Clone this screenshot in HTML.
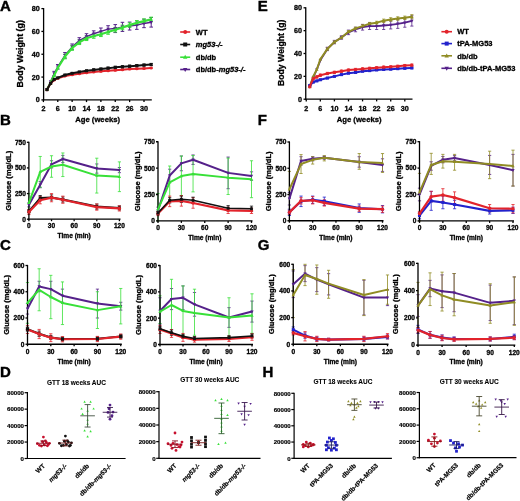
<!DOCTYPE html>
<html><head><meta charset="utf-8"><style>
html,body{margin:0;padding:0;background:#fff;}
svg{display:block;will-change:transform;}
text{font-family:"Liberation Sans", sans-serif;fill:#000;stroke:#000;stroke-width:0.3px;} text.ns{stroke-width:0.08px;} text.lt{stroke-width:0.4px;} text.ms{stroke-width:0.18px;}
</style></head><body>
<svg width="520" height="501" viewBox="0 0 520 501">
<rect width="520" height="501" fill="#fff"/>
<line x1="54.18" y1="71.37" x2="54.18" y2="75.93" stroke="#55218a" stroke-width="1.0"/>
<line x1="52.38" y1="71.37" x2="55.98" y2="71.37" stroke="#55218a" stroke-width="1.0"/>
<line x1="52.38" y1="75.93" x2="55.98" y2="75.93" stroke="#55218a" stroke-width="1.0"/>
<line x1="57.77" y1="64.52" x2="57.77" y2="69.09" stroke="#55218a" stroke-width="1.0"/>
<line x1="55.97" y1="64.52" x2="59.57" y2="64.52" stroke="#55218a" stroke-width="1.0"/>
<line x1="55.97" y1="69.09" x2="59.57" y2="69.09" stroke="#55218a" stroke-width="1.0"/>
<line x1="64.96" y1="52.54" x2="64.96" y2="58.24" stroke="#55218a" stroke-width="1.0"/>
<line x1="63.16" y1="52.54" x2="66.76" y2="52.54" stroke="#55218a" stroke-width="1.0"/>
<line x1="63.16" y1="58.24" x2="66.76" y2="58.24" stroke="#55218a" stroke-width="1.0"/>
<line x1="72.14" y1="43.98" x2="72.14" y2="49.68" stroke="#55218a" stroke-width="1.0"/>
<line x1="70.34" y1="43.98" x2="73.94" y2="43.98" stroke="#55218a" stroke-width="1.0"/>
<line x1="70.34" y1="49.68" x2="73.94" y2="49.68" stroke="#55218a" stroke-width="1.0"/>
<line x1="79.33" y1="37.70" x2="79.33" y2="43.41" stroke="#55218a" stroke-width="1.0"/>
<line x1="77.53" y1="37.70" x2="81.13" y2="37.70" stroke="#55218a" stroke-width="1.0"/>
<line x1="77.53" y1="43.41" x2="81.13" y2="43.41" stroke="#55218a" stroke-width="1.0"/>
<line x1="86.51" y1="33.71" x2="86.51" y2="39.41" stroke="#55218a" stroke-width="1.0"/>
<line x1="84.71" y1="33.71" x2="88.31" y2="33.71" stroke="#55218a" stroke-width="1.0"/>
<line x1="84.71" y1="39.41" x2="88.31" y2="39.41" stroke="#55218a" stroke-width="1.0"/>
<line x1="93.70" y1="30.85" x2="93.70" y2="36.56" stroke="#55218a" stroke-width="1.0"/>
<line x1="91.90" y1="30.85" x2="95.50" y2="30.85" stroke="#55218a" stroke-width="1.0"/>
<line x1="91.90" y1="36.56" x2="95.50" y2="36.56" stroke="#55218a" stroke-width="1.0"/>
<line x1="100.89" y1="28.00" x2="100.89" y2="34.85" stroke="#55218a" stroke-width="1.0"/>
<line x1="99.09" y1="28.00" x2="102.69" y2="28.00" stroke="#55218a" stroke-width="1.0"/>
<line x1="99.09" y1="34.85" x2="102.69" y2="34.85" stroke="#55218a" stroke-width="1.0"/>
<line x1="108.07" y1="25.72" x2="108.07" y2="32.57" stroke="#55218a" stroke-width="1.0"/>
<line x1="106.27" y1="25.72" x2="109.87" y2="25.72" stroke="#55218a" stroke-width="1.0"/>
<line x1="106.27" y1="32.57" x2="109.87" y2="32.57" stroke="#55218a" stroke-width="1.0"/>
<line x1="115.26" y1="24.58" x2="115.26" y2="32.57" stroke="#55218a" stroke-width="1.0"/>
<line x1="113.46" y1="24.58" x2="117.06" y2="24.58" stroke="#55218a" stroke-width="1.0"/>
<line x1="113.46" y1="32.57" x2="117.06" y2="32.57" stroke="#55218a" stroke-width="1.0"/>
<line x1="122.44" y1="22.30" x2="122.44" y2="31.42" stroke="#55218a" stroke-width="1.0"/>
<line x1="120.64" y1="22.30" x2="124.24" y2="22.30" stroke="#55218a" stroke-width="1.0"/>
<line x1="120.64" y1="31.42" x2="124.24" y2="31.42" stroke="#55218a" stroke-width="1.0"/>
<line x1="129.63" y1="22.07" x2="129.63" y2="30.06" stroke="#55218a" stroke-width="1.0"/>
<line x1="127.83" y1="22.07" x2="131.43" y2="22.07" stroke="#55218a" stroke-width="1.0"/>
<line x1="127.83" y1="30.06" x2="131.43" y2="30.06" stroke="#55218a" stroke-width="1.0"/>
<line x1="136.81" y1="20.93" x2="136.81" y2="29.37" stroke="#55218a" stroke-width="1.0"/>
<line x1="135.01" y1="20.93" x2="138.61" y2="20.93" stroke="#55218a" stroke-width="1.0"/>
<line x1="135.01" y1="29.37" x2="138.61" y2="29.37" stroke="#55218a" stroke-width="1.0"/>
<line x1="144.00" y1="19.21" x2="144.00" y2="27.66" stroke="#55218a" stroke-width="1.0"/>
<line x1="142.20" y1="19.21" x2="145.80" y2="19.21" stroke="#55218a" stroke-width="1.0"/>
<line x1="142.20" y1="27.66" x2="145.80" y2="27.66" stroke="#55218a" stroke-width="1.0"/>
<line x1="151.19" y1="17.50" x2="151.19" y2="27.09" stroke="#55218a" stroke-width="1.0"/>
<line x1="149.39" y1="17.50" x2="152.99" y2="17.50" stroke="#55218a" stroke-width="1.0"/>
<line x1="149.39" y1="27.09" x2="152.99" y2="27.09" stroke="#55218a" stroke-width="1.0"/>
<line x1="64.96" y1="54.25" x2="64.96" y2="58.82" stroke="#38e038" stroke-width="1.0"/>
<line x1="63.16" y1="54.25" x2="66.76" y2="54.25" stroke="#38e038" stroke-width="1.0"/>
<line x1="63.16" y1="58.82" x2="66.76" y2="58.82" stroke="#38e038" stroke-width="1.0"/>
<line x1="72.14" y1="45.69" x2="72.14" y2="50.26" stroke="#38e038" stroke-width="1.0"/>
<line x1="70.34" y1="45.69" x2="73.94" y2="45.69" stroke="#38e038" stroke-width="1.0"/>
<line x1="70.34" y1="50.26" x2="73.94" y2="50.26" stroke="#38e038" stroke-width="1.0"/>
<line x1="79.33" y1="39.98" x2="79.33" y2="44.55" stroke="#38e038" stroke-width="1.0"/>
<line x1="77.53" y1="39.98" x2="81.13" y2="39.98" stroke="#38e038" stroke-width="1.0"/>
<line x1="77.53" y1="44.55" x2="81.13" y2="44.55" stroke="#38e038" stroke-width="1.0"/>
<line x1="86.51" y1="35.99" x2="86.51" y2="40.55" stroke="#38e038" stroke-width="1.0"/>
<line x1="84.71" y1="35.99" x2="88.31" y2="35.99" stroke="#38e038" stroke-width="1.0"/>
<line x1="84.71" y1="40.55" x2="88.31" y2="40.55" stroke="#38e038" stroke-width="1.0"/>
<line x1="93.70" y1="33.71" x2="93.70" y2="38.27" stroke="#38e038" stroke-width="1.0"/>
<line x1="91.90" y1="33.71" x2="95.50" y2="33.71" stroke="#38e038" stroke-width="1.0"/>
<line x1="91.90" y1="38.27" x2="95.50" y2="38.27" stroke="#38e038" stroke-width="1.0"/>
<line x1="100.89" y1="32.00" x2="100.89" y2="36.56" stroke="#38e038" stroke-width="1.0"/>
<line x1="99.09" y1="32.00" x2="102.69" y2="32.00" stroke="#38e038" stroke-width="1.0"/>
<line x1="99.09" y1="36.56" x2="102.69" y2="36.56" stroke="#38e038" stroke-width="1.0"/>
<line x1="108.07" y1="29.71" x2="108.07" y2="34.28" stroke="#38e038" stroke-width="1.0"/>
<line x1="106.27" y1="29.71" x2="109.87" y2="29.71" stroke="#38e038" stroke-width="1.0"/>
<line x1="106.27" y1="34.28" x2="109.87" y2="34.28" stroke="#38e038" stroke-width="1.0"/>
<line x1="115.26" y1="27.43" x2="115.26" y2="32.00" stroke="#38e038" stroke-width="1.0"/>
<line x1="113.46" y1="27.43" x2="117.06" y2="27.43" stroke="#38e038" stroke-width="1.0"/>
<line x1="113.46" y1="32.00" x2="117.06" y2="32.00" stroke="#38e038" stroke-width="1.0"/>
<line x1="122.44" y1="25.15" x2="122.44" y2="29.71" stroke="#38e038" stroke-width="1.0"/>
<line x1="120.64" y1="25.15" x2="124.24" y2="25.15" stroke="#38e038" stroke-width="1.0"/>
<line x1="120.64" y1="29.71" x2="124.24" y2="29.71" stroke="#38e038" stroke-width="1.0"/>
<line x1="129.63" y1="22.87" x2="129.63" y2="27.43" stroke="#38e038" stroke-width="1.0"/>
<line x1="127.83" y1="22.87" x2="131.43" y2="22.87" stroke="#38e038" stroke-width="1.0"/>
<line x1="127.83" y1="27.43" x2="131.43" y2="27.43" stroke="#38e038" stroke-width="1.0"/>
<line x1="136.81" y1="20.58" x2="136.81" y2="25.15" stroke="#38e038" stroke-width="1.0"/>
<line x1="135.01" y1="20.58" x2="138.61" y2="20.58" stroke="#38e038" stroke-width="1.0"/>
<line x1="135.01" y1="25.15" x2="138.61" y2="25.15" stroke="#38e038" stroke-width="1.0"/>
<line x1="144.00" y1="18.87" x2="144.00" y2="23.44" stroke="#38e038" stroke-width="1.0"/>
<line x1="142.20" y1="18.87" x2="145.80" y2="18.87" stroke="#38e038" stroke-width="1.0"/>
<line x1="142.20" y1="23.44" x2="145.80" y2="23.44" stroke="#38e038" stroke-width="1.0"/>
<line x1="151.19" y1="17.16" x2="151.19" y2="21.72" stroke="#38e038" stroke-width="1.0"/>
<line x1="149.39" y1="17.16" x2="152.99" y2="17.16" stroke="#38e038" stroke-width="1.0"/>
<line x1="149.39" y1="21.72" x2="152.99" y2="21.72" stroke="#38e038" stroke-width="1.0"/>
<line x1="46.99" y1="89.06" x2="46.99" y2="90.20" stroke="#e2232b" stroke-width="0.8"/>
<line x1="45.39" y1="89.06" x2="48.59" y2="89.06" stroke="#e2232b" stroke-width="0.8"/>
<line x1="45.39" y1="90.20" x2="48.59" y2="90.20" stroke="#e2232b" stroke-width="0.8"/>
<line x1="50.59" y1="82.78" x2="50.59" y2="83.92" stroke="#e2232b" stroke-width="0.8"/>
<line x1="48.99" y1="82.78" x2="52.19" y2="82.78" stroke="#e2232b" stroke-width="0.8"/>
<line x1="48.99" y1="83.92" x2="52.19" y2="83.92" stroke="#e2232b" stroke-width="0.8"/>
<line x1="54.18" y1="79.36" x2="54.18" y2="80.50" stroke="#e2232b" stroke-width="0.8"/>
<line x1="52.58" y1="79.36" x2="55.78" y2="79.36" stroke="#e2232b" stroke-width="0.8"/>
<line x1="52.58" y1="80.50" x2="55.78" y2="80.50" stroke="#e2232b" stroke-width="0.8"/>
<line x1="57.77" y1="77.65" x2="57.77" y2="78.79" stroke="#e2232b" stroke-width="0.8"/>
<line x1="56.17" y1="77.65" x2="59.37" y2="77.65" stroke="#e2232b" stroke-width="0.8"/>
<line x1="56.17" y1="78.79" x2="59.37" y2="78.79" stroke="#e2232b" stroke-width="0.8"/>
<line x1="64.96" y1="75.36" x2="64.96" y2="76.50" stroke="#e2232b" stroke-width="0.8"/>
<line x1="63.36" y1="75.36" x2="66.56" y2="75.36" stroke="#e2232b" stroke-width="0.8"/>
<line x1="63.36" y1="76.50" x2="66.56" y2="76.50" stroke="#e2232b" stroke-width="0.8"/>
<line x1="72.14" y1="74.22" x2="72.14" y2="75.36" stroke="#e2232b" stroke-width="0.8"/>
<line x1="70.54" y1="74.22" x2="73.74" y2="74.22" stroke="#e2232b" stroke-width="0.8"/>
<line x1="70.54" y1="75.36" x2="73.74" y2="75.36" stroke="#e2232b" stroke-width="0.8"/>
<line x1="79.33" y1="73.08" x2="79.33" y2="74.22" stroke="#e2232b" stroke-width="0.8"/>
<line x1="77.73" y1="73.08" x2="80.93" y2="73.08" stroke="#e2232b" stroke-width="0.8"/>
<line x1="77.73" y1="74.22" x2="80.93" y2="74.22" stroke="#e2232b" stroke-width="0.8"/>
<line x1="86.51" y1="72.17" x2="86.51" y2="73.31" stroke="#e2232b" stroke-width="0.8"/>
<line x1="84.91" y1="72.17" x2="88.11" y2="72.17" stroke="#e2232b" stroke-width="0.8"/>
<line x1="84.91" y1="73.31" x2="88.11" y2="73.31" stroke="#e2232b" stroke-width="0.8"/>
<line x1="93.70" y1="71.37" x2="93.70" y2="72.51" stroke="#e2232b" stroke-width="0.8"/>
<line x1="92.10" y1="71.37" x2="95.30" y2="71.37" stroke="#e2232b" stroke-width="0.8"/>
<line x1="92.10" y1="72.51" x2="95.30" y2="72.51" stroke="#e2232b" stroke-width="0.8"/>
<line x1="100.89" y1="70.80" x2="100.89" y2="71.94" stroke="#e2232b" stroke-width="0.8"/>
<line x1="99.29" y1="70.80" x2="102.49" y2="70.80" stroke="#e2232b" stroke-width="0.8"/>
<line x1="99.29" y1="71.94" x2="102.49" y2="71.94" stroke="#e2232b" stroke-width="0.8"/>
<line x1="108.07" y1="70.23" x2="108.07" y2="71.37" stroke="#e2232b" stroke-width="0.8"/>
<line x1="106.47" y1="70.23" x2="109.67" y2="70.23" stroke="#e2232b" stroke-width="0.8"/>
<line x1="106.47" y1="71.37" x2="109.67" y2="71.37" stroke="#e2232b" stroke-width="0.8"/>
<line x1="115.26" y1="69.66" x2="115.26" y2="70.80" stroke="#e2232b" stroke-width="0.8"/>
<line x1="113.66" y1="69.66" x2="116.86" y2="69.66" stroke="#e2232b" stroke-width="0.8"/>
<line x1="113.66" y1="70.80" x2="116.86" y2="70.80" stroke="#e2232b" stroke-width="0.8"/>
<line x1="122.44" y1="69.09" x2="122.44" y2="70.23" stroke="#e2232b" stroke-width="0.8"/>
<line x1="120.84" y1="69.09" x2="124.04" y2="69.09" stroke="#e2232b" stroke-width="0.8"/>
<line x1="120.84" y1="70.23" x2="124.04" y2="70.23" stroke="#e2232b" stroke-width="0.8"/>
<line x1="129.63" y1="68.52" x2="129.63" y2="69.66" stroke="#e2232b" stroke-width="0.8"/>
<line x1="128.03" y1="68.52" x2="131.23" y2="68.52" stroke="#e2232b" stroke-width="0.8"/>
<line x1="128.03" y1="69.66" x2="131.23" y2="69.66" stroke="#e2232b" stroke-width="0.8"/>
<line x1="136.81" y1="68.17" x2="136.81" y2="69.31" stroke="#e2232b" stroke-width="0.8"/>
<line x1="135.21" y1="68.17" x2="138.41" y2="68.17" stroke="#e2232b" stroke-width="0.8"/>
<line x1="135.21" y1="69.31" x2="138.41" y2="69.31" stroke="#e2232b" stroke-width="0.8"/>
<line x1="144.00" y1="67.83" x2="144.00" y2="68.97" stroke="#e2232b" stroke-width="0.8"/>
<line x1="142.40" y1="67.83" x2="145.60" y2="67.83" stroke="#e2232b" stroke-width="0.8"/>
<line x1="142.40" y1="68.97" x2="145.60" y2="68.97" stroke="#e2232b" stroke-width="0.8"/>
<line x1="151.19" y1="67.37" x2="151.19" y2="68.52" stroke="#e2232b" stroke-width="0.8"/>
<line x1="149.59" y1="67.37" x2="152.79" y2="67.37" stroke="#e2232b" stroke-width="0.8"/>
<line x1="149.59" y1="68.52" x2="152.79" y2="68.52" stroke="#e2232b" stroke-width="0.8"/>
<line x1="46.99" y1="88.94" x2="46.99" y2="90.31" stroke="#111111" stroke-width="0.8"/>
<line x1="45.39" y1="88.94" x2="48.59" y2="88.94" stroke="#111111" stroke-width="0.8"/>
<line x1="45.39" y1="90.31" x2="48.59" y2="90.31" stroke="#111111" stroke-width="0.8"/>
<line x1="50.59" y1="82.67" x2="50.59" y2="84.04" stroke="#111111" stroke-width="0.8"/>
<line x1="48.99" y1="82.67" x2="52.19" y2="82.67" stroke="#111111" stroke-width="0.8"/>
<line x1="48.99" y1="84.04" x2="52.19" y2="84.04" stroke="#111111" stroke-width="0.8"/>
<line x1="54.18" y1="78.67" x2="54.18" y2="80.04" stroke="#111111" stroke-width="0.8"/>
<line x1="52.58" y1="78.67" x2="55.78" y2="78.67" stroke="#111111" stroke-width="0.8"/>
<line x1="52.58" y1="80.04" x2="55.78" y2="80.04" stroke="#111111" stroke-width="0.8"/>
<line x1="57.77" y1="77.19" x2="57.77" y2="78.56" stroke="#111111" stroke-width="0.8"/>
<line x1="56.17" y1="77.19" x2="59.37" y2="77.19" stroke="#111111" stroke-width="0.8"/>
<line x1="56.17" y1="78.56" x2="59.37" y2="78.56" stroke="#111111" stroke-width="0.8"/>
<line x1="64.96" y1="74.34" x2="64.96" y2="75.71" stroke="#111111" stroke-width="0.8"/>
<line x1="63.36" y1="74.34" x2="66.56" y2="74.34" stroke="#111111" stroke-width="0.8"/>
<line x1="63.36" y1="75.71" x2="66.56" y2="75.71" stroke="#111111" stroke-width="0.8"/>
<line x1="72.14" y1="72.62" x2="72.14" y2="73.99" stroke="#111111" stroke-width="0.8"/>
<line x1="70.54" y1="72.62" x2="73.74" y2="72.62" stroke="#111111" stroke-width="0.8"/>
<line x1="70.54" y1="73.99" x2="73.74" y2="73.99" stroke="#111111" stroke-width="0.8"/>
<line x1="79.33" y1="71.25" x2="79.33" y2="72.62" stroke="#111111" stroke-width="0.8"/>
<line x1="77.73" y1="71.25" x2="80.93" y2="71.25" stroke="#111111" stroke-width="0.8"/>
<line x1="77.73" y1="72.62" x2="80.93" y2="72.62" stroke="#111111" stroke-width="0.8"/>
<line x1="86.51" y1="70.11" x2="86.51" y2="71.48" stroke="#111111" stroke-width="0.8"/>
<line x1="84.91" y1="70.11" x2="88.11" y2="70.11" stroke="#111111" stroke-width="0.8"/>
<line x1="84.91" y1="71.48" x2="88.11" y2="71.48" stroke="#111111" stroke-width="0.8"/>
<line x1="93.70" y1="68.74" x2="93.70" y2="71.03" stroke="#111111" stroke-width="0.8"/>
<line x1="92.10" y1="68.74" x2="95.30" y2="68.74" stroke="#111111" stroke-width="0.8"/>
<line x1="92.10" y1="71.03" x2="95.30" y2="71.03" stroke="#111111" stroke-width="0.8"/>
<line x1="100.89" y1="67.94" x2="100.89" y2="70.23" stroke="#111111" stroke-width="0.8"/>
<line x1="99.29" y1="67.94" x2="102.49" y2="67.94" stroke="#111111" stroke-width="0.8"/>
<line x1="99.29" y1="70.23" x2="102.49" y2="70.23" stroke="#111111" stroke-width="0.8"/>
<line x1="108.07" y1="67.03" x2="108.07" y2="69.31" stroke="#111111" stroke-width="0.8"/>
<line x1="106.47" y1="67.03" x2="109.67" y2="67.03" stroke="#111111" stroke-width="0.8"/>
<line x1="106.47" y1="69.31" x2="109.67" y2="69.31" stroke="#111111" stroke-width="0.8"/>
<line x1="115.26" y1="66.23" x2="115.26" y2="68.52" stroke="#111111" stroke-width="0.8"/>
<line x1="113.66" y1="66.23" x2="116.86" y2="66.23" stroke="#111111" stroke-width="0.8"/>
<line x1="113.66" y1="68.52" x2="116.86" y2="68.52" stroke="#111111" stroke-width="0.8"/>
<line x1="122.44" y1="65.66" x2="122.44" y2="67.94" stroke="#111111" stroke-width="0.8"/>
<line x1="120.84" y1="65.66" x2="124.04" y2="65.66" stroke="#111111" stroke-width="0.8"/>
<line x1="120.84" y1="67.94" x2="124.04" y2="67.94" stroke="#111111" stroke-width="0.8"/>
<line x1="129.63" y1="65.09" x2="129.63" y2="67.37" stroke="#111111" stroke-width="0.8"/>
<line x1="128.03" y1="65.09" x2="131.23" y2="65.09" stroke="#111111" stroke-width="0.8"/>
<line x1="128.03" y1="67.37" x2="131.23" y2="67.37" stroke="#111111" stroke-width="0.8"/>
<line x1="136.81" y1="64.52" x2="136.81" y2="66.80" stroke="#111111" stroke-width="0.8"/>
<line x1="135.21" y1="64.52" x2="138.41" y2="64.52" stroke="#111111" stroke-width="0.8"/>
<line x1="135.21" y1="66.80" x2="138.41" y2="66.80" stroke="#111111" stroke-width="0.8"/>
<line x1="144.00" y1="63.95" x2="144.00" y2="66.23" stroke="#111111" stroke-width="0.8"/>
<line x1="142.40" y1="63.95" x2="145.60" y2="63.95" stroke="#111111" stroke-width="0.8"/>
<line x1="142.40" y1="66.23" x2="145.60" y2="66.23" stroke="#111111" stroke-width="0.8"/>
<line x1="151.19" y1="63.38" x2="151.19" y2="65.66" stroke="#111111" stroke-width="0.8"/>
<line x1="149.59" y1="63.38" x2="152.79" y2="63.38" stroke="#111111" stroke-width="0.8"/>
<line x1="149.59" y1="65.66" x2="152.79" y2="65.66" stroke="#111111" stroke-width="0.8"/>
<line x1="28.90" y1="202.79" x2="28.90" y2="206.90" stroke="#55218a" stroke-width="0.8"/>
<line x1="27.30" y1="202.79" x2="30.50" y2="202.79" stroke="#55218a" stroke-width="0.8"/>
<line x1="27.30" y1="206.90" x2="30.50" y2="206.90" stroke="#55218a" stroke-width="0.8"/>
<line x1="40.21" y1="181.57" x2="40.21" y2="187.72" stroke="#55218a" stroke-width="0.8"/>
<line x1="38.61" y1="181.57" x2="41.81" y2="181.57" stroke="#55218a" stroke-width="0.8"/>
<line x1="38.61" y1="187.72" x2="41.81" y2="187.72" stroke="#55218a" stroke-width="0.8"/>
<line x1="51.52" y1="160.76" x2="51.52" y2="167.93" stroke="#55218a" stroke-width="0.8"/>
<line x1="49.92" y1="160.76" x2="53.12" y2="160.76" stroke="#55218a" stroke-width="0.8"/>
<line x1="49.92" y1="167.93" x2="53.12" y2="167.93" stroke="#55218a" stroke-width="0.8"/>
<line x1="62.84" y1="155.42" x2="62.84" y2="162.60" stroke="#55218a" stroke-width="0.8"/>
<line x1="61.24" y1="155.42" x2="64.44" y2="155.42" stroke="#55218a" stroke-width="0.8"/>
<line x1="61.24" y1="162.60" x2="64.44" y2="162.60" stroke="#55218a" stroke-width="0.8"/>
<line x1="96.78" y1="163.93" x2="96.78" y2="173.16" stroke="#55218a" stroke-width="0.8"/>
<line x1="95.18" y1="163.93" x2="98.38" y2="163.93" stroke="#55218a" stroke-width="0.8"/>
<line x1="95.18" y1="173.16" x2="98.38" y2="173.16" stroke="#55218a" stroke-width="0.8"/>
<line x1="119.40" y1="167.52" x2="119.40" y2="172.65" stroke="#55218a" stroke-width="0.8"/>
<line x1="117.80" y1="167.52" x2="121.00" y2="167.52" stroke="#55218a" stroke-width="0.8"/>
<line x1="117.80" y1="172.65" x2="121.00" y2="172.65" stroke="#55218a" stroke-width="0.8"/>
<line x1="28.90" y1="193.57" x2="28.90" y2="212.02" stroke="#38e038" stroke-width="0.8"/>
<line x1="27.30" y1="193.57" x2="30.50" y2="193.57" stroke="#38e038" stroke-width="0.8"/>
<line x1="27.30" y1="212.02" x2="30.50" y2="212.02" stroke="#38e038" stroke-width="0.8"/>
<line x1="40.21" y1="156.45" x2="40.21" y2="187.21" stroke="#38e038" stroke-width="0.8"/>
<line x1="38.61" y1="156.45" x2="41.81" y2="156.45" stroke="#38e038" stroke-width="0.8"/>
<line x1="38.61" y1="187.21" x2="41.81" y2="187.21" stroke="#38e038" stroke-width="0.8"/>
<line x1="51.52" y1="155.73" x2="51.52" y2="177.26" stroke="#38e038" stroke-width="0.8"/>
<line x1="49.92" y1="155.73" x2="53.12" y2="155.73" stroke="#38e038" stroke-width="0.8"/>
<line x1="49.92" y1="177.26" x2="53.12" y2="177.26" stroke="#38e038" stroke-width="0.8"/>
<line x1="62.84" y1="152.96" x2="62.84" y2="176.55" stroke="#38e038" stroke-width="0.8"/>
<line x1="61.24" y1="152.96" x2="64.44" y2="152.96" stroke="#38e038" stroke-width="0.8"/>
<line x1="61.24" y1="176.55" x2="64.44" y2="176.55" stroke="#38e038" stroke-width="0.8"/>
<line x1="96.78" y1="158.19" x2="96.78" y2="193.05" stroke="#38e038" stroke-width="0.8"/>
<line x1="95.18" y1="158.19" x2="98.38" y2="158.19" stroke="#38e038" stroke-width="0.8"/>
<line x1="95.18" y1="193.05" x2="98.38" y2="193.05" stroke="#38e038" stroke-width="0.8"/>
<line x1="119.40" y1="161.88" x2="119.40" y2="191.62" stroke="#38e038" stroke-width="0.8"/>
<line x1="117.80" y1="161.88" x2="121.00" y2="161.88" stroke="#38e038" stroke-width="0.8"/>
<line x1="117.80" y1="191.62" x2="121.00" y2="191.62" stroke="#38e038" stroke-width="0.8"/>
<line x1="28.90" y1="209.77" x2="28.90" y2="212.84" stroke="#111111" stroke-width="0.8"/>
<line x1="27.30" y1="209.77" x2="30.50" y2="209.77" stroke="#111111" stroke-width="0.8"/>
<line x1="27.30" y1="212.84" x2="30.50" y2="212.84" stroke="#111111" stroke-width="0.8"/>
<line x1="40.21" y1="195.51" x2="40.21" y2="200.64" stroke="#111111" stroke-width="0.8"/>
<line x1="38.61" y1="195.51" x2="41.81" y2="195.51" stroke="#111111" stroke-width="0.8"/>
<line x1="38.61" y1="200.64" x2="41.81" y2="200.64" stroke="#111111" stroke-width="0.8"/>
<line x1="51.52" y1="194.90" x2="51.52" y2="200.03" stroke="#111111" stroke-width="0.8"/>
<line x1="49.92" y1="194.90" x2="53.12" y2="194.90" stroke="#111111" stroke-width="0.8"/>
<line x1="49.92" y1="200.03" x2="53.12" y2="200.03" stroke="#111111" stroke-width="0.8"/>
<line x1="62.84" y1="196.95" x2="62.84" y2="202.08" stroke="#111111" stroke-width="0.8"/>
<line x1="61.24" y1="196.95" x2="64.44" y2="196.95" stroke="#111111" stroke-width="0.8"/>
<line x1="61.24" y1="202.08" x2="64.44" y2="202.08" stroke="#111111" stroke-width="0.8"/>
<line x1="96.78" y1="204.03" x2="96.78" y2="209.15" stroke="#111111" stroke-width="0.8"/>
<line x1="95.18" y1="204.03" x2="98.38" y2="204.03" stroke="#111111" stroke-width="0.8"/>
<line x1="95.18" y1="209.15" x2="98.38" y2="209.15" stroke="#111111" stroke-width="0.8"/>
<line x1="119.40" y1="205.87" x2="119.40" y2="209.97" stroke="#111111" stroke-width="0.8"/>
<line x1="117.80" y1="205.87" x2="121.00" y2="205.87" stroke="#111111" stroke-width="0.8"/>
<line x1="117.80" y1="209.97" x2="121.00" y2="209.97" stroke="#111111" stroke-width="0.8"/>
<line x1="28.90" y1="209.46" x2="28.90" y2="214.59" stroke="#e2232b" stroke-width="0.8"/>
<line x1="27.30" y1="209.46" x2="30.50" y2="209.46" stroke="#e2232b" stroke-width="0.8"/>
<line x1="27.30" y1="214.59" x2="30.50" y2="214.59" stroke="#e2232b" stroke-width="0.8"/>
<line x1="40.21" y1="196.64" x2="40.21" y2="203.82" stroke="#e2232b" stroke-width="0.8"/>
<line x1="38.61" y1="196.64" x2="41.81" y2="196.64" stroke="#e2232b" stroke-width="0.8"/>
<line x1="38.61" y1="203.82" x2="41.81" y2="203.82" stroke="#e2232b" stroke-width="0.8"/>
<line x1="51.52" y1="193.57" x2="51.52" y2="201.77" stroke="#e2232b" stroke-width="0.8"/>
<line x1="49.92" y1="193.57" x2="53.12" y2="193.57" stroke="#e2232b" stroke-width="0.8"/>
<line x1="49.92" y1="201.77" x2="53.12" y2="201.77" stroke="#e2232b" stroke-width="0.8"/>
<line x1="62.84" y1="196.13" x2="62.84" y2="203.31" stroke="#e2232b" stroke-width="0.8"/>
<line x1="61.24" y1="196.13" x2="64.44" y2="196.13" stroke="#e2232b" stroke-width="0.8"/>
<line x1="61.24" y1="203.31" x2="64.44" y2="203.31" stroke="#e2232b" stroke-width="0.8"/>
<line x1="96.78" y1="204.03" x2="96.78" y2="210.18" stroke="#e2232b" stroke-width="0.8"/>
<line x1="95.18" y1="204.03" x2="98.38" y2="204.03" stroke="#e2232b" stroke-width="0.8"/>
<line x1="95.18" y1="210.18" x2="98.38" y2="210.18" stroke="#e2232b" stroke-width="0.8"/>
<line x1="119.40" y1="205.87" x2="119.40" y2="211.00" stroke="#e2232b" stroke-width="0.8"/>
<line x1="117.80" y1="205.87" x2="121.00" y2="205.87" stroke="#e2232b" stroke-width="0.8"/>
<line x1="117.80" y1="211.00" x2="121.00" y2="211.00" stroke="#e2232b" stroke-width="0.8"/>
<line x1="158.00" y1="207.18" x2="158.00" y2="213.51" stroke="#55218a" stroke-width="0.8"/>
<line x1="156.40" y1="207.18" x2="159.60" y2="207.18" stroke="#55218a" stroke-width="0.8"/>
<line x1="156.40" y1="213.51" x2="159.60" y2="213.51" stroke="#55218a" stroke-width="0.8"/>
<line x1="169.69" y1="169.19" x2="169.69" y2="181.85" stroke="#55218a" stroke-width="0.8"/>
<line x1="168.09" y1="169.19" x2="171.29" y2="169.19" stroke="#55218a" stroke-width="0.8"/>
<line x1="168.09" y1="181.85" x2="171.29" y2="181.85" stroke="#55218a" stroke-width="0.8"/>
<line x1="181.38" y1="156.00" x2="181.38" y2="170.77" stroke="#55218a" stroke-width="0.8"/>
<line x1="179.78" y1="156.00" x2="182.97" y2="156.00" stroke="#55218a" stroke-width="0.8"/>
<line x1="179.78" y1="170.77" x2="182.97" y2="170.77" stroke="#55218a" stroke-width="0.8"/>
<line x1="193.06" y1="154.94" x2="193.06" y2="164.44" stroke="#55218a" stroke-width="0.8"/>
<line x1="191.46" y1="154.94" x2="194.66" y2="154.94" stroke="#55218a" stroke-width="0.8"/>
<line x1="191.46" y1="164.44" x2="194.66" y2="164.44" stroke="#55218a" stroke-width="0.8"/>
<line x1="228.12" y1="157.05" x2="228.12" y2="188.71" stroke="#55218a" stroke-width="0.8"/>
<line x1="226.53" y1="157.05" x2="229.72" y2="157.05" stroke="#55218a" stroke-width="0.8"/>
<line x1="226.53" y1="188.71" x2="229.72" y2="188.71" stroke="#55218a" stroke-width="0.8"/>
<line x1="251.50" y1="171.83" x2="251.50" y2="180.27" stroke="#55218a" stroke-width="0.8"/>
<line x1="249.90" y1="171.83" x2="253.10" y2="171.83" stroke="#55218a" stroke-width="0.8"/>
<line x1="249.90" y1="180.27" x2="253.10" y2="180.27" stroke="#55218a" stroke-width="0.8"/>
<line x1="158.00" y1="193.46" x2="158.00" y2="220.90" stroke="#38e038" stroke-width="0.8"/>
<line x1="156.40" y1="193.46" x2="159.60" y2="193.46" stroke="#38e038" stroke-width="0.8"/>
<line x1="156.40" y1="220.90" x2="159.60" y2="220.90" stroke="#38e038" stroke-width="0.8"/>
<line x1="169.69" y1="166.02" x2="169.69" y2="199.79" stroke="#38e038" stroke-width="0.8"/>
<line x1="168.09" y1="166.02" x2="171.29" y2="166.02" stroke="#38e038" stroke-width="0.8"/>
<line x1="168.09" y1="199.79" x2="171.29" y2="199.79" stroke="#38e038" stroke-width="0.8"/>
<line x1="181.38" y1="156.00" x2="181.38" y2="195.57" stroke="#38e038" stroke-width="0.8"/>
<line x1="179.78" y1="156.00" x2="182.97" y2="156.00" stroke="#38e038" stroke-width="0.8"/>
<line x1="179.78" y1="195.57" x2="182.97" y2="195.57" stroke="#38e038" stroke-width="0.8"/>
<line x1="193.06" y1="155.47" x2="193.06" y2="191.88" stroke="#38e038" stroke-width="0.8"/>
<line x1="191.46" y1="155.47" x2="194.66" y2="155.47" stroke="#38e038" stroke-width="0.8"/>
<line x1="191.46" y1="191.88" x2="194.66" y2="191.88" stroke="#38e038" stroke-width="0.8"/>
<line x1="228.12" y1="158.11" x2="228.12" y2="194.52" stroke="#38e038" stroke-width="0.8"/>
<line x1="226.53" y1="158.11" x2="229.72" y2="158.11" stroke="#38e038" stroke-width="0.8"/>
<line x1="226.53" y1="194.52" x2="229.72" y2="194.52" stroke="#38e038" stroke-width="0.8"/>
<line x1="251.50" y1="160.75" x2="251.50" y2="197.68" stroke="#38e038" stroke-width="0.8"/>
<line x1="249.90" y1="160.75" x2="253.10" y2="160.75" stroke="#38e038" stroke-width="0.8"/>
<line x1="249.90" y1="197.68" x2="253.10" y2="197.68" stroke="#38e038" stroke-width="0.8"/>
<line x1="158.00" y1="211.40" x2="158.00" y2="215.62" stroke="#e2232b" stroke-width="0.8"/>
<line x1="156.40" y1="211.40" x2="159.60" y2="211.40" stroke="#e2232b" stroke-width="0.8"/>
<line x1="156.40" y1="215.62" x2="159.60" y2="215.62" stroke="#e2232b" stroke-width="0.8"/>
<line x1="169.69" y1="196.10" x2="169.69" y2="206.65" stroke="#e2232b" stroke-width="0.8"/>
<line x1="168.09" y1="196.10" x2="171.29" y2="196.10" stroke="#e2232b" stroke-width="0.8"/>
<line x1="168.09" y1="206.65" x2="171.29" y2="206.65" stroke="#e2232b" stroke-width="0.8"/>
<line x1="181.38" y1="195.57" x2="181.38" y2="206.13" stroke="#e2232b" stroke-width="0.8"/>
<line x1="179.78" y1="195.57" x2="182.97" y2="195.57" stroke="#e2232b" stroke-width="0.8"/>
<line x1="179.78" y1="206.13" x2="182.97" y2="206.13" stroke="#e2232b" stroke-width="0.8"/>
<line x1="193.06" y1="197.68" x2="193.06" y2="208.24" stroke="#e2232b" stroke-width="0.8"/>
<line x1="191.46" y1="197.68" x2="194.66" y2="197.68" stroke="#e2232b" stroke-width="0.8"/>
<line x1="191.46" y1="208.24" x2="194.66" y2="208.24" stroke="#e2232b" stroke-width="0.8"/>
<line x1="228.12" y1="207.18" x2="228.12" y2="213.51" stroke="#e2232b" stroke-width="0.8"/>
<line x1="226.53" y1="207.18" x2="229.72" y2="207.18" stroke="#e2232b" stroke-width="0.8"/>
<line x1="226.53" y1="213.51" x2="229.72" y2="213.51" stroke="#e2232b" stroke-width="0.8"/>
<line x1="251.50" y1="208.24" x2="251.50" y2="213.51" stroke="#e2232b" stroke-width="0.8"/>
<line x1="249.90" y1="208.24" x2="253.10" y2="208.24" stroke="#e2232b" stroke-width="0.8"/>
<line x1="249.90" y1="213.51" x2="253.10" y2="213.51" stroke="#e2232b" stroke-width="0.8"/>
<line x1="158.00" y1="211.40" x2="158.00" y2="214.57" stroke="#111111" stroke-width="0.8"/>
<line x1="156.40" y1="211.40" x2="159.60" y2="211.40" stroke="#111111" stroke-width="0.8"/>
<line x1="156.40" y1="214.57" x2="159.60" y2="214.57" stroke="#111111" stroke-width="0.8"/>
<line x1="169.69" y1="197.68" x2="169.69" y2="202.96" stroke="#111111" stroke-width="0.8"/>
<line x1="168.09" y1="197.68" x2="171.29" y2="197.68" stroke="#111111" stroke-width="0.8"/>
<line x1="168.09" y1="202.96" x2="171.29" y2="202.96" stroke="#111111" stroke-width="0.8"/>
<line x1="181.38" y1="196.10" x2="181.38" y2="202.43" stroke="#111111" stroke-width="0.8"/>
<line x1="179.78" y1="196.10" x2="182.97" y2="196.10" stroke="#111111" stroke-width="0.8"/>
<line x1="179.78" y1="202.43" x2="182.97" y2="202.43" stroke="#111111" stroke-width="0.8"/>
<line x1="193.06" y1="197.16" x2="193.06" y2="203.49" stroke="#111111" stroke-width="0.8"/>
<line x1="191.46" y1="197.16" x2="194.66" y2="197.16" stroke="#111111" stroke-width="0.8"/>
<line x1="191.46" y1="203.49" x2="194.66" y2="203.49" stroke="#111111" stroke-width="0.8"/>
<line x1="228.12" y1="205.60" x2="228.12" y2="210.87" stroke="#111111" stroke-width="0.8"/>
<line x1="226.53" y1="205.60" x2="229.72" y2="205.60" stroke="#111111" stroke-width="0.8"/>
<line x1="226.53" y1="210.87" x2="229.72" y2="210.87" stroke="#111111" stroke-width="0.8"/>
<line x1="251.50" y1="206.13" x2="251.50" y2="211.40" stroke="#111111" stroke-width="0.8"/>
<line x1="249.90" y1="206.13" x2="253.10" y2="206.13" stroke="#111111" stroke-width="0.8"/>
<line x1="249.90" y1="211.40" x2="253.10" y2="211.40" stroke="#111111" stroke-width="0.8"/>
<line x1="27.50" y1="303.56" x2="27.50" y2="314.06" stroke="#55218a" stroke-width="0.8"/>
<line x1="25.90" y1="303.56" x2="29.10" y2="303.56" stroke="#55218a" stroke-width="0.8"/>
<line x1="25.90" y1="314.06" x2="29.10" y2="314.06" stroke="#55218a" stroke-width="0.8"/>
<line x1="39.16" y1="281.25" x2="39.16" y2="291.75" stroke="#55218a" stroke-width="0.8"/>
<line x1="37.56" y1="281.25" x2="40.76" y2="281.25" stroke="#55218a" stroke-width="0.8"/>
<line x1="37.56" y1="291.75" x2="40.76" y2="291.75" stroke="#55218a" stroke-width="0.8"/>
<line x1="50.81" y1="281.25" x2="50.81" y2="297.00" stroke="#55218a" stroke-width="0.8"/>
<line x1="49.21" y1="281.25" x2="52.41" y2="281.25" stroke="#55218a" stroke-width="0.8"/>
<line x1="49.21" y1="297.00" x2="52.41" y2="297.00" stroke="#55218a" stroke-width="0.8"/>
<line x1="62.47" y1="289.12" x2="62.47" y2="302.25" stroke="#55218a" stroke-width="0.8"/>
<line x1="60.87" y1="289.12" x2="64.07" y2="289.12" stroke="#55218a" stroke-width="0.8"/>
<line x1="60.87" y1="302.25" x2="64.07" y2="302.25" stroke="#55218a" stroke-width="0.8"/>
<line x1="97.44" y1="289.12" x2="97.44" y2="318.00" stroke="#55218a" stroke-width="0.8"/>
<line x1="95.84" y1="289.12" x2="99.04" y2="289.12" stroke="#55218a" stroke-width="0.8"/>
<line x1="95.84" y1="318.00" x2="99.04" y2="318.00" stroke="#55218a" stroke-width="0.8"/>
<line x1="120.75" y1="302.25" x2="120.75" y2="310.12" stroke="#55218a" stroke-width="0.8"/>
<line x1="119.15" y1="302.25" x2="122.35" y2="302.25" stroke="#55218a" stroke-width="0.8"/>
<line x1="119.15" y1="310.12" x2="122.35" y2="310.12" stroke="#55218a" stroke-width="0.8"/>
<line x1="27.50" y1="282.56" x2="27.50" y2="323.25" stroke="#38e038" stroke-width="0.8"/>
<line x1="25.90" y1="282.56" x2="29.10" y2="282.56" stroke="#38e038" stroke-width="0.8"/>
<line x1="25.90" y1="323.25" x2="29.10" y2="323.25" stroke="#38e038" stroke-width="0.8"/>
<line x1="39.16" y1="268.78" x2="39.16" y2="310.78" stroke="#38e038" stroke-width="0.8"/>
<line x1="37.56" y1="268.78" x2="40.76" y2="268.78" stroke="#38e038" stroke-width="0.8"/>
<line x1="37.56" y1="310.78" x2="40.76" y2="310.78" stroke="#38e038" stroke-width="0.8"/>
<line x1="50.81" y1="275.34" x2="50.81" y2="318.66" stroke="#38e038" stroke-width="0.8"/>
<line x1="49.21" y1="275.34" x2="52.41" y2="275.34" stroke="#38e038" stroke-width="0.8"/>
<line x1="49.21" y1="318.66" x2="52.41" y2="318.66" stroke="#38e038" stroke-width="0.8"/>
<line x1="62.47" y1="281.91" x2="62.47" y2="324.56" stroke="#38e038" stroke-width="0.8"/>
<line x1="60.87" y1="281.91" x2="64.07" y2="281.91" stroke="#38e038" stroke-width="0.8"/>
<line x1="60.87" y1="324.56" x2="64.07" y2="324.56" stroke="#38e038" stroke-width="0.8"/>
<line x1="97.44" y1="291.75" x2="97.44" y2="328.50" stroke="#38e038" stroke-width="0.8"/>
<line x1="95.84" y1="291.75" x2="99.04" y2="291.75" stroke="#38e038" stroke-width="0.8"/>
<line x1="95.84" y1="328.50" x2="99.04" y2="328.50" stroke="#38e038" stroke-width="0.8"/>
<line x1="120.75" y1="288.47" x2="120.75" y2="323.91" stroke="#38e038" stroke-width="0.8"/>
<line x1="119.15" y1="288.47" x2="122.35" y2="288.47" stroke="#38e038" stroke-width="0.8"/>
<line x1="119.15" y1="323.91" x2="122.35" y2="323.91" stroke="#38e038" stroke-width="0.8"/>
<line x1="27.50" y1="327.19" x2="27.50" y2="331.12" stroke="#111111" stroke-width="0.8"/>
<line x1="25.90" y1="327.19" x2="29.10" y2="327.19" stroke="#111111" stroke-width="0.8"/>
<line x1="25.90" y1="331.12" x2="29.10" y2="331.12" stroke="#111111" stroke-width="0.8"/>
<line x1="39.16" y1="331.12" x2="39.16" y2="336.38" stroke="#111111" stroke-width="0.8"/>
<line x1="37.56" y1="331.12" x2="40.76" y2="331.12" stroke="#111111" stroke-width="0.8"/>
<line x1="37.56" y1="336.38" x2="40.76" y2="336.38" stroke="#111111" stroke-width="0.8"/>
<line x1="50.81" y1="335.46" x2="50.81" y2="339.39" stroke="#111111" stroke-width="0.8"/>
<line x1="49.21" y1="335.46" x2="52.41" y2="335.46" stroke="#111111" stroke-width="0.8"/>
<line x1="49.21" y1="339.39" x2="52.41" y2="339.39" stroke="#111111" stroke-width="0.8"/>
<line x1="62.47" y1="337.03" x2="62.47" y2="340.97" stroke="#111111" stroke-width="0.8"/>
<line x1="60.87" y1="337.03" x2="64.07" y2="337.03" stroke="#111111" stroke-width="0.8"/>
<line x1="60.87" y1="340.97" x2="64.07" y2="340.97" stroke="#111111" stroke-width="0.8"/>
<line x1="97.44" y1="336.77" x2="97.44" y2="340.71" stroke="#111111" stroke-width="0.8"/>
<line x1="95.84" y1="336.77" x2="99.04" y2="336.77" stroke="#111111" stroke-width="0.8"/>
<line x1="95.84" y1="340.71" x2="99.04" y2="340.71" stroke="#111111" stroke-width="0.8"/>
<line x1="120.75" y1="334.41" x2="120.75" y2="338.34" stroke="#111111" stroke-width="0.8"/>
<line x1="119.15" y1="334.41" x2="122.35" y2="334.41" stroke="#111111" stroke-width="0.8"/>
<line x1="119.15" y1="338.34" x2="122.35" y2="338.34" stroke="#111111" stroke-width="0.8"/>
<line x1="27.50" y1="325.61" x2="27.50" y2="333.49" stroke="#e2232b" stroke-width="0.8"/>
<line x1="25.90" y1="325.61" x2="29.10" y2="325.61" stroke="#e2232b" stroke-width="0.8"/>
<line x1="25.90" y1="333.49" x2="29.10" y2="333.49" stroke="#e2232b" stroke-width="0.8"/>
<line x1="39.16" y1="329.42" x2="39.16" y2="338.61" stroke="#e2232b" stroke-width="0.8"/>
<line x1="37.56" y1="329.42" x2="40.76" y2="329.42" stroke="#e2232b" stroke-width="0.8"/>
<line x1="37.56" y1="338.61" x2="40.76" y2="338.61" stroke="#e2232b" stroke-width="0.8"/>
<line x1="50.81" y1="333.75" x2="50.81" y2="341.62" stroke="#e2232b" stroke-width="0.8"/>
<line x1="49.21" y1="333.75" x2="52.41" y2="333.75" stroke="#e2232b" stroke-width="0.8"/>
<line x1="49.21" y1="341.62" x2="52.41" y2="341.62" stroke="#e2232b" stroke-width="0.8"/>
<line x1="62.47" y1="336.64" x2="62.47" y2="341.89" stroke="#e2232b" stroke-width="0.8"/>
<line x1="60.87" y1="336.64" x2="64.07" y2="336.64" stroke="#e2232b" stroke-width="0.8"/>
<line x1="60.87" y1="341.89" x2="64.07" y2="341.89" stroke="#e2232b" stroke-width="0.8"/>
<line x1="97.44" y1="336.38" x2="97.44" y2="341.62" stroke="#e2232b" stroke-width="0.8"/>
<line x1="95.84" y1="336.38" x2="99.04" y2="336.38" stroke="#e2232b" stroke-width="0.8"/>
<line x1="95.84" y1="341.62" x2="99.04" y2="341.62" stroke="#e2232b" stroke-width="0.8"/>
<line x1="120.75" y1="334.01" x2="120.75" y2="339.26" stroke="#e2232b" stroke-width="0.8"/>
<line x1="119.15" y1="334.01" x2="122.35" y2="334.01" stroke="#e2232b" stroke-width="0.8"/>
<line x1="119.15" y1="339.26" x2="122.35" y2="339.26" stroke="#e2232b" stroke-width="0.8"/>
<line x1="160.00" y1="297.76" x2="160.00" y2="324.09" stroke="#55218a" stroke-width="0.8"/>
<line x1="158.40" y1="297.76" x2="161.60" y2="297.76" stroke="#55218a" stroke-width="0.8"/>
<line x1="158.40" y1="324.09" x2="161.60" y2="324.09" stroke="#55218a" stroke-width="0.8"/>
<line x1="171.50" y1="288.54" x2="171.50" y2="309.61" stroke="#55218a" stroke-width="0.8"/>
<line x1="169.90" y1="288.54" x2="173.10" y2="288.54" stroke="#55218a" stroke-width="0.8"/>
<line x1="169.90" y1="309.61" x2="173.10" y2="309.61" stroke="#55218a" stroke-width="0.8"/>
<line x1="183.00" y1="285.91" x2="183.00" y2="309.61" stroke="#55218a" stroke-width="0.8"/>
<line x1="181.40" y1="285.91" x2="184.60" y2="285.91" stroke="#55218a" stroke-width="0.8"/>
<line x1="181.40" y1="309.61" x2="184.60" y2="309.61" stroke="#55218a" stroke-width="0.8"/>
<line x1="194.50" y1="292.49" x2="194.50" y2="316.19" stroke="#55218a" stroke-width="0.8"/>
<line x1="192.90" y1="292.49" x2="196.10" y2="292.49" stroke="#55218a" stroke-width="0.8"/>
<line x1="192.90" y1="316.19" x2="196.10" y2="316.19" stroke="#55218a" stroke-width="0.8"/>
<line x1="229.00" y1="307.63" x2="229.00" y2="327.38" stroke="#55218a" stroke-width="0.8"/>
<line x1="227.40" y1="307.63" x2="230.60" y2="307.63" stroke="#55218a" stroke-width="0.8"/>
<line x1="227.40" y1="327.38" x2="230.60" y2="327.38" stroke="#55218a" stroke-width="0.8"/>
<line x1="252.00" y1="301.05" x2="252.00" y2="322.12" stroke="#55218a" stroke-width="0.8"/>
<line x1="250.40" y1="301.05" x2="253.60" y2="301.05" stroke="#55218a" stroke-width="0.8"/>
<line x1="250.40" y1="322.12" x2="253.60" y2="322.12" stroke="#55218a" stroke-width="0.8"/>
<line x1="160.00" y1="295.78" x2="160.00" y2="323.43" stroke="#38e038" stroke-width="0.8"/>
<line x1="158.40" y1="295.78" x2="161.60" y2="295.78" stroke="#38e038" stroke-width="0.8"/>
<line x1="158.40" y1="323.43" x2="161.60" y2="323.43" stroke="#38e038" stroke-width="0.8"/>
<line x1="171.50" y1="279.32" x2="171.50" y2="332.65" stroke="#38e038" stroke-width="0.8"/>
<line x1="169.90" y1="279.32" x2="173.10" y2="279.32" stroke="#38e038" stroke-width="0.8"/>
<line x1="169.90" y1="332.65" x2="173.10" y2="332.65" stroke="#38e038" stroke-width="0.8"/>
<line x1="183.00" y1="285.91" x2="183.00" y2="335.28" stroke="#38e038" stroke-width="0.8"/>
<line x1="181.40" y1="285.91" x2="184.60" y2="285.91" stroke="#38e038" stroke-width="0.8"/>
<line x1="181.40" y1="335.28" x2="184.60" y2="335.28" stroke="#38e038" stroke-width="0.8"/>
<line x1="194.50" y1="289.20" x2="194.50" y2="335.28" stroke="#38e038" stroke-width="0.8"/>
<line x1="192.90" y1="289.20" x2="196.10" y2="289.20" stroke="#38e038" stroke-width="0.8"/>
<line x1="192.90" y1="335.28" x2="196.10" y2="335.28" stroke="#38e038" stroke-width="0.8"/>
<line x1="229.00" y1="297.76" x2="229.00" y2="336.60" stroke="#38e038" stroke-width="0.8"/>
<line x1="227.40" y1="297.76" x2="230.60" y2="297.76" stroke="#38e038" stroke-width="0.8"/>
<line x1="227.40" y1="336.60" x2="230.60" y2="336.60" stroke="#38e038" stroke-width="0.8"/>
<line x1="252.00" y1="293.81" x2="252.00" y2="333.31" stroke="#38e038" stroke-width="0.8"/>
<line x1="250.40" y1="293.81" x2="253.60" y2="293.81" stroke="#38e038" stroke-width="0.8"/>
<line x1="250.40" y1="333.31" x2="253.60" y2="333.31" stroke="#38e038" stroke-width="0.8"/>
<line x1="160.00" y1="325.54" x2="160.00" y2="333.44" stroke="#e2232b" stroke-width="0.8"/>
<line x1="158.40" y1="325.54" x2="161.60" y2="325.54" stroke="#e2232b" stroke-width="0.8"/>
<line x1="158.40" y1="333.44" x2="161.60" y2="333.44" stroke="#e2232b" stroke-width="0.8"/>
<line x1="171.50" y1="329.49" x2="171.50" y2="337.39" stroke="#e2232b" stroke-width="0.8"/>
<line x1="169.90" y1="329.49" x2="173.10" y2="329.49" stroke="#e2232b" stroke-width="0.8"/>
<line x1="169.90" y1="337.39" x2="173.10" y2="337.39" stroke="#e2232b" stroke-width="0.8"/>
<line x1="183.00" y1="333.44" x2="183.00" y2="341.34" stroke="#e2232b" stroke-width="0.8"/>
<line x1="181.40" y1="333.44" x2="184.60" y2="333.44" stroke="#e2232b" stroke-width="0.8"/>
<line x1="181.40" y1="341.34" x2="184.60" y2="341.34" stroke="#e2232b" stroke-width="0.8"/>
<line x1="194.50" y1="336.86" x2="194.50" y2="342.13" stroke="#e2232b" stroke-width="0.8"/>
<line x1="192.90" y1="336.86" x2="196.10" y2="336.86" stroke="#e2232b" stroke-width="0.8"/>
<line x1="192.90" y1="342.13" x2="196.10" y2="342.13" stroke="#e2232b" stroke-width="0.8"/>
<line x1="229.00" y1="336.20" x2="229.00" y2="341.47" stroke="#e2232b" stroke-width="0.8"/>
<line x1="227.40" y1="336.20" x2="230.60" y2="336.20" stroke="#e2232b" stroke-width="0.8"/>
<line x1="227.40" y1="341.47" x2="230.60" y2="341.47" stroke="#e2232b" stroke-width="0.8"/>
<line x1="252.00" y1="333.70" x2="252.00" y2="340.29" stroke="#e2232b" stroke-width="0.8"/>
<line x1="250.40" y1="333.70" x2="253.60" y2="333.70" stroke="#e2232b" stroke-width="0.8"/>
<line x1="250.40" y1="340.29" x2="253.60" y2="340.29" stroke="#e2232b" stroke-width="0.8"/>
<line x1="160.00" y1="326.73" x2="160.00" y2="330.68" stroke="#111111" stroke-width="0.8"/>
<line x1="158.40" y1="326.73" x2="161.60" y2="326.73" stroke="#111111" stroke-width="0.8"/>
<line x1="158.40" y1="330.68" x2="161.60" y2="330.68" stroke="#111111" stroke-width="0.8"/>
<line x1="171.50" y1="330.02" x2="171.50" y2="335.28" stroke="#111111" stroke-width="0.8"/>
<line x1="169.90" y1="330.02" x2="173.10" y2="330.02" stroke="#111111" stroke-width="0.8"/>
<line x1="169.90" y1="335.28" x2="173.10" y2="335.28" stroke="#111111" stroke-width="0.8"/>
<line x1="183.00" y1="334.36" x2="183.00" y2="338.31" stroke="#111111" stroke-width="0.8"/>
<line x1="181.40" y1="334.36" x2="184.60" y2="334.36" stroke="#111111" stroke-width="0.8"/>
<line x1="181.40" y1="338.31" x2="184.60" y2="338.31" stroke="#111111" stroke-width="0.8"/>
<line x1="194.50" y1="336.60" x2="194.50" y2="340.55" stroke="#111111" stroke-width="0.8"/>
<line x1="192.90" y1="336.60" x2="196.10" y2="336.60" stroke="#111111" stroke-width="0.8"/>
<line x1="192.90" y1="340.55" x2="196.10" y2="340.55" stroke="#111111" stroke-width="0.8"/>
<line x1="229.00" y1="335.68" x2="229.00" y2="339.63" stroke="#111111" stroke-width="0.8"/>
<line x1="227.40" y1="335.68" x2="230.60" y2="335.68" stroke="#111111" stroke-width="0.8"/>
<line x1="227.40" y1="339.63" x2="230.60" y2="339.63" stroke="#111111" stroke-width="0.8"/>
<line x1="252.00" y1="333.97" x2="252.00" y2="337.92" stroke="#111111" stroke-width="0.8"/>
<line x1="250.40" y1="333.97" x2="253.60" y2="333.97" stroke="#111111" stroke-width="0.8"/>
<line x1="250.40" y1="337.92" x2="253.60" y2="337.92" stroke="#111111" stroke-width="0.8"/>
<line x1="327.37" y1="47.22" x2="327.37" y2="50.64" stroke="#55218a" stroke-width="0.8"/>
<line x1="325.77" y1="47.22" x2="328.97" y2="47.22" stroke="#55218a" stroke-width="0.8"/>
<line x1="325.77" y1="50.64" x2="328.97" y2="50.64" stroke="#55218a" stroke-width="0.8"/>
<line x1="334.41" y1="40.36" x2="334.41" y2="43.79" stroke="#55218a" stroke-width="0.8"/>
<line x1="332.81" y1="40.36" x2="336.01" y2="40.36" stroke="#55218a" stroke-width="0.8"/>
<line x1="332.81" y1="43.79" x2="336.01" y2="43.79" stroke="#55218a" stroke-width="0.8"/>
<line x1="341.45" y1="35.79" x2="341.45" y2="39.22" stroke="#55218a" stroke-width="0.8"/>
<line x1="339.85" y1="35.79" x2="343.05" y2="35.79" stroke="#55218a" stroke-width="0.8"/>
<line x1="339.85" y1="39.22" x2="343.05" y2="39.22" stroke="#55218a" stroke-width="0.8"/>
<line x1="348.49" y1="30.08" x2="348.49" y2="34.65" stroke="#55218a" stroke-width="0.8"/>
<line x1="346.89" y1="30.08" x2="350.09" y2="30.08" stroke="#55218a" stroke-width="0.8"/>
<line x1="346.89" y1="34.65" x2="350.09" y2="34.65" stroke="#55218a" stroke-width="0.8"/>
<line x1="355.52" y1="27.22" x2="355.52" y2="31.79" stroke="#55218a" stroke-width="0.8"/>
<line x1="353.92" y1="27.22" x2="357.12" y2="27.22" stroke="#55218a" stroke-width="0.8"/>
<line x1="353.92" y1="31.79" x2="357.12" y2="31.79" stroke="#55218a" stroke-width="0.8"/>
<line x1="362.56" y1="24.37" x2="362.56" y2="30.08" stroke="#55218a" stroke-width="0.8"/>
<line x1="360.96" y1="24.37" x2="364.16" y2="24.37" stroke="#55218a" stroke-width="0.8"/>
<line x1="360.96" y1="30.08" x2="364.16" y2="30.08" stroke="#55218a" stroke-width="0.8"/>
<line x1="369.60" y1="22.65" x2="369.60" y2="29.51" stroke="#55218a" stroke-width="0.8"/>
<line x1="368.00" y1="22.65" x2="371.20" y2="22.65" stroke="#55218a" stroke-width="0.8"/>
<line x1="368.00" y1="29.51" x2="371.20" y2="29.51" stroke="#55218a" stroke-width="0.8"/>
<line x1="376.64" y1="22.65" x2="376.64" y2="29.51" stroke="#55218a" stroke-width="0.8"/>
<line x1="375.04" y1="22.65" x2="378.24" y2="22.65" stroke="#55218a" stroke-width="0.8"/>
<line x1="375.04" y1="29.51" x2="378.24" y2="29.51" stroke="#55218a" stroke-width="0.8"/>
<line x1="383.68" y1="21.51" x2="383.68" y2="29.51" stroke="#55218a" stroke-width="0.8"/>
<line x1="382.08" y1="21.51" x2="385.28" y2="21.51" stroke="#55218a" stroke-width="0.8"/>
<line x1="382.08" y1="29.51" x2="385.28" y2="29.51" stroke="#55218a" stroke-width="0.8"/>
<line x1="390.72" y1="20.94" x2="390.72" y2="28.94" stroke="#55218a" stroke-width="0.8"/>
<line x1="389.12" y1="20.94" x2="392.32" y2="20.94" stroke="#55218a" stroke-width="0.8"/>
<line x1="389.12" y1="28.94" x2="392.32" y2="28.94" stroke="#55218a" stroke-width="0.8"/>
<line x1="397.76" y1="19.23" x2="397.76" y2="28.36" stroke="#55218a" stroke-width="0.8"/>
<line x1="396.16" y1="19.23" x2="399.36" y2="19.23" stroke="#55218a" stroke-width="0.8"/>
<line x1="396.16" y1="28.36" x2="399.36" y2="28.36" stroke="#55218a" stroke-width="0.8"/>
<line x1="404.80" y1="18.08" x2="404.80" y2="27.22" stroke="#55218a" stroke-width="0.8"/>
<line x1="403.20" y1="18.08" x2="406.40" y2="18.08" stroke="#55218a" stroke-width="0.8"/>
<line x1="403.20" y1="27.22" x2="406.40" y2="27.22" stroke="#55218a" stroke-width="0.8"/>
<line x1="411.84" y1="15.80" x2="411.84" y2="26.08" stroke="#55218a" stroke-width="0.8"/>
<line x1="410.24" y1="15.80" x2="413.44" y2="15.80" stroke="#55218a" stroke-width="0.8"/>
<line x1="410.24" y1="26.08" x2="413.44" y2="26.08" stroke="#55218a" stroke-width="0.8"/>
<line x1="327.37" y1="47.79" x2="327.37" y2="50.07" stroke="#908c24" stroke-width="0.8"/>
<line x1="325.77" y1="47.79" x2="328.97" y2="47.79" stroke="#908c24" stroke-width="0.8"/>
<line x1="325.77" y1="50.07" x2="328.97" y2="50.07" stroke="#908c24" stroke-width="0.8"/>
<line x1="334.41" y1="40.93" x2="334.41" y2="43.22" stroke="#908c24" stroke-width="0.8"/>
<line x1="332.81" y1="40.93" x2="336.01" y2="40.93" stroke="#908c24" stroke-width="0.8"/>
<line x1="332.81" y1="43.22" x2="336.01" y2="43.22" stroke="#908c24" stroke-width="0.8"/>
<line x1="341.45" y1="36.36" x2="341.45" y2="38.65" stroke="#908c24" stroke-width="0.8"/>
<line x1="339.85" y1="36.36" x2="343.05" y2="36.36" stroke="#908c24" stroke-width="0.8"/>
<line x1="339.85" y1="38.65" x2="343.05" y2="38.65" stroke="#908c24" stroke-width="0.8"/>
<line x1="348.49" y1="30.65" x2="348.49" y2="32.93" stroke="#908c24" stroke-width="0.8"/>
<line x1="346.89" y1="30.65" x2="350.09" y2="30.65" stroke="#908c24" stroke-width="0.8"/>
<line x1="346.89" y1="32.93" x2="350.09" y2="32.93" stroke="#908c24" stroke-width="0.8"/>
<line x1="355.52" y1="27.22" x2="355.52" y2="29.51" stroke="#908c24" stroke-width="0.8"/>
<line x1="353.92" y1="27.22" x2="357.12" y2="27.22" stroke="#908c24" stroke-width="0.8"/>
<line x1="353.92" y1="29.51" x2="357.12" y2="29.51" stroke="#908c24" stroke-width="0.8"/>
<line x1="362.56" y1="24.71" x2="362.56" y2="27.45" stroke="#908c24" stroke-width="0.8"/>
<line x1="360.96" y1="24.71" x2="364.16" y2="24.71" stroke="#908c24" stroke-width="0.8"/>
<line x1="360.96" y1="27.45" x2="364.16" y2="27.45" stroke="#908c24" stroke-width="0.8"/>
<line x1="369.60" y1="22.42" x2="369.60" y2="25.17" stroke="#908c24" stroke-width="0.8"/>
<line x1="368.00" y1="22.42" x2="371.20" y2="22.42" stroke="#908c24" stroke-width="0.8"/>
<line x1="368.00" y1="25.17" x2="371.20" y2="25.17" stroke="#908c24" stroke-width="0.8"/>
<line x1="376.64" y1="21.28" x2="376.64" y2="24.02" stroke="#908c24" stroke-width="0.8"/>
<line x1="375.04" y1="21.28" x2="378.24" y2="21.28" stroke="#908c24" stroke-width="0.8"/>
<line x1="375.04" y1="24.02" x2="378.24" y2="24.02" stroke="#908c24" stroke-width="0.8"/>
<line x1="383.68" y1="19.11" x2="383.68" y2="22.54" stroke="#908c24" stroke-width="0.8"/>
<line x1="382.08" y1="19.11" x2="385.28" y2="19.11" stroke="#908c24" stroke-width="0.8"/>
<line x1="382.08" y1="22.54" x2="385.28" y2="22.54" stroke="#908c24" stroke-width="0.8"/>
<line x1="390.72" y1="17.74" x2="390.72" y2="21.17" stroke="#908c24" stroke-width="0.8"/>
<line x1="389.12" y1="17.74" x2="392.32" y2="17.74" stroke="#908c24" stroke-width="0.8"/>
<line x1="389.12" y1="21.17" x2="392.32" y2="21.17" stroke="#908c24" stroke-width="0.8"/>
<line x1="397.76" y1="16.83" x2="397.76" y2="20.25" stroke="#908c24" stroke-width="0.8"/>
<line x1="396.16" y1="16.83" x2="399.36" y2="16.83" stroke="#908c24" stroke-width="0.8"/>
<line x1="396.16" y1="20.25" x2="399.36" y2="20.25" stroke="#908c24" stroke-width="0.8"/>
<line x1="404.80" y1="16.14" x2="404.80" y2="19.57" stroke="#908c24" stroke-width="0.8"/>
<line x1="403.20" y1="16.14" x2="406.40" y2="16.14" stroke="#908c24" stroke-width="0.8"/>
<line x1="403.20" y1="19.57" x2="406.40" y2="19.57" stroke="#908c24" stroke-width="0.8"/>
<line x1="411.84" y1="14.66" x2="411.84" y2="18.77" stroke="#908c24" stroke-width="0.8"/>
<line x1="410.24" y1="14.66" x2="413.44" y2="14.66" stroke="#908c24" stroke-width="0.8"/>
<line x1="410.24" y1="18.77" x2="413.44" y2="18.77" stroke="#908c24" stroke-width="0.8"/>
<line x1="309.77" y1="84.80" x2="309.77" y2="86.18" stroke="#2222cc" stroke-width="0.8"/>
<line x1="308.17" y1="84.80" x2="311.37" y2="84.80" stroke="#2222cc" stroke-width="0.8"/>
<line x1="308.17" y1="86.18" x2="311.37" y2="86.18" stroke="#2222cc" stroke-width="0.8"/>
<line x1="313.29" y1="81.38" x2="313.29" y2="82.75" stroke="#2222cc" stroke-width="0.8"/>
<line x1="311.69" y1="81.38" x2="314.89" y2="81.38" stroke="#2222cc" stroke-width="0.8"/>
<line x1="311.69" y1="82.75" x2="314.89" y2="82.75" stroke="#2222cc" stroke-width="0.8"/>
<line x1="316.81" y1="80.23" x2="316.81" y2="81.61" stroke="#2222cc" stroke-width="0.8"/>
<line x1="315.21" y1="80.23" x2="318.41" y2="80.23" stroke="#2222cc" stroke-width="0.8"/>
<line x1="315.21" y1="81.61" x2="318.41" y2="81.61" stroke="#2222cc" stroke-width="0.8"/>
<line x1="320.33" y1="79.09" x2="320.33" y2="80.46" stroke="#2222cc" stroke-width="0.8"/>
<line x1="318.73" y1="79.09" x2="321.93" y2="79.09" stroke="#2222cc" stroke-width="0.8"/>
<line x1="318.73" y1="80.46" x2="321.93" y2="80.46" stroke="#2222cc" stroke-width="0.8"/>
<line x1="327.37" y1="77.38" x2="327.37" y2="78.75" stroke="#2222cc" stroke-width="0.8"/>
<line x1="325.77" y1="77.38" x2="328.97" y2="77.38" stroke="#2222cc" stroke-width="0.8"/>
<line x1="325.77" y1="78.75" x2="328.97" y2="78.75" stroke="#2222cc" stroke-width="0.8"/>
<line x1="334.41" y1="75.66" x2="334.41" y2="77.04" stroke="#2222cc" stroke-width="0.8"/>
<line x1="332.81" y1="75.66" x2="336.01" y2="75.66" stroke="#2222cc" stroke-width="0.8"/>
<line x1="332.81" y1="77.04" x2="336.01" y2="77.04" stroke="#2222cc" stroke-width="0.8"/>
<line x1="341.45" y1="73.95" x2="341.45" y2="75.32" stroke="#2222cc" stroke-width="0.8"/>
<line x1="339.85" y1="73.95" x2="343.05" y2="73.95" stroke="#2222cc" stroke-width="0.8"/>
<line x1="339.85" y1="75.32" x2="343.05" y2="75.32" stroke="#2222cc" stroke-width="0.8"/>
<line x1="348.49" y1="72.47" x2="348.49" y2="73.84" stroke="#2222cc" stroke-width="0.8"/>
<line x1="346.89" y1="72.47" x2="350.09" y2="72.47" stroke="#2222cc" stroke-width="0.8"/>
<line x1="346.89" y1="73.84" x2="350.09" y2="73.84" stroke="#2222cc" stroke-width="0.8"/>
<line x1="355.52" y1="71.78" x2="355.52" y2="73.15" stroke="#2222cc" stroke-width="0.8"/>
<line x1="353.92" y1="71.78" x2="357.12" y2="71.78" stroke="#2222cc" stroke-width="0.8"/>
<line x1="353.92" y1="73.15" x2="357.12" y2="73.15" stroke="#2222cc" stroke-width="0.8"/>
<line x1="362.56" y1="70.52" x2="362.56" y2="71.89" stroke="#2222cc" stroke-width="0.8"/>
<line x1="360.96" y1="70.52" x2="364.16" y2="70.52" stroke="#2222cc" stroke-width="0.8"/>
<line x1="360.96" y1="71.89" x2="364.16" y2="71.89" stroke="#2222cc" stroke-width="0.8"/>
<line x1="369.60" y1="69.95" x2="369.60" y2="71.32" stroke="#2222cc" stroke-width="0.8"/>
<line x1="368.00" y1="69.95" x2="371.20" y2="69.95" stroke="#2222cc" stroke-width="0.8"/>
<line x1="368.00" y1="71.32" x2="371.20" y2="71.32" stroke="#2222cc" stroke-width="0.8"/>
<line x1="376.64" y1="69.27" x2="376.64" y2="70.64" stroke="#2222cc" stroke-width="0.8"/>
<line x1="375.04" y1="69.27" x2="378.24" y2="69.27" stroke="#2222cc" stroke-width="0.8"/>
<line x1="375.04" y1="70.64" x2="378.24" y2="70.64" stroke="#2222cc" stroke-width="0.8"/>
<line x1="383.68" y1="68.81" x2="383.68" y2="70.18" stroke="#2222cc" stroke-width="0.8"/>
<line x1="382.08" y1="68.81" x2="385.28" y2="68.81" stroke="#2222cc" stroke-width="0.8"/>
<line x1="382.08" y1="70.18" x2="385.28" y2="70.18" stroke="#2222cc" stroke-width="0.8"/>
<line x1="390.72" y1="68.47" x2="390.72" y2="69.84" stroke="#2222cc" stroke-width="0.8"/>
<line x1="389.12" y1="68.47" x2="392.32" y2="68.47" stroke="#2222cc" stroke-width="0.8"/>
<line x1="389.12" y1="69.84" x2="392.32" y2="69.84" stroke="#2222cc" stroke-width="0.8"/>
<line x1="397.76" y1="68.01" x2="397.76" y2="69.38" stroke="#2222cc" stroke-width="0.8"/>
<line x1="396.16" y1="68.01" x2="399.36" y2="68.01" stroke="#2222cc" stroke-width="0.8"/>
<line x1="396.16" y1="69.38" x2="399.36" y2="69.38" stroke="#2222cc" stroke-width="0.8"/>
<line x1="404.80" y1="67.67" x2="404.80" y2="69.04" stroke="#2222cc" stroke-width="0.8"/>
<line x1="403.20" y1="67.67" x2="406.40" y2="67.67" stroke="#2222cc" stroke-width="0.8"/>
<line x1="403.20" y1="69.04" x2="406.40" y2="69.04" stroke="#2222cc" stroke-width="0.8"/>
<line x1="411.84" y1="67.32" x2="411.84" y2="68.70" stroke="#2222cc" stroke-width="0.8"/>
<line x1="410.24" y1="67.32" x2="413.44" y2="67.32" stroke="#2222cc" stroke-width="0.8"/>
<line x1="410.24" y1="68.70" x2="413.44" y2="68.70" stroke="#2222cc" stroke-width="0.8"/>
<line x1="309.77" y1="85.49" x2="309.77" y2="87.78" stroke="#e2232b" stroke-width="0.8"/>
<line x1="308.17" y1="85.49" x2="311.37" y2="85.49" stroke="#e2232b" stroke-width="0.8"/>
<line x1="308.17" y1="87.78" x2="311.37" y2="87.78" stroke="#e2232b" stroke-width="0.8"/>
<line x1="313.29" y1="77.49" x2="313.29" y2="79.78" stroke="#e2232b" stroke-width="0.8"/>
<line x1="311.69" y1="77.49" x2="314.89" y2="77.49" stroke="#e2232b" stroke-width="0.8"/>
<line x1="311.69" y1="79.78" x2="314.89" y2="79.78" stroke="#e2232b" stroke-width="0.8"/>
<line x1="316.81" y1="75.78" x2="316.81" y2="78.06" stroke="#e2232b" stroke-width="0.8"/>
<line x1="315.21" y1="75.78" x2="318.41" y2="75.78" stroke="#e2232b" stroke-width="0.8"/>
<line x1="315.21" y1="78.06" x2="318.41" y2="78.06" stroke="#e2232b" stroke-width="0.8"/>
<line x1="320.33" y1="74.06" x2="320.33" y2="76.35" stroke="#e2232b" stroke-width="0.8"/>
<line x1="318.73" y1="74.06" x2="321.93" y2="74.06" stroke="#e2232b" stroke-width="0.8"/>
<line x1="318.73" y1="76.35" x2="321.93" y2="76.35" stroke="#e2232b" stroke-width="0.8"/>
<line x1="327.37" y1="72.35" x2="327.37" y2="74.64" stroke="#e2232b" stroke-width="0.8"/>
<line x1="325.77" y1="72.35" x2="328.97" y2="72.35" stroke="#e2232b" stroke-width="0.8"/>
<line x1="325.77" y1="74.64" x2="328.97" y2="74.64" stroke="#e2232b" stroke-width="0.8"/>
<line x1="334.41" y1="71.21" x2="334.41" y2="73.49" stroke="#e2232b" stroke-width="0.8"/>
<line x1="332.81" y1="71.21" x2="336.01" y2="71.21" stroke="#e2232b" stroke-width="0.8"/>
<line x1="332.81" y1="73.49" x2="336.01" y2="73.49" stroke="#e2232b" stroke-width="0.8"/>
<line x1="341.45" y1="70.07" x2="341.45" y2="72.35" stroke="#e2232b" stroke-width="0.8"/>
<line x1="339.85" y1="70.07" x2="343.05" y2="70.07" stroke="#e2232b" stroke-width="0.8"/>
<line x1="339.85" y1="72.35" x2="343.05" y2="72.35" stroke="#e2232b" stroke-width="0.8"/>
<line x1="348.49" y1="68.92" x2="348.49" y2="71.21" stroke="#e2232b" stroke-width="0.8"/>
<line x1="346.89" y1="68.92" x2="350.09" y2="68.92" stroke="#e2232b" stroke-width="0.8"/>
<line x1="346.89" y1="71.21" x2="350.09" y2="71.21" stroke="#e2232b" stroke-width="0.8"/>
<line x1="355.52" y1="68.35" x2="355.52" y2="70.64" stroke="#e2232b" stroke-width="0.8"/>
<line x1="353.92" y1="68.35" x2="357.12" y2="68.35" stroke="#e2232b" stroke-width="0.8"/>
<line x1="353.92" y1="70.64" x2="357.12" y2="70.64" stroke="#e2232b" stroke-width="0.8"/>
<line x1="362.56" y1="67.78" x2="362.56" y2="70.07" stroke="#e2232b" stroke-width="0.8"/>
<line x1="360.96" y1="67.78" x2="364.16" y2="67.78" stroke="#e2232b" stroke-width="0.8"/>
<line x1="360.96" y1="70.07" x2="364.16" y2="70.07" stroke="#e2232b" stroke-width="0.8"/>
<line x1="369.60" y1="67.21" x2="369.60" y2="69.50" stroke="#e2232b" stroke-width="0.8"/>
<line x1="368.00" y1="67.21" x2="371.20" y2="67.21" stroke="#e2232b" stroke-width="0.8"/>
<line x1="368.00" y1="69.50" x2="371.20" y2="69.50" stroke="#e2232b" stroke-width="0.8"/>
<line x1="376.64" y1="66.64" x2="376.64" y2="68.92" stroke="#e2232b" stroke-width="0.8"/>
<line x1="375.04" y1="66.64" x2="378.24" y2="66.64" stroke="#e2232b" stroke-width="0.8"/>
<line x1="375.04" y1="68.92" x2="378.24" y2="68.92" stroke="#e2232b" stroke-width="0.8"/>
<line x1="383.68" y1="66.07" x2="383.68" y2="68.35" stroke="#e2232b" stroke-width="0.8"/>
<line x1="382.08" y1="66.07" x2="385.28" y2="66.07" stroke="#e2232b" stroke-width="0.8"/>
<line x1="382.08" y1="68.35" x2="385.28" y2="68.35" stroke="#e2232b" stroke-width="0.8"/>
<line x1="390.72" y1="65.72" x2="390.72" y2="68.01" stroke="#e2232b" stroke-width="0.8"/>
<line x1="389.12" y1="65.72" x2="392.32" y2="65.72" stroke="#e2232b" stroke-width="0.8"/>
<line x1="389.12" y1="68.01" x2="392.32" y2="68.01" stroke="#e2232b" stroke-width="0.8"/>
<line x1="397.76" y1="65.15" x2="397.76" y2="67.44" stroke="#e2232b" stroke-width="0.8"/>
<line x1="396.16" y1="65.15" x2="399.36" y2="65.15" stroke="#e2232b" stroke-width="0.8"/>
<line x1="396.16" y1="67.44" x2="399.36" y2="67.44" stroke="#e2232b" stroke-width="0.8"/>
<line x1="404.80" y1="64.47" x2="404.80" y2="66.75" stroke="#e2232b" stroke-width="0.8"/>
<line x1="403.20" y1="64.47" x2="406.40" y2="64.47" stroke="#e2232b" stroke-width="0.8"/>
<line x1="403.20" y1="66.75" x2="406.40" y2="66.75" stroke="#e2232b" stroke-width="0.8"/>
<line x1="411.84" y1="64.01" x2="411.84" y2="66.30" stroke="#e2232b" stroke-width="0.8"/>
<line x1="410.24" y1="64.01" x2="413.44" y2="64.01" stroke="#e2232b" stroke-width="0.8"/>
<line x1="410.24" y1="66.30" x2="413.44" y2="66.30" stroke="#e2232b" stroke-width="0.8"/>
<line x1="289.40" y1="192.40" x2="289.40" y2="205.00" stroke="#55218a" stroke-width="0.8"/>
<line x1="287.80" y1="192.40" x2="291.00" y2="192.40" stroke="#55218a" stroke-width="0.8"/>
<line x1="287.80" y1="205.00" x2="291.00" y2="205.00" stroke="#55218a" stroke-width="0.8"/>
<line x1="301.04" y1="156.70" x2="301.04" y2="165.10" stroke="#55218a" stroke-width="0.8"/>
<line x1="299.44" y1="156.70" x2="302.64" y2="156.70" stroke="#55218a" stroke-width="0.8"/>
<line x1="299.44" y1="165.10" x2="302.64" y2="165.10" stroke="#55218a" stroke-width="0.8"/>
<line x1="312.67" y1="156.70" x2="312.67" y2="160.90" stroke="#55218a" stroke-width="0.8"/>
<line x1="311.07" y1="156.70" x2="314.27" y2="156.70" stroke="#55218a" stroke-width="0.8"/>
<line x1="311.07" y1="160.90" x2="314.27" y2="160.90" stroke="#55218a" stroke-width="0.8"/>
<line x1="324.31" y1="156.18" x2="324.31" y2="159.32" stroke="#55218a" stroke-width="0.8"/>
<line x1="322.71" y1="156.18" x2="325.91" y2="156.18" stroke="#55218a" stroke-width="0.8"/>
<line x1="322.71" y1="159.32" x2="325.91" y2="159.32" stroke="#55218a" stroke-width="0.8"/>
<line x1="359.23" y1="156.70" x2="359.23" y2="167.20" stroke="#55218a" stroke-width="0.8"/>
<line x1="357.62" y1="156.70" x2="360.83" y2="156.70" stroke="#55218a" stroke-width="0.8"/>
<line x1="357.62" y1="167.20" x2="360.83" y2="167.20" stroke="#55218a" stroke-width="0.8"/>
<line x1="382.50" y1="158.80" x2="382.50" y2="171.40" stroke="#55218a" stroke-width="0.8"/>
<line x1="380.90" y1="158.80" x2="384.10" y2="158.80" stroke="#55218a" stroke-width="0.8"/>
<line x1="380.90" y1="171.40" x2="384.10" y2="171.40" stroke="#55218a" stroke-width="0.8"/>
<line x1="289.40" y1="171.40" x2="289.40" y2="220.75" stroke="#908c24" stroke-width="0.8"/>
<line x1="287.80" y1="171.40" x2="291.00" y2="171.40" stroke="#908c24" stroke-width="0.8"/>
<line x1="287.80" y1="220.75" x2="291.00" y2="220.75" stroke="#908c24" stroke-width="0.8"/>
<line x1="301.04" y1="154.60" x2="301.04" y2="173.50" stroke="#908c24" stroke-width="0.8"/>
<line x1="299.44" y1="154.60" x2="302.64" y2="154.60" stroke="#908c24" stroke-width="0.8"/>
<line x1="299.44" y1="173.50" x2="302.64" y2="173.50" stroke="#908c24" stroke-width="0.8"/>
<line x1="312.67" y1="156.70" x2="312.67" y2="164.05" stroke="#908c24" stroke-width="0.8"/>
<line x1="311.07" y1="156.70" x2="314.27" y2="156.70" stroke="#908c24" stroke-width="0.8"/>
<line x1="311.07" y1="164.05" x2="314.27" y2="164.05" stroke="#908c24" stroke-width="0.8"/>
<line x1="324.31" y1="155.65" x2="324.31" y2="160.90" stroke="#908c24" stroke-width="0.8"/>
<line x1="322.71" y1="155.65" x2="325.91" y2="155.65" stroke="#908c24" stroke-width="0.8"/>
<line x1="322.71" y1="160.90" x2="325.91" y2="160.90" stroke="#908c24" stroke-width="0.8"/>
<line x1="359.23" y1="153.55" x2="359.23" y2="169.30" stroke="#908c24" stroke-width="0.8"/>
<line x1="357.62" y1="153.55" x2="360.83" y2="153.55" stroke="#908c24" stroke-width="0.8"/>
<line x1="357.62" y1="169.30" x2="360.83" y2="169.30" stroke="#908c24" stroke-width="0.8"/>
<line x1="382.50" y1="153.55" x2="382.50" y2="172.45" stroke="#908c24" stroke-width="0.8"/>
<line x1="380.90" y1="153.55" x2="384.10" y2="153.55" stroke="#908c24" stroke-width="0.8"/>
<line x1="380.90" y1="172.45" x2="384.10" y2="172.45" stroke="#908c24" stroke-width="0.8"/>
<line x1="289.40" y1="209.20" x2="289.40" y2="215.50" stroke="#2222cc" stroke-width="0.8"/>
<line x1="287.80" y1="209.20" x2="291.00" y2="209.20" stroke="#2222cc" stroke-width="0.8"/>
<line x1="287.80" y1="215.50" x2="291.00" y2="215.50" stroke="#2222cc" stroke-width="0.8"/>
<line x1="301.04" y1="196.07" x2="301.04" y2="206.57" stroke="#2222cc" stroke-width="0.8"/>
<line x1="299.44" y1="196.07" x2="302.64" y2="196.07" stroke="#2222cc" stroke-width="0.8"/>
<line x1="299.44" y1="206.57" x2="302.64" y2="206.57" stroke="#2222cc" stroke-width="0.8"/>
<line x1="312.67" y1="196.07" x2="312.67" y2="203.43" stroke="#2222cc" stroke-width="0.8"/>
<line x1="311.07" y1="196.07" x2="314.27" y2="196.07" stroke="#2222cc" stroke-width="0.8"/>
<line x1="311.07" y1="203.43" x2="314.27" y2="203.43" stroke="#2222cc" stroke-width="0.8"/>
<line x1="324.31" y1="197.12" x2="324.31" y2="205.53" stroke="#2222cc" stroke-width="0.8"/>
<line x1="322.71" y1="197.12" x2="325.91" y2="197.12" stroke="#2222cc" stroke-width="0.8"/>
<line x1="322.71" y1="205.53" x2="325.91" y2="205.53" stroke="#2222cc" stroke-width="0.8"/>
<line x1="359.23" y1="203.95" x2="359.23" y2="212.35" stroke="#2222cc" stroke-width="0.8"/>
<line x1="357.62" y1="203.95" x2="360.83" y2="203.95" stroke="#2222cc" stroke-width="0.8"/>
<line x1="357.62" y1="212.35" x2="360.83" y2="212.35" stroke="#2222cc" stroke-width="0.8"/>
<line x1="382.50" y1="205.53" x2="382.50" y2="212.88" stroke="#2222cc" stroke-width="0.8"/>
<line x1="380.90" y1="205.53" x2="384.10" y2="205.53" stroke="#2222cc" stroke-width="0.8"/>
<line x1="380.90" y1="212.88" x2="384.10" y2="212.88" stroke="#2222cc" stroke-width="0.8"/>
<line x1="289.40" y1="210.25" x2="289.40" y2="214.45" stroke="#e2232b" stroke-width="0.8"/>
<line x1="287.80" y1="210.25" x2="291.00" y2="210.25" stroke="#e2232b" stroke-width="0.8"/>
<line x1="287.80" y1="214.45" x2="291.00" y2="214.45" stroke="#e2232b" stroke-width="0.8"/>
<line x1="301.04" y1="197.65" x2="301.04" y2="203.95" stroke="#e2232b" stroke-width="0.8"/>
<line x1="299.44" y1="197.65" x2="302.64" y2="197.65" stroke="#e2232b" stroke-width="0.8"/>
<line x1="299.44" y1="203.95" x2="302.64" y2="203.95" stroke="#e2232b" stroke-width="0.8"/>
<line x1="312.67" y1="196.60" x2="312.67" y2="203.95" stroke="#e2232b" stroke-width="0.8"/>
<line x1="311.07" y1="196.60" x2="314.27" y2="196.60" stroke="#e2232b" stroke-width="0.8"/>
<line x1="311.07" y1="203.95" x2="314.27" y2="203.95" stroke="#e2232b" stroke-width="0.8"/>
<line x1="324.31" y1="199.75" x2="324.31" y2="206.05" stroke="#e2232b" stroke-width="0.8"/>
<line x1="322.71" y1="199.75" x2="325.91" y2="199.75" stroke="#e2232b" stroke-width="0.8"/>
<line x1="322.71" y1="206.05" x2="325.91" y2="206.05" stroke="#e2232b" stroke-width="0.8"/>
<line x1="359.23" y1="206.05" x2="359.23" y2="211.30" stroke="#e2232b" stroke-width="0.8"/>
<line x1="357.62" y1="206.05" x2="360.83" y2="206.05" stroke="#e2232b" stroke-width="0.8"/>
<line x1="357.62" y1="211.30" x2="360.83" y2="211.30" stroke="#e2232b" stroke-width="0.8"/>
<line x1="382.50" y1="206.05" x2="382.50" y2="212.35" stroke="#e2232b" stroke-width="0.8"/>
<line x1="380.90" y1="206.05" x2="384.10" y2="206.05" stroke="#e2232b" stroke-width="0.8"/>
<line x1="380.90" y1="212.35" x2="384.10" y2="212.35" stroke="#e2232b" stroke-width="0.8"/>
<line x1="419.50" y1="188.16" x2="419.50" y2="200.84" stroke="#55218a" stroke-width="0.8"/>
<line x1="417.90" y1="188.16" x2="421.10" y2="188.16" stroke="#55218a" stroke-width="0.8"/>
<line x1="417.90" y1="200.84" x2="421.10" y2="200.84" stroke="#55218a" stroke-width="0.8"/>
<line x1="431.19" y1="161.76" x2="431.19" y2="170.21" stroke="#55218a" stroke-width="0.8"/>
<line x1="429.59" y1="161.76" x2="432.79" y2="161.76" stroke="#55218a" stroke-width="0.8"/>
<line x1="429.59" y1="170.21" x2="432.79" y2="170.21" stroke="#55218a" stroke-width="0.8"/>
<line x1="442.88" y1="156.48" x2="442.88" y2="162.82" stroke="#55218a" stroke-width="0.8"/>
<line x1="441.27" y1="156.48" x2="444.48" y2="156.48" stroke="#55218a" stroke-width="0.8"/>
<line x1="441.27" y1="162.82" x2="444.48" y2="162.82" stroke="#55218a" stroke-width="0.8"/>
<line x1="454.56" y1="155.43" x2="454.56" y2="160.71" stroke="#55218a" stroke-width="0.8"/>
<line x1="452.96" y1="155.43" x2="456.16" y2="155.43" stroke="#55218a" stroke-width="0.8"/>
<line x1="452.96" y1="160.71" x2="456.16" y2="160.71" stroke="#55218a" stroke-width="0.8"/>
<line x1="489.62" y1="155.43" x2="489.62" y2="174.44" stroke="#55218a" stroke-width="0.8"/>
<line x1="488.02" y1="155.43" x2="491.23" y2="155.43" stroke="#55218a" stroke-width="0.8"/>
<line x1="488.02" y1="174.44" x2="491.23" y2="174.44" stroke="#55218a" stroke-width="0.8"/>
<line x1="513.00" y1="154.37" x2="513.00" y2="186.05" stroke="#55218a" stroke-width="0.8"/>
<line x1="511.40" y1="154.37" x2="514.60" y2="154.37" stroke="#55218a" stroke-width="0.8"/>
<line x1="511.40" y1="186.05" x2="514.60" y2="186.05" stroke="#55218a" stroke-width="0.8"/>
<line x1="419.50" y1="173.38" x2="419.50" y2="220.90" stroke="#908c24" stroke-width="0.8"/>
<line x1="417.90" y1="173.38" x2="421.10" y2="173.38" stroke="#908c24" stroke-width="0.8"/>
<line x1="417.90" y1="220.90" x2="421.10" y2="220.90" stroke="#908c24" stroke-width="0.8"/>
<line x1="431.19" y1="153.32" x2="431.19" y2="174.44" stroke="#908c24" stroke-width="0.8"/>
<line x1="429.59" y1="153.32" x2="432.79" y2="153.32" stroke="#908c24" stroke-width="0.8"/>
<line x1="429.59" y1="174.44" x2="432.79" y2="174.44" stroke="#908c24" stroke-width="0.8"/>
<line x1="442.88" y1="154.37" x2="442.88" y2="168.10" stroke="#908c24" stroke-width="0.8"/>
<line x1="441.27" y1="154.37" x2="444.48" y2="154.37" stroke="#908c24" stroke-width="0.8"/>
<line x1="441.27" y1="168.10" x2="444.48" y2="168.10" stroke="#908c24" stroke-width="0.8"/>
<line x1="454.56" y1="154.37" x2="454.56" y2="170.21" stroke="#908c24" stroke-width="0.8"/>
<line x1="452.96" y1="154.37" x2="456.16" y2="154.37" stroke="#908c24" stroke-width="0.8"/>
<line x1="452.96" y1="170.21" x2="456.16" y2="170.21" stroke="#908c24" stroke-width="0.8"/>
<line x1="489.62" y1="151.20" x2="489.62" y2="178.66" stroke="#908c24" stroke-width="0.8"/>
<line x1="488.02" y1="151.20" x2="491.23" y2="151.20" stroke="#908c24" stroke-width="0.8"/>
<line x1="488.02" y1="178.66" x2="491.23" y2="178.66" stroke="#908c24" stroke-width="0.8"/>
<line x1="513.00" y1="150.15" x2="513.00" y2="186.05" stroke="#908c24" stroke-width="0.8"/>
<line x1="511.40" y1="150.15" x2="514.60" y2="150.15" stroke="#908c24" stroke-width="0.8"/>
<line x1="511.40" y1="186.05" x2="514.60" y2="186.05" stroke="#908c24" stroke-width="0.8"/>
<line x1="419.50" y1="212.45" x2="419.50" y2="218.79" stroke="#2222cc" stroke-width="0.8"/>
<line x1="417.90" y1="212.45" x2="421.10" y2="212.45" stroke="#2222cc" stroke-width="0.8"/>
<line x1="417.90" y1="218.79" x2="421.10" y2="218.79" stroke="#2222cc" stroke-width="0.8"/>
<line x1="431.19" y1="191.33" x2="431.19" y2="210.34" stroke="#2222cc" stroke-width="0.8"/>
<line x1="429.59" y1="191.33" x2="432.79" y2="191.33" stroke="#2222cc" stroke-width="0.8"/>
<line x1="429.59" y1="210.34" x2="432.79" y2="210.34" stroke="#2222cc" stroke-width="0.8"/>
<line x1="442.88" y1="196.08" x2="442.88" y2="208.76" stroke="#2222cc" stroke-width="0.8"/>
<line x1="441.27" y1="196.08" x2="444.48" y2="196.08" stroke="#2222cc" stroke-width="0.8"/>
<line x1="441.27" y1="208.76" x2="444.48" y2="208.76" stroke="#2222cc" stroke-width="0.8"/>
<line x1="454.56" y1="200.31" x2="454.56" y2="208.76" stroke="#2222cc" stroke-width="0.8"/>
<line x1="452.96" y1="200.31" x2="456.16" y2="200.31" stroke="#2222cc" stroke-width="0.8"/>
<line x1="452.96" y1="208.76" x2="456.16" y2="208.76" stroke="#2222cc" stroke-width="0.8"/>
<line x1="489.62" y1="207.70" x2="489.62" y2="214.04" stroke="#2222cc" stroke-width="0.8"/>
<line x1="488.02" y1="207.70" x2="491.23" y2="207.70" stroke="#2222cc" stroke-width="0.8"/>
<line x1="488.02" y1="214.04" x2="491.23" y2="214.04" stroke="#2222cc" stroke-width="0.8"/>
<line x1="513.00" y1="207.17" x2="513.00" y2="213.51" stroke="#2222cc" stroke-width="0.8"/>
<line x1="511.40" y1="207.17" x2="514.60" y2="207.17" stroke="#2222cc" stroke-width="0.8"/>
<line x1="511.40" y1="213.51" x2="514.60" y2="213.51" stroke="#2222cc" stroke-width="0.8"/>
<line x1="419.50" y1="211.40" x2="419.50" y2="215.62" stroke="#e2232b" stroke-width="0.8"/>
<line x1="417.90" y1="211.40" x2="421.10" y2="211.40" stroke="#e2232b" stroke-width="0.8"/>
<line x1="417.90" y1="215.62" x2="421.10" y2="215.62" stroke="#e2232b" stroke-width="0.8"/>
<line x1="431.19" y1="191.33" x2="431.19" y2="201.89" stroke="#e2232b" stroke-width="0.8"/>
<line x1="429.59" y1="191.33" x2="432.79" y2="191.33" stroke="#e2232b" stroke-width="0.8"/>
<line x1="429.59" y1="201.89" x2="432.79" y2="201.89" stroke="#e2232b" stroke-width="0.8"/>
<line x1="442.88" y1="188.69" x2="442.88" y2="201.36" stroke="#e2232b" stroke-width="0.8"/>
<line x1="441.27" y1="188.69" x2="444.48" y2="188.69" stroke="#e2232b" stroke-width="0.8"/>
<line x1="441.27" y1="201.36" x2="444.48" y2="201.36" stroke="#e2232b" stroke-width="0.8"/>
<line x1="454.56" y1="191.86" x2="454.56" y2="203.48" stroke="#e2232b" stroke-width="0.8"/>
<line x1="452.96" y1="191.86" x2="456.16" y2="191.86" stroke="#e2232b" stroke-width="0.8"/>
<line x1="452.96" y1="203.48" x2="456.16" y2="203.48" stroke="#e2232b" stroke-width="0.8"/>
<line x1="489.62" y1="204.53" x2="489.62" y2="211.92" stroke="#e2232b" stroke-width="0.8"/>
<line x1="488.02" y1="204.53" x2="491.23" y2="204.53" stroke="#e2232b" stroke-width="0.8"/>
<line x1="488.02" y1="211.92" x2="491.23" y2="211.92" stroke="#e2232b" stroke-width="0.8"/>
<line x1="513.00" y1="204.53" x2="513.00" y2="212.98" stroke="#e2232b" stroke-width="0.8"/>
<line x1="511.40" y1="204.53" x2="514.60" y2="204.53" stroke="#e2232b" stroke-width="0.8"/>
<line x1="511.40" y1="212.98" x2="514.60" y2="212.98" stroke="#e2232b" stroke-width="0.8"/>
<line x1="293.25" y1="270.96" x2="293.25" y2="297.61" stroke="#55218a" stroke-width="0.8"/>
<line x1="291.65" y1="270.96" x2="294.85" y2="270.96" stroke="#55218a" stroke-width="0.8"/>
<line x1="291.65" y1="297.61" x2="294.85" y2="297.61" stroke="#55218a" stroke-width="0.8"/>
<line x1="305.03" y1="265.63" x2="305.03" y2="281.62" stroke="#55218a" stroke-width="0.8"/>
<line x1="303.43" y1="265.63" x2="306.63" y2="265.63" stroke="#55218a" stroke-width="0.8"/>
<line x1="303.43" y1="281.62" x2="306.63" y2="281.62" stroke="#55218a" stroke-width="0.8"/>
<line x1="316.81" y1="267.63" x2="316.81" y2="291.62" stroke="#55218a" stroke-width="0.8"/>
<line x1="315.21" y1="267.63" x2="318.41" y2="267.63" stroke="#55218a" stroke-width="0.8"/>
<line x1="315.21" y1="291.62" x2="318.41" y2="291.62" stroke="#55218a" stroke-width="0.8"/>
<line x1="328.59" y1="273.63" x2="328.59" y2="294.95" stroke="#55218a" stroke-width="0.8"/>
<line x1="326.99" y1="273.63" x2="330.19" y2="273.63" stroke="#55218a" stroke-width="0.8"/>
<line x1="326.99" y1="294.95" x2="330.19" y2="294.95" stroke="#55218a" stroke-width="0.8"/>
<line x1="363.94" y1="280.29" x2="363.94" y2="314.94" stroke="#55218a" stroke-width="0.8"/>
<line x1="362.34" y1="280.29" x2="365.54" y2="280.29" stroke="#55218a" stroke-width="0.8"/>
<line x1="362.34" y1="314.94" x2="365.54" y2="314.94" stroke="#55218a" stroke-width="0.8"/>
<line x1="387.50" y1="289.62" x2="387.50" y2="305.61" stroke="#55218a" stroke-width="0.8"/>
<line x1="385.90" y1="289.62" x2="389.10" y2="289.62" stroke="#55218a" stroke-width="0.8"/>
<line x1="385.90" y1="305.61" x2="389.10" y2="305.61" stroke="#55218a" stroke-width="0.8"/>
<line x1="293.25" y1="269.63" x2="293.25" y2="317.60" stroke="#908c24" stroke-width="0.8"/>
<line x1="291.65" y1="269.63" x2="294.85" y2="269.63" stroke="#908c24" stroke-width="0.8"/>
<line x1="291.65" y1="317.60" x2="294.85" y2="317.60" stroke="#908c24" stroke-width="0.8"/>
<line x1="305.03" y1="264.30" x2="305.03" y2="285.62" stroke="#908c24" stroke-width="0.8"/>
<line x1="303.43" y1="264.30" x2="306.63" y2="264.30" stroke="#908c24" stroke-width="0.8"/>
<line x1="303.43" y1="285.62" x2="306.63" y2="285.62" stroke="#908c24" stroke-width="0.8"/>
<line x1="316.81" y1="264.97" x2="316.81" y2="294.28" stroke="#908c24" stroke-width="0.8"/>
<line x1="315.21" y1="264.97" x2="318.41" y2="264.97" stroke="#908c24" stroke-width="0.8"/>
<line x1="315.21" y1="294.28" x2="318.41" y2="294.28" stroke="#908c24" stroke-width="0.8"/>
<line x1="328.59" y1="270.30" x2="328.59" y2="298.28" stroke="#908c24" stroke-width="0.8"/>
<line x1="326.99" y1="270.30" x2="330.19" y2="270.30" stroke="#908c24" stroke-width="0.8"/>
<line x1="326.99" y1="298.28" x2="330.19" y2="298.28" stroke="#908c24" stroke-width="0.8"/>
<line x1="363.94" y1="279.62" x2="363.94" y2="315.60" stroke="#908c24" stroke-width="0.8"/>
<line x1="362.34" y1="279.62" x2="365.54" y2="279.62" stroke="#908c24" stroke-width="0.8"/>
<line x1="362.34" y1="315.60" x2="365.54" y2="315.60" stroke="#908c24" stroke-width="0.8"/>
<line x1="387.50" y1="274.96" x2="387.50" y2="304.27" stroke="#908c24" stroke-width="0.8"/>
<line x1="385.90" y1="274.96" x2="389.10" y2="274.96" stroke="#908c24" stroke-width="0.8"/>
<line x1="385.90" y1="304.27" x2="389.10" y2="304.27" stroke="#908c24" stroke-width="0.8"/>
<line x1="293.25" y1="326.93" x2="293.25" y2="332.26" stroke="#2222cc" stroke-width="0.8"/>
<line x1="291.65" y1="326.93" x2="294.85" y2="326.93" stroke="#2222cc" stroke-width="0.8"/>
<line x1="291.65" y1="332.26" x2="294.85" y2="332.26" stroke="#2222cc" stroke-width="0.8"/>
<line x1="305.03" y1="332.92" x2="305.03" y2="338.25" stroke="#2222cc" stroke-width="0.8"/>
<line x1="303.43" y1="332.92" x2="306.63" y2="332.92" stroke="#2222cc" stroke-width="0.8"/>
<line x1="303.43" y1="338.25" x2="306.63" y2="338.25" stroke="#2222cc" stroke-width="0.8"/>
<line x1="316.81" y1="336.92" x2="316.81" y2="340.92" stroke="#2222cc" stroke-width="0.8"/>
<line x1="315.21" y1="336.92" x2="318.41" y2="336.92" stroke="#2222cc" stroke-width="0.8"/>
<line x1="315.21" y1="340.92" x2="318.41" y2="340.92" stroke="#2222cc" stroke-width="0.8"/>
<line x1="328.59" y1="338.25" x2="328.59" y2="340.92" stroke="#2222cc" stroke-width="0.8"/>
<line x1="326.99" y1="338.25" x2="330.19" y2="338.25" stroke="#2222cc" stroke-width="0.8"/>
<line x1="326.99" y1="340.92" x2="330.19" y2="340.92" stroke="#2222cc" stroke-width="0.8"/>
<line x1="363.94" y1="336.92" x2="363.94" y2="340.92" stroke="#2222cc" stroke-width="0.8"/>
<line x1="362.34" y1="336.92" x2="365.54" y2="336.92" stroke="#2222cc" stroke-width="0.8"/>
<line x1="362.34" y1="340.92" x2="365.54" y2="340.92" stroke="#2222cc" stroke-width="0.8"/>
<line x1="387.50" y1="334.92" x2="387.50" y2="338.92" stroke="#2222cc" stroke-width="0.8"/>
<line x1="385.90" y1="334.92" x2="389.10" y2="334.92" stroke="#2222cc" stroke-width="0.8"/>
<line x1="385.90" y1="338.92" x2="389.10" y2="338.92" stroke="#2222cc" stroke-width="0.8"/>
<line x1="293.25" y1="330.93" x2="293.25" y2="334.92" stroke="#e2232b" stroke-width="0.8"/>
<line x1="291.65" y1="330.93" x2="294.85" y2="330.93" stroke="#e2232b" stroke-width="0.8"/>
<line x1="291.65" y1="334.92" x2="294.85" y2="334.92" stroke="#e2232b" stroke-width="0.8"/>
<line x1="305.03" y1="331.59" x2="305.03" y2="340.92" stroke="#e2232b" stroke-width="0.8"/>
<line x1="303.43" y1="331.59" x2="306.63" y2="331.59" stroke="#e2232b" stroke-width="0.8"/>
<line x1="303.43" y1="340.92" x2="306.63" y2="340.92" stroke="#e2232b" stroke-width="0.8"/>
<line x1="316.81" y1="336.25" x2="316.81" y2="341.58" stroke="#e2232b" stroke-width="0.8"/>
<line x1="315.21" y1="336.25" x2="318.41" y2="336.25" stroke="#e2232b" stroke-width="0.8"/>
<line x1="315.21" y1="341.58" x2="318.41" y2="341.58" stroke="#e2232b" stroke-width="0.8"/>
<line x1="328.59" y1="338.25" x2="328.59" y2="340.92" stroke="#e2232b" stroke-width="0.8"/>
<line x1="326.99" y1="338.25" x2="330.19" y2="338.25" stroke="#e2232b" stroke-width="0.8"/>
<line x1="326.99" y1="340.92" x2="330.19" y2="340.92" stroke="#e2232b" stroke-width="0.8"/>
<line x1="363.94" y1="336.25" x2="363.94" y2="341.58" stroke="#e2232b" stroke-width="0.8"/>
<line x1="362.34" y1="336.25" x2="365.54" y2="336.25" stroke="#e2232b" stroke-width="0.8"/>
<line x1="362.34" y1="341.58" x2="365.54" y2="341.58" stroke="#e2232b" stroke-width="0.8"/>
<line x1="387.50" y1="333.59" x2="387.50" y2="338.92" stroke="#e2232b" stroke-width="0.8"/>
<line x1="385.90" y1="333.59" x2="389.10" y2="333.59" stroke="#e2232b" stroke-width="0.8"/>
<line x1="385.90" y1="338.92" x2="389.10" y2="338.92" stroke="#e2232b" stroke-width="0.8"/>
<line x1="418.00" y1="294.66" x2="418.00" y2="316.47" stroke="#55218a" stroke-width="0.8"/>
<line x1="416.40" y1="294.66" x2="419.60" y2="294.66" stroke="#55218a" stroke-width="0.8"/>
<line x1="416.40" y1="316.47" x2="419.60" y2="316.47" stroke="#55218a" stroke-width="0.8"/>
<line x1="430.04" y1="280.34" x2="430.04" y2="296.70" stroke="#55218a" stroke-width="0.8"/>
<line x1="428.44" y1="280.34" x2="431.64" y2="280.34" stroke="#55218a" stroke-width="0.8"/>
<line x1="428.44" y1="296.70" x2="431.64" y2="296.70" stroke="#55218a" stroke-width="0.8"/>
<line x1="442.07" y1="274.89" x2="442.07" y2="307.61" stroke="#55218a" stroke-width="0.8"/>
<line x1="440.47" y1="274.89" x2="443.68" y2="274.89" stroke="#55218a" stroke-width="0.8"/>
<line x1="440.47" y1="307.61" x2="443.68" y2="307.61" stroke="#55218a" stroke-width="0.8"/>
<line x1="454.11" y1="273.52" x2="454.11" y2="311.70" stroke="#55218a" stroke-width="0.8"/>
<line x1="452.51" y1="273.52" x2="455.71" y2="273.52" stroke="#55218a" stroke-width="0.8"/>
<line x1="452.51" y1="311.70" x2="455.71" y2="311.70" stroke="#55218a" stroke-width="0.8"/>
<line x1="490.22" y1="285.11" x2="490.22" y2="320.56" stroke="#55218a" stroke-width="0.8"/>
<line x1="488.62" y1="285.11" x2="491.82" y2="285.11" stroke="#55218a" stroke-width="0.8"/>
<line x1="488.62" y1="320.56" x2="491.82" y2="320.56" stroke="#55218a" stroke-width="0.8"/>
<line x1="514.30" y1="276.93" x2="514.30" y2="324.65" stroke="#55218a" stroke-width="0.8"/>
<line x1="512.70" y1="276.93" x2="515.90" y2="276.93" stroke="#55218a" stroke-width="0.8"/>
<line x1="512.70" y1="324.65" x2="515.90" y2="324.65" stroke="#55218a" stroke-width="0.8"/>
<line x1="418.00" y1="282.39" x2="418.00" y2="327.38" stroke="#908c24" stroke-width="0.8"/>
<line x1="416.40" y1="282.39" x2="419.60" y2="282.39" stroke="#908c24" stroke-width="0.8"/>
<line x1="416.40" y1="327.38" x2="419.60" y2="327.38" stroke="#908c24" stroke-width="0.8"/>
<line x1="430.04" y1="272.84" x2="430.04" y2="305.56" stroke="#908c24" stroke-width="0.8"/>
<line x1="428.44" y1="272.84" x2="431.64" y2="272.84" stroke="#908c24" stroke-width="0.8"/>
<line x1="428.44" y1="305.56" x2="431.64" y2="305.56" stroke="#908c24" stroke-width="0.8"/>
<line x1="442.07" y1="272.16" x2="442.07" y2="311.02" stroke="#908c24" stroke-width="0.8"/>
<line x1="440.47" y1="272.16" x2="443.68" y2="272.16" stroke="#908c24" stroke-width="0.8"/>
<line x1="440.47" y1="311.02" x2="443.68" y2="311.02" stroke="#908c24" stroke-width="0.8"/>
<line x1="454.11" y1="273.52" x2="454.11" y2="315.79" stroke="#908c24" stroke-width="0.8"/>
<line x1="452.51" y1="273.52" x2="455.71" y2="273.52" stroke="#908c24" stroke-width="0.8"/>
<line x1="452.51" y1="315.79" x2="455.71" y2="315.79" stroke="#908c24" stroke-width="0.8"/>
<line x1="490.22" y1="283.75" x2="490.22" y2="323.29" stroke="#908c24" stroke-width="0.8"/>
<line x1="488.62" y1="283.75" x2="491.82" y2="283.75" stroke="#908c24" stroke-width="0.8"/>
<line x1="488.62" y1="323.29" x2="491.82" y2="323.29" stroke="#908c24" stroke-width="0.8"/>
<line x1="514.30" y1="276.93" x2="514.30" y2="325.33" stroke="#908c24" stroke-width="0.8"/>
<line x1="512.70" y1="276.93" x2="515.90" y2="276.93" stroke="#908c24" stroke-width="0.8"/>
<line x1="512.70" y1="325.33" x2="515.90" y2="325.33" stroke="#908c24" stroke-width="0.8"/>
<line x1="418.00" y1="325.33" x2="418.00" y2="333.51" stroke="#2222cc" stroke-width="0.8"/>
<line x1="416.40" y1="325.33" x2="419.60" y2="325.33" stroke="#2222cc" stroke-width="0.8"/>
<line x1="416.40" y1="333.51" x2="419.60" y2="333.51" stroke="#2222cc" stroke-width="0.8"/>
<line x1="430.04" y1="331.47" x2="430.04" y2="338.28" stroke="#2222cc" stroke-width="0.8"/>
<line x1="428.44" y1="331.47" x2="431.64" y2="331.47" stroke="#2222cc" stroke-width="0.8"/>
<line x1="428.44" y1="338.28" x2="431.64" y2="338.28" stroke="#2222cc" stroke-width="0.8"/>
<line x1="442.07" y1="334.88" x2="442.07" y2="340.33" stroke="#2222cc" stroke-width="0.8"/>
<line x1="440.47" y1="334.88" x2="443.68" y2="334.88" stroke="#2222cc" stroke-width="0.8"/>
<line x1="440.47" y1="340.33" x2="443.68" y2="340.33" stroke="#2222cc" stroke-width="0.8"/>
<line x1="454.11" y1="336.92" x2="454.11" y2="341.01" stroke="#2222cc" stroke-width="0.8"/>
<line x1="452.51" y1="336.92" x2="455.71" y2="336.92" stroke="#2222cc" stroke-width="0.8"/>
<line x1="452.51" y1="341.01" x2="455.71" y2="341.01" stroke="#2222cc" stroke-width="0.8"/>
<line x1="490.22" y1="336.92" x2="490.22" y2="341.01" stroke="#2222cc" stroke-width="0.8"/>
<line x1="488.62" y1="336.92" x2="491.82" y2="336.92" stroke="#2222cc" stroke-width="0.8"/>
<line x1="488.62" y1="341.01" x2="491.82" y2="341.01" stroke="#2222cc" stroke-width="0.8"/>
<line x1="514.30" y1="334.19" x2="514.30" y2="339.65" stroke="#2222cc" stroke-width="0.8"/>
<line x1="512.70" y1="334.19" x2="515.90" y2="334.19" stroke="#2222cc" stroke-width="0.8"/>
<line x1="512.70" y1="339.65" x2="515.90" y2="339.65" stroke="#2222cc" stroke-width="0.8"/>
<line x1="418.00" y1="327.38" x2="418.00" y2="332.83" stroke="#e2232b" stroke-width="0.8"/>
<line x1="416.40" y1="327.38" x2="419.60" y2="327.38" stroke="#e2232b" stroke-width="0.8"/>
<line x1="416.40" y1="332.83" x2="419.60" y2="332.83" stroke="#e2232b" stroke-width="0.8"/>
<line x1="430.04" y1="331.47" x2="430.04" y2="338.28" stroke="#e2232b" stroke-width="0.8"/>
<line x1="428.44" y1="331.47" x2="431.64" y2="331.47" stroke="#e2232b" stroke-width="0.8"/>
<line x1="428.44" y1="338.28" x2="431.64" y2="338.28" stroke="#e2232b" stroke-width="0.8"/>
<line x1="442.07" y1="335.28" x2="442.07" y2="340.74" stroke="#e2232b" stroke-width="0.8"/>
<line x1="440.47" y1="335.28" x2="443.68" y2="335.28" stroke="#e2232b" stroke-width="0.8"/>
<line x1="440.47" y1="340.74" x2="443.68" y2="340.74" stroke="#e2232b" stroke-width="0.8"/>
<line x1="454.11" y1="337.33" x2="454.11" y2="341.42" stroke="#e2232b" stroke-width="0.8"/>
<line x1="452.51" y1="337.33" x2="455.71" y2="337.33" stroke="#e2232b" stroke-width="0.8"/>
<line x1="452.51" y1="341.42" x2="455.71" y2="341.42" stroke="#e2232b" stroke-width="0.8"/>
<line x1="490.22" y1="336.92" x2="490.22" y2="341.01" stroke="#e2232b" stroke-width="0.8"/>
<line x1="488.62" y1="336.92" x2="491.82" y2="336.92" stroke="#e2232b" stroke-width="0.8"/>
<line x1="488.62" y1="341.01" x2="491.82" y2="341.01" stroke="#e2232b" stroke-width="0.8"/>
<line x1="514.30" y1="335.56" x2="514.30" y2="339.65" stroke="#e2232b" stroke-width="0.8"/>
<line x1="512.70" y1="335.56" x2="515.90" y2="335.56" stroke="#e2232b" stroke-width="0.8"/>
<line x1="512.70" y1="339.65" x2="515.90" y2="339.65" stroke="#e2232b" stroke-width="0.8"/>
<line x1="43.60" y1="8.00" x2="43.60" y2="100.50" stroke="#000" stroke-width="1.3"/>
<line x1="41.40" y1="99.90" x2="43.60" y2="99.90" stroke="#000" stroke-width="1.3"/>
<line x1="41.40" y1="77.08" x2="43.60" y2="77.08" stroke="#000" stroke-width="1.3"/>
<line x1="41.40" y1="54.25" x2="43.60" y2="54.25" stroke="#000" stroke-width="1.3"/>
<line x1="41.40" y1="31.42" x2="43.60" y2="31.42" stroke="#000" stroke-width="1.3"/>
<line x1="41.40" y1="8.60" x2="43.60" y2="8.60" stroke="#000" stroke-width="1.3"/>
<line x1="43.00" y1="99.90" x2="151.80" y2="99.90" stroke="#000" stroke-width="1.3"/>
<line x1="43.40" y1="99.90" x2="43.40" y2="102.10" stroke="#000" stroke-width="1.3"/>
<line x1="57.77" y1="99.90" x2="57.77" y2="102.10" stroke="#000" stroke-width="1.3"/>
<line x1="72.14" y1="99.90" x2="72.14" y2="102.10" stroke="#000" stroke-width="1.3"/>
<line x1="86.51" y1="99.90" x2="86.51" y2="102.10" stroke="#000" stroke-width="1.3"/>
<line x1="100.89" y1="99.90" x2="100.89" y2="102.10" stroke="#000" stroke-width="1.3"/>
<line x1="115.26" y1="99.90" x2="115.26" y2="102.10" stroke="#000" stroke-width="1.3"/>
<line x1="129.63" y1="99.90" x2="129.63" y2="102.10" stroke="#000" stroke-width="1.3"/>
<line x1="144.00" y1="99.90" x2="144.00" y2="102.10" stroke="#000" stroke-width="1.3"/>
<line x1="28.90" y1="141.70" x2="28.90" y2="219.80" stroke="#000" stroke-width="1.3"/>
<line x1="26.90" y1="219.20" x2="28.90" y2="219.20" stroke="#000" stroke-width="1.3"/>
<line x1="26.90" y1="193.57" x2="28.90" y2="193.57" stroke="#000" stroke-width="1.3"/>
<line x1="26.90" y1="167.93" x2="28.90" y2="167.93" stroke="#000" stroke-width="1.3"/>
<line x1="26.90" y1="142.30" x2="28.90" y2="142.30" stroke="#000" stroke-width="1.3"/>
<line x1="28.30" y1="219.20" x2="120.50" y2="219.20" stroke="#000" stroke-width="1.3"/>
<line x1="28.90" y1="219.20" x2="28.90" y2="221.20" stroke="#000" stroke-width="1.3"/>
<line x1="51.52" y1="219.20" x2="51.52" y2="221.20" stroke="#000" stroke-width="1.3"/>
<line x1="74.15" y1="219.20" x2="74.15" y2="221.20" stroke="#000" stroke-width="1.3"/>
<line x1="96.78" y1="219.20" x2="96.78" y2="221.20" stroke="#000" stroke-width="1.3"/>
<line x1="119.40" y1="219.20" x2="119.40" y2="221.20" stroke="#000" stroke-width="1.3"/>
<line x1="158.00" y1="141.15" x2="158.00" y2="221.50" stroke="#000" stroke-width="1.3"/>
<line x1="156.00" y1="220.90" x2="158.00" y2="220.90" stroke="#000" stroke-width="1.3"/>
<line x1="156.00" y1="194.52" x2="158.00" y2="194.52" stroke="#000" stroke-width="1.3"/>
<line x1="156.00" y1="168.13" x2="158.00" y2="168.13" stroke="#000" stroke-width="1.3"/>
<line x1="156.00" y1="141.75" x2="158.00" y2="141.75" stroke="#000" stroke-width="1.3"/>
<line x1="157.40" y1="220.90" x2="252.50" y2="220.90" stroke="#000" stroke-width="1.3"/>
<line x1="158.00" y1="220.90" x2="158.00" y2="222.90" stroke="#000" stroke-width="1.3"/>
<line x1="181.38" y1="220.90" x2="181.38" y2="222.90" stroke="#000" stroke-width="1.3"/>
<line x1="204.75" y1="220.90" x2="204.75" y2="222.90" stroke="#000" stroke-width="1.3"/>
<line x1="228.12" y1="220.90" x2="228.12" y2="222.90" stroke="#000" stroke-width="1.3"/>
<line x1="251.50" y1="220.90" x2="251.50" y2="222.90" stroke="#000" stroke-width="1.3"/>
<line x1="27.50" y1="264.90" x2="27.50" y2="344.85" stroke="#000" stroke-width="1.3"/>
<line x1="25.50" y1="344.25" x2="27.50" y2="344.25" stroke="#000" stroke-width="1.3"/>
<line x1="25.50" y1="318.00" x2="27.50" y2="318.00" stroke="#000" stroke-width="1.3"/>
<line x1="25.50" y1="291.75" x2="27.50" y2="291.75" stroke="#000" stroke-width="1.3"/>
<line x1="25.50" y1="265.50" x2="27.50" y2="265.50" stroke="#000" stroke-width="1.3"/>
<line x1="26.90" y1="344.25" x2="121.80" y2="344.25" stroke="#000" stroke-width="1.3"/>
<line x1="27.50" y1="344.25" x2="27.50" y2="346.25" stroke="#000" stroke-width="1.3"/>
<line x1="50.81" y1="344.25" x2="50.81" y2="346.25" stroke="#000" stroke-width="1.3"/>
<line x1="74.12" y1="344.25" x2="74.12" y2="346.25" stroke="#000" stroke-width="1.3"/>
<line x1="97.44" y1="344.25" x2="97.44" y2="346.25" stroke="#000" stroke-width="1.3"/>
<line x1="120.75" y1="344.25" x2="120.75" y2="346.25" stroke="#000" stroke-width="1.3"/>
<line x1="160.00" y1="264.90" x2="160.00" y2="345.10" stroke="#000" stroke-width="1.3"/>
<line x1="158.00" y1="344.50" x2="160.00" y2="344.50" stroke="#000" stroke-width="1.3"/>
<line x1="158.00" y1="318.17" x2="160.00" y2="318.17" stroke="#000" stroke-width="1.3"/>
<line x1="158.00" y1="291.83" x2="160.00" y2="291.83" stroke="#000" stroke-width="1.3"/>
<line x1="158.00" y1="265.50" x2="160.00" y2="265.50" stroke="#000" stroke-width="1.3"/>
<line x1="159.40" y1="344.50" x2="253.00" y2="344.50" stroke="#000" stroke-width="1.3"/>
<line x1="160.00" y1="344.50" x2="160.00" y2="346.50" stroke="#000" stroke-width="1.3"/>
<line x1="183.00" y1="344.50" x2="183.00" y2="346.50" stroke="#000" stroke-width="1.3"/>
<line x1="206.00" y1="344.50" x2="206.00" y2="346.50" stroke="#000" stroke-width="1.3"/>
<line x1="229.00" y1="344.50" x2="229.00" y2="346.50" stroke="#000" stroke-width="1.3"/>
<line x1="252.00" y1="344.50" x2="252.00" y2="346.50" stroke="#000" stroke-width="1.3"/>
<line x1="305.75" y1="7.20" x2="305.75" y2="99.80" stroke="#000" stroke-width="1.3"/>
<line x1="303.55" y1="99.20" x2="305.75" y2="99.20" stroke="#000" stroke-width="1.3"/>
<line x1="303.55" y1="76.35" x2="305.75" y2="76.35" stroke="#000" stroke-width="1.3"/>
<line x1="303.55" y1="53.50" x2="305.75" y2="53.50" stroke="#000" stroke-width="1.3"/>
<line x1="303.55" y1="30.65" x2="305.75" y2="30.65" stroke="#000" stroke-width="1.3"/>
<line x1="303.55" y1="7.80" x2="305.75" y2="7.80" stroke="#000" stroke-width="1.3"/>
<line x1="305.15" y1="99.20" x2="412.50" y2="99.20" stroke="#000" stroke-width="1.3"/>
<line x1="306.25" y1="99.20" x2="306.25" y2="101.40" stroke="#000" stroke-width="1.3"/>
<line x1="320.33" y1="99.20" x2="320.33" y2="101.40" stroke="#000" stroke-width="1.3"/>
<line x1="334.41" y1="99.20" x2="334.41" y2="101.40" stroke="#000" stroke-width="1.3"/>
<line x1="348.49" y1="99.20" x2="348.49" y2="101.40" stroke="#000" stroke-width="1.3"/>
<line x1="362.56" y1="99.20" x2="362.56" y2="101.40" stroke="#000" stroke-width="1.3"/>
<line x1="376.64" y1="99.20" x2="376.64" y2="101.40" stroke="#000" stroke-width="1.3"/>
<line x1="390.72" y1="99.20" x2="390.72" y2="101.40" stroke="#000" stroke-width="1.3"/>
<line x1="404.80" y1="99.20" x2="404.80" y2="101.40" stroke="#000" stroke-width="1.3"/>
<line x1="289.40" y1="141.40" x2="289.40" y2="221.35" stroke="#000" stroke-width="1.3"/>
<line x1="287.40" y1="220.75" x2="289.40" y2="220.75" stroke="#000" stroke-width="1.3"/>
<line x1="287.40" y1="194.50" x2="289.40" y2="194.50" stroke="#000" stroke-width="1.3"/>
<line x1="287.40" y1="168.25" x2="289.40" y2="168.25" stroke="#000" stroke-width="1.3"/>
<line x1="287.40" y1="142.00" x2="289.40" y2="142.00" stroke="#000" stroke-width="1.3"/>
<line x1="288.80" y1="220.75" x2="383.50" y2="220.75" stroke="#000" stroke-width="1.3"/>
<line x1="289.40" y1="220.75" x2="289.40" y2="222.75" stroke="#000" stroke-width="1.3"/>
<line x1="312.67" y1="220.75" x2="312.67" y2="222.75" stroke="#000" stroke-width="1.3"/>
<line x1="335.95" y1="220.75" x2="335.95" y2="222.75" stroke="#000" stroke-width="1.3"/>
<line x1="359.23" y1="220.75" x2="359.23" y2="222.75" stroke="#000" stroke-width="1.3"/>
<line x1="382.50" y1="220.75" x2="382.50" y2="222.75" stroke="#000" stroke-width="1.3"/>
<line x1="419.50" y1="141.10" x2="419.50" y2="221.50" stroke="#000" stroke-width="1.3"/>
<line x1="417.50" y1="220.90" x2="419.50" y2="220.90" stroke="#000" stroke-width="1.3"/>
<line x1="417.50" y1="194.50" x2="419.50" y2="194.50" stroke="#000" stroke-width="1.3"/>
<line x1="417.50" y1="168.10" x2="419.50" y2="168.10" stroke="#000" stroke-width="1.3"/>
<line x1="417.50" y1="141.70" x2="419.50" y2="141.70" stroke="#000" stroke-width="1.3"/>
<line x1="418.90" y1="220.90" x2="514.00" y2="220.90" stroke="#000" stroke-width="1.3"/>
<line x1="419.50" y1="220.90" x2="419.50" y2="222.90" stroke="#000" stroke-width="1.3"/>
<line x1="442.88" y1="220.90" x2="442.88" y2="222.90" stroke="#000" stroke-width="1.3"/>
<line x1="466.25" y1="220.90" x2="466.25" y2="222.90" stroke="#000" stroke-width="1.3"/>
<line x1="489.62" y1="220.90" x2="489.62" y2="222.90" stroke="#000" stroke-width="1.3"/>
<line x1="513.00" y1="220.90" x2="513.00" y2="222.90" stroke="#000" stroke-width="1.3"/>
<line x1="293.25" y1="263.70" x2="293.25" y2="344.85" stroke="#000" stroke-width="1.3"/>
<line x1="291.25" y1="344.25" x2="293.25" y2="344.25" stroke="#000" stroke-width="1.3"/>
<line x1="291.25" y1="317.60" x2="293.25" y2="317.60" stroke="#000" stroke-width="1.3"/>
<line x1="291.25" y1="290.95" x2="293.25" y2="290.95" stroke="#000" stroke-width="1.3"/>
<line x1="291.25" y1="264.30" x2="293.25" y2="264.30" stroke="#000" stroke-width="1.3"/>
<line x1="292.65" y1="344.25" x2="388.50" y2="344.25" stroke="#000" stroke-width="1.3"/>
<line x1="293.25" y1="344.25" x2="293.25" y2="346.25" stroke="#000" stroke-width="1.3"/>
<line x1="316.81" y1="344.25" x2="316.81" y2="346.25" stroke="#000" stroke-width="1.3"/>
<line x1="340.38" y1="344.25" x2="340.38" y2="346.25" stroke="#000" stroke-width="1.3"/>
<line x1="363.94" y1="344.25" x2="363.94" y2="346.25" stroke="#000" stroke-width="1.3"/>
<line x1="387.50" y1="344.25" x2="387.50" y2="346.25" stroke="#000" stroke-width="1.3"/>
<line x1="418.00" y1="262.70" x2="418.00" y2="345.70" stroke="#000" stroke-width="1.3"/>
<line x1="416.00" y1="345.10" x2="418.00" y2="345.10" stroke="#000" stroke-width="1.3"/>
<line x1="416.00" y1="317.83" x2="418.00" y2="317.83" stroke="#000" stroke-width="1.3"/>
<line x1="416.00" y1="290.57" x2="418.00" y2="290.57" stroke="#000" stroke-width="1.3"/>
<line x1="416.00" y1="263.30" x2="418.00" y2="263.30" stroke="#000" stroke-width="1.3"/>
<line x1="417.40" y1="345.10" x2="515.30" y2="345.10" stroke="#000" stroke-width="1.3"/>
<line x1="418.00" y1="345.10" x2="418.00" y2="347.10" stroke="#000" stroke-width="1.3"/>
<line x1="442.07" y1="345.10" x2="442.07" y2="347.10" stroke="#000" stroke-width="1.3"/>
<line x1="466.15" y1="345.10" x2="466.15" y2="347.10" stroke="#000" stroke-width="1.3"/>
<line x1="490.22" y1="345.10" x2="490.22" y2="347.10" stroke="#000" stroke-width="1.3"/>
<line x1="514.30" y1="345.10" x2="514.30" y2="347.10" stroke="#000" stroke-width="1.3"/>
<polyline points="46.99,89.63 50.59,81.64 54.18,73.65 57.77,66.80 64.96,55.39 72.14,46.83 79.33,40.55 86.51,36.56 93.70,33.71 100.89,31.42 108.07,29.14 115.26,28.57 122.44,26.86 129.63,26.06 136.81,25.15 144.00,23.44 151.19,22.30" fill="none" stroke="#55218a" stroke-width="1.4" stroke-linejoin="round"/>
<polygon points="46.99,91.55 48.75,88.35 45.23,88.35" fill="#55218a"/>
<polygon points="50.59,83.56 52.35,80.36 48.83,80.36" fill="#55218a"/>
<polygon points="54.18,75.57 55.94,72.37 52.42,72.37" fill="#55218a"/>
<polygon points="57.77,68.72 59.53,65.52 56.01,65.52" fill="#55218a"/>
<polygon points="64.96,57.31 66.72,54.11 63.20,54.11" fill="#55218a"/>
<polygon points="72.14,48.75 73.90,45.55 70.38,45.55" fill="#55218a"/>
<polygon points="79.33,42.48 81.09,39.27 77.57,39.27" fill="#55218a"/>
<polygon points="86.51,38.48 88.27,35.28 84.75,35.28" fill="#55218a"/>
<polygon points="93.70,35.63 95.46,32.43 91.94,32.43" fill="#55218a"/>
<polygon points="100.89,33.34 102.65,30.14 99.13,30.14" fill="#55218a"/>
<polygon points="108.07,31.06 109.83,27.86 106.31,27.86" fill="#55218a"/>
<polygon points="115.26,30.49 117.02,27.29 113.50,27.29" fill="#55218a"/>
<polygon points="122.44,28.78 124.20,25.58 120.68,25.58" fill="#55218a"/>
<polygon points="129.63,27.98 131.39,24.78 127.87,24.78" fill="#55218a"/>
<polygon points="136.81,27.07 138.57,23.87 135.05,23.87" fill="#55218a"/>
<polygon points="144.00,25.36 145.76,22.16 142.24,22.16" fill="#55218a"/>
<polygon points="151.19,24.22 152.95,21.02 149.43,21.02" fill="#55218a"/>
<polyline points="46.99,89.63 50.59,82.78 54.18,75.36 57.77,67.94 64.96,56.53 72.14,47.97 79.33,42.27 86.51,38.27 93.70,35.99 100.89,34.28 108.07,32.00 115.26,29.71 122.44,27.43 129.63,25.15 136.81,22.87 144.00,21.15 151.19,19.44" fill="none" stroke="#38e038" stroke-width="2.2" stroke-linejoin="round"/>
<polygon points="46.99,87.59 48.86,90.99 45.12,90.99" fill="#38e038"/>
<polygon points="50.59,80.74 52.46,84.14 48.72,84.14" fill="#38e038"/>
<polygon points="54.18,73.32 56.05,76.72 52.31,76.72" fill="#38e038"/>
<polygon points="57.77,65.90 59.64,69.30 55.90,69.30" fill="#38e038"/>
<polygon points="64.96,54.49 66.83,57.89 63.09,57.89" fill="#38e038"/>
<polygon points="72.14,45.93 74.01,49.33 70.27,49.33" fill="#38e038"/>
<polygon points="79.33,40.23 81.20,43.63 77.46,43.63" fill="#38e038"/>
<polygon points="86.51,36.23 88.38,39.63 84.64,39.63" fill="#38e038"/>
<polygon points="93.70,33.95 95.57,37.35 91.83,37.35" fill="#38e038"/>
<polygon points="100.89,32.24 102.76,35.64 99.02,35.64" fill="#38e038"/>
<polygon points="108.07,29.96 109.94,33.36 106.20,33.36" fill="#38e038"/>
<polygon points="115.26,27.67 117.13,31.07 113.39,31.07" fill="#38e038"/>
<polygon points="122.44,25.39 124.31,28.79 120.57,28.79" fill="#38e038"/>
<polygon points="129.63,23.11 131.50,26.51 127.76,26.51" fill="#38e038"/>
<polygon points="136.81,20.83 138.68,24.23 134.94,24.23" fill="#38e038"/>
<polygon points="144.00,19.11 145.87,22.51 142.13,22.51" fill="#38e038"/>
<polygon points="151.19,17.40 153.06,20.80 149.32,20.80" fill="#38e038"/>
<polyline points="46.99,89.63 50.59,83.35 54.18,79.93 57.77,78.22 64.96,75.93 72.14,74.79 79.33,73.65 86.51,72.74 93.70,71.94 100.89,71.37 108.07,70.80 115.26,70.23 122.44,69.66 129.63,69.09 136.81,68.74 144.00,68.40 151.19,67.94" fill="none" stroke="#e2232b" stroke-width="2.0" stroke-linejoin="round"/>
<circle cx="46.99" cy="89.63" r="1.50" fill="#e2232b"/>
<circle cx="50.59" cy="83.35" r="1.50" fill="#e2232b"/>
<circle cx="54.18" cy="79.93" r="1.50" fill="#e2232b"/>
<circle cx="57.77" cy="78.22" r="1.50" fill="#e2232b"/>
<circle cx="64.96" cy="75.93" r="1.50" fill="#e2232b"/>
<circle cx="72.14" cy="74.79" r="1.50" fill="#e2232b"/>
<circle cx="79.33" cy="73.65" r="1.50" fill="#e2232b"/>
<circle cx="86.51" cy="72.74" r="1.50" fill="#e2232b"/>
<circle cx="93.70" cy="71.94" r="1.50" fill="#e2232b"/>
<circle cx="100.89" cy="71.37" r="1.50" fill="#e2232b"/>
<circle cx="108.07" cy="70.80" r="1.50" fill="#e2232b"/>
<circle cx="115.26" cy="70.23" r="1.50" fill="#e2232b"/>
<circle cx="122.44" cy="69.66" r="1.50" fill="#e2232b"/>
<circle cx="129.63" cy="69.09" r="1.50" fill="#e2232b"/>
<circle cx="136.81" cy="68.74" r="1.50" fill="#e2232b"/>
<circle cx="144.00" cy="68.40" r="1.50" fill="#e2232b"/>
<circle cx="151.19" cy="67.94" r="1.50" fill="#e2232b"/>
<polyline points="46.99,89.63 50.59,83.35 54.18,79.36 57.77,77.87 64.96,75.02 72.14,73.31 79.33,71.94 86.51,70.80 93.70,69.89 100.89,69.09 108.07,68.17 115.26,67.37 122.44,66.80 129.63,66.23 136.81,65.66 144.00,65.09 151.19,64.52" fill="none" stroke="#111111" stroke-width="2.0" stroke-linejoin="round"/>
<rect x="45.49" y="88.13" width="3.00" height="3.00" fill="#111111"/>
<rect x="49.09" y="81.85" width="3.00" height="3.00" fill="#111111"/>
<rect x="52.68" y="77.86" width="3.00" height="3.00" fill="#111111"/>
<rect x="56.27" y="76.37" width="3.00" height="3.00" fill="#111111"/>
<rect x="63.46" y="73.52" width="3.00" height="3.00" fill="#111111"/>
<rect x="70.64" y="71.81" width="3.00" height="3.00" fill="#111111"/>
<rect x="77.83" y="70.44" width="3.00" height="3.00" fill="#111111"/>
<rect x="85.01" y="69.30" width="3.00" height="3.00" fill="#111111"/>
<rect x="92.20" y="68.39" width="3.00" height="3.00" fill="#111111"/>
<rect x="99.39" y="67.59" width="3.00" height="3.00" fill="#111111"/>
<rect x="106.57" y="66.67" width="3.00" height="3.00" fill="#111111"/>
<rect x="113.76" y="65.87" width="3.00" height="3.00" fill="#111111"/>
<rect x="120.94" y="65.30" width="3.00" height="3.00" fill="#111111"/>
<rect x="128.13" y="64.73" width="3.00" height="3.00" fill="#111111"/>
<rect x="135.31" y="64.16" width="3.00" height="3.00" fill="#111111"/>
<rect x="142.50" y="63.59" width="3.00" height="3.00" fill="#111111"/>
<rect x="149.69" y="63.02" width="3.00" height="3.00" fill="#111111"/>
<line x1="180.20" y1="32.00" x2="190.20" y2="32.00" stroke="#e2232b" stroke-width="1.6"/>
<circle cx="185.20" cy="32.00" r="2.00" fill="#e2232b"/>
<line x1="180.20" y1="44.50" x2="190.20" y2="44.50" stroke="#111111" stroke-width="1.6"/>
<rect x="183.20" y="42.50" width="4.00" height="4.00" fill="#111111"/>
<line x1="180.20" y1="57.20" x2="190.20" y2="57.20" stroke="#38e038" stroke-width="1.6"/>
<polygon points="185.20,54.80 187.40,58.80 183.00,58.80" fill="#38e038"/>
<line x1="180.20" y1="69.50" x2="190.20" y2="69.50" stroke="#55218a" stroke-width="1.6"/>
<polygon points="185.20,71.90 187.40,67.90 183.00,67.90" fill="#55218a"/>
<polyline points="28.90,204.85 40.21,184.65 51.52,164.34 62.84,159.01 96.78,168.55 119.40,170.09" fill="none" stroke="#55218a" stroke-width="2.0" stroke-linejoin="round"/>
<polygon points="28.90,206.65 30.55,203.65 27.25,203.65" fill="#55218a"/>
<polygon points="40.21,186.45 41.86,183.45 38.56,183.45" fill="#55218a"/>
<polygon points="51.52,166.14 53.17,163.14 49.88,163.14" fill="#55218a"/>
<polygon points="62.84,160.81 64.49,157.81 61.19,157.81" fill="#55218a"/>
<polygon points="96.78,170.35 98.43,167.35 95.12,167.35" fill="#55218a"/>
<polygon points="119.40,171.89 121.05,168.89 117.75,168.89" fill="#55218a"/>
<polyline points="28.90,202.79 40.21,171.83 51.52,166.50 62.84,164.75 96.78,175.62 119.40,176.75" fill="none" stroke="#38e038" stroke-width="2.0" stroke-linejoin="round"/>
<polygon points="28.90,200.99 30.55,203.99 27.25,203.99" fill="#38e038"/>
<polygon points="40.21,170.03 41.86,173.03 38.56,173.03" fill="#38e038"/>
<polygon points="51.52,164.70 53.17,167.70 49.88,167.70" fill="#38e038"/>
<polygon points="62.84,162.95 64.49,165.95 61.19,165.95" fill="#38e038"/>
<polygon points="96.78,173.82 98.43,176.82 95.12,176.82" fill="#38e038"/>
<polygon points="119.40,174.95 121.05,177.95 117.75,177.95" fill="#38e038"/>
<polyline points="28.90,211.30 40.21,198.08 51.52,197.46 62.84,199.51 96.78,206.59 119.40,207.92" fill="none" stroke="#111111" stroke-width="2.0" stroke-linejoin="round"/>
<rect x="27.40" y="209.80" width="3.00" height="3.00" fill="#111111"/>
<rect x="38.71" y="196.58" width="3.00" height="3.00" fill="#111111"/>
<rect x="50.02" y="195.96" width="3.00" height="3.00" fill="#111111"/>
<rect x="61.34" y="198.01" width="3.00" height="3.00" fill="#111111"/>
<rect x="95.28" y="205.09" width="3.00" height="3.00" fill="#111111"/>
<rect x="117.90" y="206.42" width="3.00" height="3.00" fill="#111111"/>
<polyline points="28.90,212.02 40.21,200.23 51.52,197.67 62.84,199.72 96.78,207.10 119.40,208.43" fill="none" stroke="#e2232b" stroke-width="2.2" stroke-linejoin="round"/>
<circle cx="28.90" cy="212.02" r="1.70" fill="#e2232b"/>
<circle cx="40.21" cy="200.23" r="1.70" fill="#e2232b"/>
<circle cx="51.52" cy="197.67" r="1.70" fill="#e2232b"/>
<circle cx="62.84" cy="199.72" r="1.70" fill="#e2232b"/>
<circle cx="96.78" cy="207.10" r="1.70" fill="#e2232b"/>
<circle cx="119.40" cy="208.43" r="1.70" fill="#e2232b"/>
<polyline points="158.00,210.35 169.69,175.52 181.38,163.38 193.06,159.69 228.12,172.88 251.50,176.05" fill="none" stroke="#55218a" stroke-width="2.0" stroke-linejoin="round"/>
<polygon points="158.00,212.15 159.65,209.15 156.35,209.15" fill="#55218a"/>
<polygon points="169.69,177.32 171.34,174.32 168.04,174.32" fill="#55218a"/>
<polygon points="181.38,165.18 183.03,162.18 179.72,162.18" fill="#55218a"/>
<polygon points="193.06,161.49 194.71,158.49 191.41,158.49" fill="#55218a"/>
<polygon points="228.12,174.68 229.78,171.68 226.47,171.68" fill="#55218a"/>
<polygon points="251.50,177.85 253.15,174.85 249.85,174.85" fill="#55218a"/>
<polyline points="158.00,209.29 169.69,182.38 181.38,176.05 193.06,173.94 228.12,177.63 251.50,179.21" fill="none" stroke="#38e038" stroke-width="2.0" stroke-linejoin="round"/>
<polygon points="158.00,207.49 159.65,210.49 156.35,210.49" fill="#38e038"/>
<polygon points="169.69,180.58 171.34,183.58 168.04,183.58" fill="#38e038"/>
<polygon points="181.38,174.25 183.03,177.25 179.72,177.25" fill="#38e038"/>
<polygon points="193.06,172.14 194.71,175.14 191.41,175.14" fill="#38e038"/>
<polygon points="228.12,175.83 229.78,178.83 226.47,178.83" fill="#38e038"/>
<polygon points="251.50,177.41 253.15,180.41 249.85,180.41" fill="#38e038"/>
<polyline points="158.00,213.51 169.69,201.38 181.38,200.85 193.06,202.96 228.12,210.35 251.50,210.87" fill="none" stroke="#e2232b" stroke-width="2.2" stroke-linejoin="round"/>
<circle cx="158.00" cy="213.51" r="1.70" fill="#e2232b"/>
<circle cx="169.69" cy="201.38" r="1.70" fill="#e2232b"/>
<circle cx="181.38" cy="200.85" r="1.70" fill="#e2232b"/>
<circle cx="193.06" cy="202.96" r="1.70" fill="#e2232b"/>
<circle cx="228.12" cy="210.35" r="1.70" fill="#e2232b"/>
<circle cx="251.50" cy="210.87" r="1.70" fill="#e2232b"/>
<polyline points="158.00,212.99 169.69,200.32 181.38,199.27 193.06,200.32 228.12,208.24 251.50,208.76" fill="none" stroke="#111111" stroke-width="1.6" stroke-linejoin="round"/>
<rect x="156.60" y="211.59" width="2.80" height="2.80" fill="#111111"/>
<rect x="168.29" y="198.92" width="2.80" height="2.80" fill="#111111"/>
<rect x="179.97" y="197.87" width="2.80" height="2.80" fill="#111111"/>
<rect x="191.66" y="198.92" width="2.80" height="2.80" fill="#111111"/>
<rect x="226.72" y="206.84" width="2.80" height="2.80" fill="#111111"/>
<rect x="250.10" y="207.36" width="2.80" height="2.80" fill="#111111"/>
<polyline points="27.50,308.81 39.16,286.50 50.81,289.12 62.47,295.69 97.44,303.56 120.75,306.19" fill="none" stroke="#55218a" stroke-width="2.0" stroke-linejoin="round"/>
<polygon points="27.50,310.61 29.15,307.61 25.85,307.61" fill="#55218a"/>
<polygon points="39.16,288.30 40.81,285.30 37.51,285.30" fill="#55218a"/>
<polygon points="50.81,290.93 52.46,287.93 49.16,287.93" fill="#55218a"/>
<polygon points="62.47,297.49 64.12,294.49 60.82,294.49" fill="#55218a"/>
<polygon points="97.44,305.36 99.09,302.36 95.79,302.36" fill="#55218a"/>
<polygon points="120.75,307.99 122.40,304.99 119.10,304.99" fill="#55218a"/>
<polyline points="27.50,302.91 39.16,289.78 50.81,297.00 62.47,302.91 97.44,310.12 120.75,306.19" fill="none" stroke="#38e038" stroke-width="2.0" stroke-linejoin="round"/>
<polygon points="27.50,301.11 29.15,304.11 25.85,304.11" fill="#38e038"/>
<polygon points="39.16,287.98 40.81,290.98 37.51,290.98" fill="#38e038"/>
<polygon points="50.81,295.20 52.46,298.20 49.16,298.20" fill="#38e038"/>
<polygon points="62.47,301.11 64.12,304.11 60.82,304.11" fill="#38e038"/>
<polygon points="97.44,308.32 99.09,311.32 95.79,311.32" fill="#38e038"/>
<polygon points="120.75,304.39 122.40,307.39 119.10,307.39" fill="#38e038"/>
<polyline points="27.50,329.16 39.16,333.75 50.81,337.43 62.47,339.00 97.44,338.74 120.75,336.38" fill="none" stroke="#111111" stroke-width="2.0" stroke-linejoin="round"/>
<rect x="26.00" y="327.66" width="3.00" height="3.00" fill="#111111"/>
<rect x="37.66" y="332.25" width="3.00" height="3.00" fill="#111111"/>
<rect x="49.31" y="335.93" width="3.00" height="3.00" fill="#111111"/>
<rect x="60.97" y="337.50" width="3.00" height="3.00" fill="#111111"/>
<rect x="95.94" y="337.24" width="3.00" height="3.00" fill="#111111"/>
<rect x="119.25" y="334.88" width="3.00" height="3.00" fill="#111111"/>
<polyline points="27.50,329.55 39.16,334.01 50.81,337.69 62.47,339.26 97.44,339.00 120.75,336.64" fill="none" stroke="#e2232b" stroke-width="2.2" stroke-linejoin="round"/>
<circle cx="27.50" cy="329.55" r="1.70" fill="#e2232b"/>
<circle cx="39.16" cy="334.01" r="1.70" fill="#e2232b"/>
<circle cx="50.81" cy="337.69" r="1.70" fill="#e2232b"/>
<circle cx="62.47" cy="339.26" r="1.70" fill="#e2232b"/>
<circle cx="97.44" cy="339.00" r="1.70" fill="#e2232b"/>
<circle cx="120.75" cy="336.64" r="1.70" fill="#e2232b"/>
<rect x="25.90" y="327.56" width="3.20" height="3.20" fill="#111111"/>
<rect x="60.87" y="337.40" width="3.20" height="3.20" fill="#111111"/>
<rect x="95.84" y="337.14" width="3.20" height="3.20" fill="#111111"/>
<rect x="119.15" y="334.77" width="3.20" height="3.20" fill="#111111"/>
<polyline points="160.00,310.93 171.50,299.07 183.00,297.76 194.50,304.34 229.00,317.51 252.00,311.58" fill="none" stroke="#55218a" stroke-width="2.0" stroke-linejoin="round"/>
<polygon points="160.00,312.73 161.65,309.73 158.35,309.73" fill="#55218a"/>
<polygon points="171.50,300.88 173.15,297.88 169.85,297.88" fill="#55218a"/>
<polygon points="183.00,299.56 184.65,296.56 181.35,296.56" fill="#55218a"/>
<polygon points="194.50,306.14 196.15,303.14 192.85,303.14" fill="#55218a"/>
<polygon points="229.00,319.31 230.65,316.31 227.35,316.31" fill="#55218a"/>
<polygon points="252.00,313.38 253.65,310.38 250.35,310.38" fill="#55218a"/>
<polyline points="160.00,311.58 171.50,305.00 183.00,310.93 194.50,312.90 229.00,317.51 252.00,315.53" fill="none" stroke="#38e038" stroke-width="2.0" stroke-linejoin="round"/>
<polygon points="160.00,309.78 161.65,312.78 158.35,312.78" fill="#38e038"/>
<polygon points="171.50,303.20 173.15,306.20 169.85,306.20" fill="#38e038"/>
<polygon points="183.00,309.12 184.65,312.12 181.35,312.12" fill="#38e038"/>
<polygon points="194.50,311.10 196.15,314.10 192.85,314.10" fill="#38e038"/>
<polygon points="229.00,315.71 230.65,318.71 227.35,318.71" fill="#38e038"/>
<polygon points="252.00,313.73 253.65,316.73 250.35,316.73" fill="#38e038"/>
<polyline points="160.00,329.49 171.50,333.44 183.00,337.39 194.50,339.50 229.00,338.84 252.00,337.00" fill="none" stroke="#e2232b" stroke-width="2.4" stroke-linejoin="round"/>
<circle cx="160.00" cy="329.49" r="1.70" fill="#e2232b"/>
<circle cx="171.50" cy="333.44" r="1.70" fill="#e2232b"/>
<circle cx="183.00" cy="337.39" r="1.70" fill="#e2232b"/>
<circle cx="194.50" cy="339.50" r="1.70" fill="#e2232b"/>
<circle cx="229.00" cy="338.84" r="1.70" fill="#e2232b"/>
<circle cx="252.00" cy="337.00" r="1.70" fill="#e2232b"/>
<polyline points="160.00,328.70 171.50,332.65 183.00,336.34 194.50,338.57 229.00,337.65 252.00,335.94" fill="none" stroke="#111111" stroke-width="1.6" stroke-linejoin="round"/>
<rect x="158.60" y="327.30" width="2.80" height="2.80" fill="#111111"/>
<rect x="170.10" y="331.25" width="2.80" height="2.80" fill="#111111"/>
<rect x="181.60" y="334.94" width="2.80" height="2.80" fill="#111111"/>
<rect x="193.10" y="337.18" width="2.80" height="2.80" fill="#111111"/>
<rect x="227.60" y="336.25" width="2.80" height="2.80" fill="#111111"/>
<rect x="250.60" y="334.54" width="2.80" height="2.80" fill="#111111"/>
<line x1="27.40" y1="392.10" x2="27.40" y2="459.10" stroke="#000" stroke-width="1.2"/>
<line x1="24.60" y1="458.50" x2="27.40" y2="458.50" stroke="#000" stroke-width="1.2"/>
<line x1="24.60" y1="442.05" x2="27.40" y2="442.05" stroke="#000" stroke-width="1.2"/>
<line x1="24.60" y1="425.60" x2="27.40" y2="425.60" stroke="#000" stroke-width="1.2"/>
<line x1="24.60" y1="409.15" x2="27.40" y2="409.15" stroke="#000" stroke-width="1.2"/>
<line x1="24.60" y1="392.70" x2="27.40" y2="392.70" stroke="#000" stroke-width="1.2"/>
<line x1="26.80" y1="458.50" x2="125.60" y2="458.50" stroke="#000" stroke-width="1.2"/>
<circle cx="43.40" cy="437.03" r="1.40" fill="#c8102e"/>
<circle cx="37.40" cy="443.69" r="1.40" fill="#c8102e"/>
<circle cx="49.40" cy="443.28" r="1.40" fill="#c8102e"/>
<circle cx="39.40" cy="445.34" r="1.40" fill="#c8102e"/>
<circle cx="41.40" cy="446.00" r="1.40" fill="#c8102e"/>
<circle cx="44.40" cy="444.93" r="1.40" fill="#c8102e"/>
<circle cx="46.40" cy="442.46" r="1.40" fill="#c8102e"/>
<circle cx="48.40" cy="444.52" r="1.40" fill="#c8102e"/>
<circle cx="42.40" cy="441.64" r="1.40" fill="#c8102e"/>
<circle cx="45.40" cy="440.82" r="1.40" fill="#c8102e"/>
<circle cx="47.40" cy="445.75" r="1.40" fill="#c8102e"/>
<line x1="36.10" y1="443.28" x2="50.70" y2="443.28" stroke="#8b1020" stroke-width="0.9"/>
<line x1="43.40" y1="445.59" x2="43.40" y2="440.98" stroke="#8b1020" stroke-width="0.9"/>
<line x1="40.40" y1="445.59" x2="46.40" y2="445.59" stroke="#8b1020" stroke-width="0.9"/>
<line x1="40.40" y1="440.98" x2="46.40" y2="440.98" stroke="#8b1020" stroke-width="0.9"/>
<circle cx="65.40" cy="436.05" r="1.40" fill="#111111"/>
<circle cx="59.40" cy="443.28" r="1.40" fill="#111111"/>
<circle cx="71.40" cy="442.87" r="1.40" fill="#111111"/>
<circle cx="61.40" cy="445.75" r="1.40" fill="#111111"/>
<circle cx="63.40" cy="445.34" r="1.40" fill="#111111"/>
<circle cx="66.40" cy="444.52" r="1.40" fill="#111111"/>
<circle cx="68.40" cy="442.05" r="1.40" fill="#111111"/>
<circle cx="70.40" cy="445.34" r="1.40" fill="#111111"/>
<circle cx="64.40" cy="441.23" r="1.40" fill="#111111"/>
<circle cx="67.40" cy="440.82" r="1.40" fill="#111111"/>
<circle cx="69.40" cy="446.00" r="1.40" fill="#111111"/>
<line x1="58.10" y1="443.04" x2="72.70" y2="443.04" stroke="#6a1a1a" stroke-width="0.9"/>
<line x1="65.40" y1="445.92" x2="65.40" y2="440.16" stroke="#6a1a1a" stroke-width="0.9"/>
<line x1="62.40" y1="445.92" x2="68.40" y2="445.92" stroke="#6a1a1a" stroke-width="0.9"/>
<line x1="62.40" y1="440.16" x2="68.40" y2="440.16" stroke="#6a1a1a" stroke-width="0.9"/>
<polygon points="84.60,400.59 85.81,402.79 83.39,402.79" fill="#38e038"/>
<polygon points="90.60,400.59 91.81,402.79 89.39,402.79" fill="#38e038"/>
<polygon points="81.60,407.42 82.81,409.62 80.39,409.62" fill="#38e038"/>
<polygon points="93.60,407.42 94.81,409.62 92.39,409.62" fill="#38e038"/>
<polygon points="82.60,412.68 83.81,414.88 81.39,414.88" fill="#38e038"/>
<polygon points="87.60,409.48 88.81,411.68 86.39,411.68" fill="#38e038"/>
<polygon points="87.60,418.52 88.81,420.72 86.39,420.72" fill="#38e038"/>
<polygon points="87.60,422.63 88.81,424.83 86.39,424.83" fill="#38e038"/>
<polygon points="84.60,429.21 85.81,431.41 83.39,431.41" fill="#38e038"/>
<polygon points="90.60,430.04 91.81,432.24 89.39,432.24" fill="#38e038"/>
<polygon points="87.60,435.22 88.81,437.42 86.39,437.42" fill="#38e038"/>
<line x1="80.30" y1="415.81" x2="94.90" y2="415.81" stroke="#3f4f3f" stroke-width="0.9"/>
<line x1="87.60" y1="427.04" x2="87.60" y2="404.59" stroke="#3f4f3f" stroke-width="0.9"/>
<line x1="84.60" y1="427.04" x2="90.60" y2="427.04" stroke="#3f4f3f" stroke-width="0.9"/>
<line x1="84.60" y1="404.59" x2="90.60" y2="404.59" stroke="#3f4f3f" stroke-width="0.9"/>
<circle cx="110.00" cy="405.04" r="1.40" fill="#55218a"/>
<circle cx="109.00" cy="408.74" r="1.40" fill="#55218a"/>
<circle cx="113.00" cy="412.03" r="1.40" fill="#55218a"/>
<circle cx="108.00" cy="412.44" r="1.40" fill="#55218a"/>
<circle cx="112.00" cy="415.73" r="1.40" fill="#55218a"/>
<circle cx="110.00" cy="419.18" r="1.40" fill="#55218a"/>
<line x1="102.70" y1="412.28" x2="117.30" y2="412.28" stroke="#3a1850" stroke-width="0.9"/>
<line x1="110.00" y1="417.09" x2="110.00" y2="407.46" stroke="#3a1850" stroke-width="0.9"/>
<line x1="107.00" y1="417.09" x2="113.00" y2="417.09" stroke="#3a1850" stroke-width="0.9"/>
<line x1="107.00" y1="407.46" x2="113.00" y2="407.46" stroke="#3a1850" stroke-width="0.9"/>
<line x1="159.00" y1="391.10" x2="159.00" y2="458.90" stroke="#000" stroke-width="1.2"/>
<line x1="156.20" y1="458.30" x2="159.00" y2="458.30" stroke="#000" stroke-width="1.2"/>
<line x1="156.20" y1="441.65" x2="159.00" y2="441.65" stroke="#000" stroke-width="1.2"/>
<line x1="156.20" y1="425.00" x2="159.00" y2="425.00" stroke="#000" stroke-width="1.2"/>
<line x1="156.20" y1="408.35" x2="159.00" y2="408.35" stroke="#000" stroke-width="1.2"/>
<line x1="156.20" y1="391.70" x2="159.00" y2="391.70" stroke="#000" stroke-width="1.2"/>
<line x1="158.40" y1="458.30" x2="260.50" y2="458.30" stroke="#000" stroke-width="1.2"/>
<circle cx="175.00" cy="432.99" r="1.40" fill="#c8102e"/>
<circle cx="168.00" cy="443.73" r="1.40" fill="#c8102e"/>
<circle cx="182.00" cy="442.07" r="1.40" fill="#c8102e"/>
<circle cx="171.00" cy="445.40" r="1.40" fill="#c8102e"/>
<circle cx="179.00" cy="446.64" r="1.40" fill="#c8102e"/>
<circle cx="173.00" cy="443.31" r="1.40" fill="#c8102e"/>
<circle cx="177.00" cy="444.56" r="1.40" fill="#c8102e"/>
<circle cx="172.00" cy="448.31" r="1.40" fill="#c8102e"/>
<circle cx="176.00" cy="450.39" r="1.40" fill="#c8102e"/>
<circle cx="180.00" cy="447.06" r="1.40" fill="#c8102e"/>
<circle cx="181.00" cy="444.98" r="1.40" fill="#c8102e"/>
<line x1="167.70" y1="444.23" x2="182.30" y2="444.23" stroke="#8b1020" stroke-width="0.9"/>
<line x1="175.00" y1="447.56" x2="175.00" y2="440.90" stroke="#8b1020" stroke-width="0.9"/>
<line x1="172.00" y1="447.56" x2="178.00" y2="447.56" stroke="#8b1020" stroke-width="0.9"/>
<line x1="172.00" y1="440.90" x2="178.00" y2="440.90" stroke="#8b1020" stroke-width="0.9"/>
<rect x="190.10" y="436.09" width="2.80" height="2.80" fill="#111111"/>
<rect x="204.10" y="435.67" width="2.80" height="2.80" fill="#111111"/>
<rect x="190.10" y="439.42" width="2.80" height="2.80" fill="#111111"/>
<rect x="204.10" y="439.00" width="2.80" height="2.80" fill="#111111"/>
<rect x="190.10" y="442.75" width="2.80" height="2.80" fill="#111111"/>
<rect x="204.10" y="442.33" width="2.80" height="2.80" fill="#111111"/>
<rect x="190.10" y="445.66" width="2.80" height="2.80" fill="#111111"/>
<rect x="204.10" y="445.25" width="2.80" height="2.80" fill="#111111"/>
<rect x="197.10" y="441.08" width="2.80" height="2.80" fill="#111111"/>
<line x1="191.20" y1="442.73" x2="205.80" y2="442.73" stroke="#7a1a1a" stroke-width="0.9"/>
<line x1="198.50" y1="445.23" x2="198.50" y2="440.23" stroke="#7a1a1a" stroke-width="0.9"/>
<line x1="195.50" y1="445.23" x2="201.50" y2="445.23" stroke="#7a1a1a" stroke-width="0.9"/>
<line x1="195.50" y1="440.23" x2="201.50" y2="440.23" stroke="#7a1a1a" stroke-width="0.9"/>
<polygon points="215.50,399.12 216.71,401.32 214.29,401.32" fill="#38e038"/>
<polygon points="227.50,399.12 228.71,401.32 226.29,401.32" fill="#38e038"/>
<polygon points="221.50,397.87 222.71,400.07 220.29,400.07" fill="#38e038"/>
<polygon points="221.50,404.53 222.71,406.73 220.29,406.73" fill="#38e038"/>
<polygon points="221.50,408.69 222.71,410.89 220.29,410.89" fill="#38e038"/>
<polygon points="221.50,412.86 222.71,415.06 220.29,415.06" fill="#38e038"/>
<polygon points="221.50,417.85 222.71,420.05 220.29,420.05" fill="#38e038"/>
<polygon points="221.50,421.18 222.71,423.38 220.29,423.38" fill="#38e038"/>
<polygon points="221.50,425.35 222.71,427.55 220.29,427.55" fill="#38e038"/>
<polygon points="221.50,429.51 222.71,431.71 220.29,431.71" fill="#38e038"/>
<polygon points="218.50,442.83 219.71,445.03 217.29,445.03" fill="#38e038"/>
<polygon points="225.50,441.58 226.71,443.78 224.29,443.78" fill="#38e038"/>
<polygon points="227.50,413.69 228.71,415.89 226.29,415.89" fill="#38e038"/>
<line x1="214.20" y1="418.34" x2="228.80" y2="418.34" stroke="#2f5f2f" stroke-width="0.9"/>
<line x1="221.50" y1="433.66" x2="221.50" y2="403.02" stroke="#2f5f2f" stroke-width="0.9"/>
<line x1="218.50" y1="433.66" x2="224.50" y2="433.66" stroke="#2f5f2f" stroke-width="0.9"/>
<line x1="218.50" y1="403.02" x2="224.50" y2="403.02" stroke="#2f5f2f" stroke-width="0.9"/>
<polygon points="238.60,404.68 239.81,402.48 237.39,402.48" fill="#55218a"/>
<polygon points="250.60,405.09 251.81,402.89 249.39,402.89" fill="#55218a"/>
<polygon points="244.60,408.00 245.81,405.81 243.39,405.81" fill="#55218a"/>
<polygon points="241.60,415.50 242.81,413.30 240.39,413.30" fill="#55218a"/>
<polygon points="248.60,416.33 249.81,414.13 247.39,414.13" fill="#55218a"/>
<polygon points="244.60,426.07 245.81,423.87 243.39,423.87" fill="#55218a"/>
<line x1="237.30" y1="411.26" x2="251.90" y2="411.26" stroke="#3a1850" stroke-width="0.9"/>
<line x1="244.60" y1="420.00" x2="244.60" y2="402.52" stroke="#3a1850" stroke-width="0.9"/>
<line x1="241.60" y1="420.00" x2="247.60" y2="420.00" stroke="#3a1850" stroke-width="0.9"/>
<line x1="241.60" y1="402.52" x2="247.60" y2="402.52" stroke="#3a1850" stroke-width="0.9"/>
<polyline points="309.77,86.63 313.29,77.49 316.81,69.50 320.33,60.35 327.37,48.93 334.41,42.08 341.45,37.50 348.49,32.36 355.52,29.51 362.56,27.22 369.60,26.08 376.64,26.08 383.68,25.51 390.72,24.94 397.76,23.80 404.80,22.65 411.84,20.94" fill="none" stroke="#55218a" stroke-width="1.8" stroke-linejoin="round"/>
<polygon points="309.77,88.43 311.42,85.43 308.12,85.43" fill="#55218a"/>
<polygon points="313.29,79.29 314.94,76.29 311.64,76.29" fill="#55218a"/>
<polygon points="316.81,71.30 318.46,68.30 315.16,68.30" fill="#55218a"/>
<polygon points="320.33,62.15 321.98,59.15 318.68,59.15" fill="#55218a"/>
<polygon points="327.37,50.73 329.02,47.73 325.72,47.73" fill="#55218a"/>
<polygon points="334.41,43.88 336.06,40.88 332.76,40.88" fill="#55218a"/>
<polygon points="341.45,39.30 343.10,36.30 339.80,36.30" fill="#55218a"/>
<polygon points="348.49,34.16 350.14,31.16 346.84,31.16" fill="#55218a"/>
<polygon points="355.52,31.31 357.17,28.31 353.88,28.31" fill="#55218a"/>
<polygon points="362.56,29.02 364.21,26.02 360.91,26.02" fill="#55218a"/>
<polygon points="369.60,27.88 371.25,24.88 367.95,24.88" fill="#55218a"/>
<polygon points="376.64,27.88 378.29,24.88 374.99,24.88" fill="#55218a"/>
<polygon points="383.68,27.31 385.33,24.31 382.03,24.31" fill="#55218a"/>
<polygon points="390.72,26.74 392.37,23.74 389.07,23.74" fill="#55218a"/>
<polygon points="397.76,25.60 399.41,22.60 396.11,22.60" fill="#55218a"/>
<polygon points="404.80,24.45 406.45,21.45 403.15,21.45" fill="#55218a"/>
<polygon points="411.84,22.74 413.49,19.74 410.19,19.74" fill="#55218a"/>
<polyline points="309.77,86.63 313.29,76.35 316.81,69.50 320.33,59.21 327.37,48.93 334.41,42.08 341.45,37.50 348.49,31.79 355.52,28.36 362.56,26.08 369.60,23.80 376.64,22.65 383.68,20.82 390.72,19.45 397.76,18.54 404.80,17.85 411.84,16.71" fill="none" stroke="#908c24" stroke-width="2.0" stroke-linejoin="round"/>
<polygon points="309.77,84.71 311.53,87.91 308.01,87.91" fill="#908c24"/>
<polygon points="313.29,74.43 315.05,77.63 311.53,77.63" fill="#908c24"/>
<polygon points="316.81,67.58 318.57,70.78 315.05,70.78" fill="#908c24"/>
<polygon points="320.33,57.29 322.09,60.49 318.57,60.49" fill="#908c24"/>
<polygon points="327.37,47.01 329.13,50.21 325.61,50.21" fill="#908c24"/>
<polygon points="334.41,40.16 336.17,43.36 332.65,43.36" fill="#908c24"/>
<polygon points="341.45,35.58 343.21,38.78 339.69,38.78" fill="#908c24"/>
<polygon points="348.49,29.87 350.25,33.07 346.73,33.07" fill="#908c24"/>
<polygon points="355.52,26.44 357.28,29.64 353.76,29.64" fill="#908c24"/>
<polygon points="362.56,24.16 364.32,27.36 360.80,27.36" fill="#908c24"/>
<polygon points="369.60,21.88 371.36,25.08 367.84,25.08" fill="#908c24"/>
<polygon points="376.64,20.73 378.40,23.93 374.88,23.93" fill="#908c24"/>
<polygon points="383.68,18.90 385.44,22.10 381.92,22.10" fill="#908c24"/>
<polygon points="390.72,17.53 392.48,20.73 388.96,20.73" fill="#908c24"/>
<polygon points="397.76,16.62 399.52,19.82 396.00,19.82" fill="#908c24"/>
<polygon points="404.80,15.93 406.56,19.13 403.04,19.13" fill="#908c24"/>
<polygon points="411.84,14.79 413.60,17.99 410.08,17.99" fill="#908c24"/>
<polyline points="309.77,85.49 313.29,82.06 316.81,80.92 320.33,79.78 327.37,78.06 334.41,76.35 341.45,74.64 348.49,73.15 355.52,72.47 362.56,71.21 369.60,70.64 376.64,69.95 383.68,69.50 390.72,69.15 397.76,68.70 404.80,68.35 411.84,68.01" fill="none" stroke="#2222cc" stroke-width="2.0" stroke-linejoin="round"/>
<rect x="308.27" y="83.99" width="3.00" height="3.00" fill="#2222cc"/>
<rect x="311.79" y="80.56" width="3.00" height="3.00" fill="#2222cc"/>
<rect x="315.31" y="79.42" width="3.00" height="3.00" fill="#2222cc"/>
<rect x="318.83" y="78.28" width="3.00" height="3.00" fill="#2222cc"/>
<rect x="325.87" y="76.56" width="3.00" height="3.00" fill="#2222cc"/>
<rect x="332.91" y="74.85" width="3.00" height="3.00" fill="#2222cc"/>
<rect x="339.95" y="73.14" width="3.00" height="3.00" fill="#2222cc"/>
<rect x="346.99" y="71.65" width="3.00" height="3.00" fill="#2222cc"/>
<rect x="354.02" y="70.97" width="3.00" height="3.00" fill="#2222cc"/>
<rect x="361.06" y="69.71" width="3.00" height="3.00" fill="#2222cc"/>
<rect x="368.10" y="69.14" width="3.00" height="3.00" fill="#2222cc"/>
<rect x="375.14" y="68.45" width="3.00" height="3.00" fill="#2222cc"/>
<rect x="382.18" y="68.00" width="3.00" height="3.00" fill="#2222cc"/>
<rect x="389.22" y="67.65" width="3.00" height="3.00" fill="#2222cc"/>
<rect x="396.26" y="67.20" width="3.00" height="3.00" fill="#2222cc"/>
<rect x="403.30" y="66.85" width="3.00" height="3.00" fill="#2222cc"/>
<rect x="410.34" y="66.51" width="3.00" height="3.00" fill="#2222cc"/>
<polyline points="309.77,86.63 313.29,78.64 316.81,76.92 320.33,75.21 327.37,73.49 334.41,72.35 341.45,71.21 348.49,70.07 355.52,69.50 362.56,68.92 369.60,68.35 376.64,67.78 383.68,67.21 390.72,66.87 397.76,66.30 404.80,65.61 411.84,65.15" fill="none" stroke="#e2232b" stroke-width="2.0" stroke-linejoin="round"/>
<circle cx="309.77" cy="86.63" r="1.60" fill="#e2232b"/>
<circle cx="313.29" cy="78.64" r="1.60" fill="#e2232b"/>
<circle cx="316.81" cy="76.92" r="1.60" fill="#e2232b"/>
<circle cx="320.33" cy="75.21" r="1.60" fill="#e2232b"/>
<circle cx="327.37" cy="73.49" r="1.60" fill="#e2232b"/>
<circle cx="334.41" cy="72.35" r="1.60" fill="#e2232b"/>
<circle cx="341.45" cy="71.21" r="1.60" fill="#e2232b"/>
<circle cx="348.49" cy="70.07" r="1.60" fill="#e2232b"/>
<circle cx="355.52" cy="69.50" r="1.60" fill="#e2232b"/>
<circle cx="362.56" cy="68.92" r="1.60" fill="#e2232b"/>
<circle cx="369.60" cy="68.35" r="1.60" fill="#e2232b"/>
<circle cx="376.64" cy="67.78" r="1.60" fill="#e2232b"/>
<circle cx="383.68" cy="67.21" r="1.60" fill="#e2232b"/>
<circle cx="390.72" cy="66.87" r="1.60" fill="#e2232b"/>
<circle cx="397.76" cy="66.30" r="1.60" fill="#e2232b"/>
<circle cx="404.80" cy="65.61" r="1.60" fill="#e2232b"/>
<circle cx="411.84" cy="65.15" r="1.60" fill="#e2232b"/>
<line x1="441.40" y1="31.70" x2="452.00" y2="31.70" stroke="#e2232b" stroke-width="1.6"/>
<circle cx="446.70" cy="31.70" r="2.00" fill="#e2232b"/>
<line x1="441.40" y1="43.60" x2="452.00" y2="43.60" stroke="#2222cc" stroke-width="1.6"/>
<rect x="444.70" y="41.60" width="4.00" height="4.00" fill="#2222cc"/>
<line x1="441.40" y1="55.80" x2="452.00" y2="55.80" stroke="#908c24" stroke-width="1.6"/>
<polygon points="446.70,53.40 448.90,57.40 444.50,57.40" fill="#908c24"/>
<line x1="441.40" y1="68.30" x2="452.00" y2="68.30" stroke="#55218a" stroke-width="1.6"/>
<polygon points="446.70,70.70 448.90,66.70 444.50,66.70" fill="#55218a"/>
<polyline points="289.40,198.70 301.04,160.90 312.67,158.80 324.31,157.75 359.23,161.95 382.50,165.10" fill="none" stroke="#55218a" stroke-width="2.0" stroke-linejoin="round"/>
<polygon points="289.40,200.50 291.05,197.50 287.75,197.50" fill="#55218a"/>
<polygon points="301.04,162.70 302.69,159.70 299.39,159.70" fill="#55218a"/>
<polygon points="312.67,160.60 314.32,157.60 311.02,157.60" fill="#55218a"/>
<polygon points="324.31,159.55 325.96,156.55 322.66,156.55" fill="#55218a"/>
<polygon points="359.23,163.75 360.88,160.75 357.58,160.75" fill="#55218a"/>
<polygon points="382.50,166.90 384.15,163.90 380.85,163.90" fill="#55218a"/>
<polyline points="289.40,189.25 301.04,164.05 312.67,159.85 324.31,157.75 359.23,161.95 382.50,163.00" fill="none" stroke="#908c24" stroke-width="2.0" stroke-linejoin="round"/>
<polygon points="289.40,187.45 291.05,190.45 287.75,190.45" fill="#908c24"/>
<polygon points="301.04,162.25 302.69,165.25 299.39,165.25" fill="#908c24"/>
<polygon points="312.67,158.05 314.32,161.05 311.02,161.05" fill="#908c24"/>
<polygon points="324.31,155.95 325.96,158.95 322.66,158.95" fill="#908c24"/>
<polygon points="359.23,160.15 360.88,163.15 357.58,163.15" fill="#908c24"/>
<polygon points="382.50,161.20 384.15,164.20 380.85,164.20" fill="#908c24"/>
<polyline points="289.40,212.35 301.04,201.32 312.67,199.75 324.31,201.32 359.23,208.15 382.50,209.20" fill="none" stroke="#2222cc" stroke-width="2.1" stroke-linejoin="round"/>
<rect x="287.90" y="210.85" width="3.00" height="3.00" fill="#2222cc"/>
<rect x="299.54" y="199.82" width="3.00" height="3.00" fill="#2222cc"/>
<rect x="311.17" y="198.25" width="3.00" height="3.00" fill="#2222cc"/>
<rect x="322.81" y="199.82" width="3.00" height="3.00" fill="#2222cc"/>
<rect x="357.73" y="206.65" width="3.00" height="3.00" fill="#2222cc"/>
<rect x="381.00" y="207.70" width="3.00" height="3.00" fill="#2222cc"/>
<polyline points="289.40,212.35 301.04,200.80 312.67,200.28 324.31,202.90 359.23,208.68 382.50,209.20" fill="none" stroke="#e2232b" stroke-width="2.2" stroke-linejoin="round"/>
<circle cx="289.40" cy="212.35" r="1.70" fill="#e2232b"/>
<circle cx="301.04" cy="200.80" r="1.70" fill="#e2232b"/>
<circle cx="312.67" cy="200.28" r="1.70" fill="#e2232b"/>
<circle cx="324.31" cy="202.90" r="1.70" fill="#e2232b"/>
<circle cx="359.23" cy="208.68" r="1.70" fill="#e2232b"/>
<circle cx="382.50" cy="209.20" r="1.70" fill="#e2232b"/>
<polyline points="419.50,194.50 431.19,165.99 442.88,159.65 454.56,158.07 489.62,164.93 513.00,170.21" fill="none" stroke="#55218a" stroke-width="2.0" stroke-linejoin="round"/>
<polygon points="419.50,196.30 421.15,193.30 417.85,193.30" fill="#55218a"/>
<polygon points="431.19,167.79 432.84,164.79 429.54,164.79" fill="#55218a"/>
<polygon points="442.88,161.45 444.52,158.45 441.23,158.45" fill="#55218a"/>
<polygon points="454.56,159.87 456.21,156.87 452.91,156.87" fill="#55218a"/>
<polygon points="489.62,166.73 491.27,163.73 487.98,163.73" fill="#55218a"/>
<polygon points="513.00,172.01 514.65,169.01 511.35,169.01" fill="#55218a"/>
<polyline points="419.50,192.39 431.19,164.93 442.88,161.24 454.56,161.76 489.62,163.88 513.00,165.99" fill="none" stroke="#908c24" stroke-width="2.0" stroke-linejoin="round"/>
<polygon points="419.50,190.59 421.15,193.59 417.85,193.59" fill="#908c24"/>
<polygon points="431.19,163.13 432.84,166.13 429.54,166.13" fill="#908c24"/>
<polygon points="442.88,159.44 444.52,162.44 441.23,162.44" fill="#908c24"/>
<polygon points="454.56,159.96 456.21,162.96 452.91,162.96" fill="#908c24"/>
<polygon points="489.62,162.08 491.27,165.08 487.98,165.08" fill="#908c24"/>
<polygon points="513.00,164.19 514.65,167.19 511.35,167.19" fill="#908c24"/>
<polyline points="419.50,215.62 431.19,200.84 442.88,202.42 454.56,204.53 489.62,210.87 513.00,210.34" fill="none" stroke="#2222cc" stroke-width="2.1" stroke-linejoin="round"/>
<rect x="418.00" y="214.12" width="3.00" height="3.00" fill="#2222cc"/>
<rect x="429.69" y="199.34" width="3.00" height="3.00" fill="#2222cc"/>
<rect x="441.38" y="200.92" width="3.00" height="3.00" fill="#2222cc"/>
<rect x="453.06" y="203.03" width="3.00" height="3.00" fill="#2222cc"/>
<rect x="488.12" y="209.37" width="3.00" height="3.00" fill="#2222cc"/>
<rect x="511.50" y="208.84" width="3.00" height="3.00" fill="#2222cc"/>
<polyline points="419.50,213.51 431.19,196.61 442.88,195.03 454.56,197.67 489.62,208.23 513.00,208.76" fill="none" stroke="#e2232b" stroke-width="2.2" stroke-linejoin="round"/>
<circle cx="419.50" cy="213.51" r="1.70" fill="#e2232b"/>
<circle cx="431.19" cy="196.61" r="1.70" fill="#e2232b"/>
<circle cx="442.88" cy="195.03" r="1.70" fill="#e2232b"/>
<circle cx="454.56" cy="197.67" r="1.70" fill="#e2232b"/>
<circle cx="489.62" cy="208.23" r="1.70" fill="#e2232b"/>
<circle cx="513.00" cy="208.76" r="1.70" fill="#e2232b"/>
<polyline points="293.25,284.29 305.03,273.63 316.81,279.62 328.59,284.29 363.94,297.61 387.50,297.61" fill="none" stroke="#55218a" stroke-width="2.0" stroke-linejoin="round"/>
<polygon points="293.25,286.09 294.90,283.09 291.60,283.09" fill="#55218a"/>
<polygon points="305.03,275.43 306.68,272.43 303.38,272.43" fill="#55218a"/>
<polygon points="316.81,281.42 318.46,278.42 315.16,278.42" fill="#55218a"/>
<polygon points="328.59,286.09 330.24,283.09 326.94,283.09" fill="#55218a"/>
<polygon points="363.94,299.41 365.59,296.41 362.29,296.41" fill="#55218a"/>
<polygon points="387.50,299.41 389.15,296.41 385.85,296.41" fill="#55218a"/>
<polyline points="293.25,294.95 305.03,274.96 316.81,278.96 328.59,283.62 363.94,294.95 387.50,289.62" fill="none" stroke="#908c24" stroke-width="2.0" stroke-linejoin="round"/>
<polygon points="293.25,293.15 294.90,296.15 291.60,296.15" fill="#908c24"/>
<polygon points="305.03,273.16 306.68,276.16 303.38,276.16" fill="#908c24"/>
<polygon points="316.81,277.16 318.46,280.16 315.16,280.16" fill="#908c24"/>
<polygon points="328.59,281.82 330.24,284.82 326.94,284.82" fill="#908c24"/>
<polygon points="363.94,293.15 365.59,296.15 362.29,296.15" fill="#908c24"/>
<polygon points="387.50,287.82 389.15,290.82 385.85,290.82" fill="#908c24"/>
<polyline points="293.25,329.59 305.03,335.59 316.81,338.92 328.59,339.59 363.94,338.92 387.50,336.92" fill="none" stroke="#2222cc" stroke-width="2.1" stroke-linejoin="round"/>
<rect x="291.75" y="328.09" width="3.00" height="3.00" fill="#2222cc"/>
<rect x="303.53" y="334.09" width="3.00" height="3.00" fill="#2222cc"/>
<rect x="315.31" y="337.42" width="3.00" height="3.00" fill="#2222cc"/>
<rect x="327.09" y="338.09" width="3.00" height="3.00" fill="#2222cc"/>
<rect x="362.44" y="337.42" width="3.00" height="3.00" fill="#2222cc"/>
<rect x="386.00" y="335.42" width="3.00" height="3.00" fill="#2222cc"/>
<polyline points="293.25,332.92 305.03,336.25 316.81,338.92 328.59,339.59 363.94,338.92 387.50,336.25" fill="none" stroke="#e2232b" stroke-width="2.2" stroke-linejoin="round"/>
<circle cx="293.25" cy="332.92" r="1.70" fill="#e2232b"/>
<circle cx="305.03" cy="336.25" r="1.70" fill="#e2232b"/>
<circle cx="316.81" cy="338.92" r="1.70" fill="#e2232b"/>
<circle cx="328.59" cy="339.59" r="1.70" fill="#e2232b"/>
<circle cx="363.94" cy="338.92" r="1.70" fill="#e2232b"/>
<circle cx="387.50" cy="336.25" r="1.70" fill="#e2232b"/>
<polyline points="418.00,305.56 430.04,288.52 442.07,291.25 454.11,292.61 490.22,302.84 514.30,300.79" fill="none" stroke="#55218a" stroke-width="2.0" stroke-linejoin="round"/>
<polygon points="418.00,307.36 419.65,304.36 416.35,304.36" fill="#55218a"/>
<polygon points="430.04,290.32 431.69,287.32 428.39,287.32" fill="#55218a"/>
<polygon points="442.07,293.05 443.72,290.05 440.43,290.05" fill="#55218a"/>
<polygon points="454.11,294.41 455.76,291.41 452.46,291.41" fill="#55218a"/>
<polygon points="490.22,304.64 491.87,301.64 488.57,301.64" fill="#55218a"/>
<polygon points="514.30,302.59 515.95,299.59 512.65,299.59" fill="#55218a"/>
<polyline points="418.00,305.56 430.04,289.20 442.07,295.34 454.11,299.43 490.22,305.56 514.30,302.16" fill="none" stroke="#908c24" stroke-width="2.0" stroke-linejoin="round"/>
<polygon points="418.00,303.76 419.65,306.76 416.35,306.76" fill="#908c24"/>
<polygon points="430.04,287.40 431.69,290.40 428.39,290.40" fill="#908c24"/>
<polygon points="442.07,293.54 443.72,296.54 440.43,296.54" fill="#908c24"/>
<polygon points="454.11,297.63 455.76,300.63 452.46,300.63" fill="#908c24"/>
<polygon points="490.22,303.76 491.87,306.76 488.57,306.76" fill="#908c24"/>
<polygon points="514.30,300.36 515.95,303.36 512.65,303.36" fill="#908c24"/>
<polyline points="418.00,329.42 430.04,334.88 442.07,337.60 454.11,338.97 490.22,338.97 514.30,336.92" fill="none" stroke="#2222cc" stroke-width="2.1" stroke-linejoin="round"/>
<rect x="416.50" y="327.92" width="3.00" height="3.00" fill="#2222cc"/>
<rect x="428.54" y="333.38" width="3.00" height="3.00" fill="#2222cc"/>
<rect x="440.57" y="336.10" width="3.00" height="3.00" fill="#2222cc"/>
<rect x="452.61" y="337.47" width="3.00" height="3.00" fill="#2222cc"/>
<rect x="488.72" y="337.47" width="3.00" height="3.00" fill="#2222cc"/>
<rect x="512.80" y="335.42" width="3.00" height="3.00" fill="#2222cc"/>
<polyline points="418.00,330.10 430.04,334.88 442.07,338.01 454.11,339.37 490.22,338.97 514.30,337.60" fill="none" stroke="#e2232b" stroke-width="2.2" stroke-linejoin="round"/>
<circle cx="418.00" cy="330.10" r="1.70" fill="#e2232b"/>
<circle cx="430.04" cy="334.88" r="1.70" fill="#e2232b"/>
<circle cx="442.07" cy="338.01" r="1.70" fill="#e2232b"/>
<circle cx="454.11" cy="339.37" r="1.70" fill="#e2232b"/>
<circle cx="490.22" cy="338.97" r="1.70" fill="#e2232b"/>
<circle cx="514.30" cy="337.60" r="1.70" fill="#e2232b"/>
<line x1="294.10" y1="392.70" x2="294.10" y2="458.90" stroke="#000" stroke-width="1.2"/>
<line x1="291.30" y1="458.30" x2="294.10" y2="458.30" stroke="#000" stroke-width="1.2"/>
<line x1="291.30" y1="442.05" x2="294.10" y2="442.05" stroke="#000" stroke-width="1.2"/>
<line x1="291.30" y1="425.80" x2="294.10" y2="425.80" stroke="#000" stroke-width="1.2"/>
<line x1="291.30" y1="409.55" x2="294.10" y2="409.55" stroke="#000" stroke-width="1.2"/>
<line x1="291.30" y1="393.30" x2="294.10" y2="393.30" stroke="#000" stroke-width="1.2"/>
<line x1="293.50" y1="458.30" x2="391.90" y2="458.30" stroke="#000" stroke-width="1.2"/>
<circle cx="306.30" cy="442.05" r="1.40" fill="#c8102e"/>
<circle cx="310.30" cy="443.27" r="1.40" fill="#c8102e"/>
<circle cx="303.30" cy="444.49" r="1.40" fill="#c8102e"/>
<circle cx="313.30" cy="444.89" r="1.40" fill="#c8102e"/>
<circle cx="305.30" cy="445.71" r="1.40" fill="#c8102e"/>
<circle cx="311.30" cy="445.71" r="1.40" fill="#c8102e"/>
<circle cx="308.30" cy="446.93" r="1.40" fill="#c8102e"/>
<circle cx="303.30" cy="446.93" r="1.40" fill="#c8102e"/>
<circle cx="313.30" cy="444.49" r="1.40" fill="#c8102e"/>
<line x1="301.00" y1="444.89" x2="315.60" y2="444.89" stroke="#8b1a1a" stroke-width="0.9"/>
<line x1="308.30" y1="446.52" x2="308.30" y2="443.27" stroke="#8b1a1a" stroke-width="0.9"/>
<line x1="305.30" y1="446.52" x2="311.30" y2="446.52" stroke="#8b1a1a" stroke-width="0.9"/>
<line x1="305.30" y1="443.27" x2="311.30" y2="443.27" stroke="#8b1a1a" stroke-width="0.9"/>
<rect x="328.00" y="436.59" width="2.80" height="2.80" fill="#2222cc"/>
<rect x="332.00" y="437.40" width="2.80" height="2.80" fill="#2222cc"/>
<rect x="330.00" y="439.03" width="2.80" height="2.80" fill="#2222cc"/>
<rect x="326.00" y="440.65" width="2.80" height="2.80" fill="#2222cc"/>
<rect x="334.00" y="441.06" width="2.80" height="2.80" fill="#2222cc"/>
<rect x="325.00" y="443.90" width="2.80" height="2.80" fill="#2222cc"/>
<rect x="335.00" y="443.90" width="2.80" height="2.80" fill="#2222cc"/>
<rect x="327.00" y="446.34" width="2.80" height="2.80" fill="#2222cc"/>
<rect x="333.00" y="446.74" width="2.80" height="2.80" fill="#2222cc"/>
<rect x="325.00" y="448.37" width="2.80" height="2.80" fill="#2222cc"/>
<rect x="335.00" y="448.37" width="2.80" height="2.80" fill="#2222cc"/>
<rect x="330.00" y="448.78" width="2.80" height="2.80" fill="#2222cc"/>
<line x1="324.10" y1="445.06" x2="338.70" y2="445.06" stroke="#1a1a60" stroke-width="0.9"/>
<line x1="331.40" y1="448.31" x2="331.40" y2="441.81" stroke="#1a1a60" stroke-width="0.9"/>
<line x1="328.40" y1="448.31" x2="334.40" y2="448.31" stroke="#1a1a60" stroke-width="0.9"/>
<line x1="328.40" y1="441.81" x2="334.40" y2="441.81" stroke="#1a1a60" stroke-width="0.9"/>
<polygon points="348.40,400.11 349.61,402.31 347.19,402.31" fill="#908c24"/>
<polygon points="360.40,400.11 361.61,402.31 359.19,402.31" fill="#908c24"/>
<polygon points="351.40,401.73 352.61,403.93 350.19,403.93" fill="#908c24"/>
<polygon points="357.40,401.73 358.61,403.93 356.19,403.93" fill="#908c24"/>
<polygon points="354.40,403.36 355.61,405.56 353.19,405.56" fill="#908c24"/>
<polygon points="350.40,404.17 351.61,406.37 349.19,406.37" fill="#908c24"/>
<polygon points="358.40,404.98 359.61,407.18 357.19,407.18" fill="#908c24"/>
<polygon points="356.40,406.61 357.61,408.81 355.19,408.81" fill="#908c24"/>
<polygon points="354.40,415.54 355.61,417.74 353.19,417.74" fill="#908c24"/>
<polygon points="353.40,417.98 354.61,420.18 352.19,420.18" fill="#908c24"/>
<line x1="347.10" y1="404.68" x2="361.70" y2="404.68" stroke="#4a4830" stroke-width="0.9"/>
<line x1="354.40" y1="410.36" x2="354.40" y2="398.99" stroke="#4a4830" stroke-width="0.9"/>
<line x1="351.40" y1="410.36" x2="357.40" y2="410.36" stroke="#4a4830" stroke-width="0.9"/>
<line x1="351.40" y1="398.99" x2="357.40" y2="398.99" stroke="#4a4830" stroke-width="0.9"/>
<polygon points="370.50,403.56 371.71,401.36 369.29,401.36" fill="#55218a"/>
<polygon points="374.50,403.15 375.71,400.95 373.29,400.95" fill="#55218a"/>
<polygon points="378.50,403.15 379.71,400.95 377.29,400.95" fill="#55218a"/>
<polygon points="382.50,403.56 383.71,401.36 381.29,401.36" fill="#55218a"/>
<polygon points="375.50,409.65 376.71,407.45 374.29,407.45" fill="#55218a"/>
<polygon points="378.50,409.65 379.71,407.45 377.29,407.45" fill="#55218a"/>
<line x1="369.20" y1="405.08" x2="383.80" y2="405.08" stroke="#3a1a4a" stroke-width="0.9"/>
<line x1="376.50" y1="408.01" x2="376.50" y2="402.16" stroke="#3a1a4a" stroke-width="0.9"/>
<line x1="373.50" y1="408.01" x2="379.50" y2="408.01" stroke="#3a1a4a" stroke-width="0.9"/>
<line x1="373.50" y1="402.16" x2="379.50" y2="402.16" stroke="#3a1a4a" stroke-width="0.9"/>
<line x1="419.40" y1="391.90" x2="419.40" y2="458.30" stroke="#000" stroke-width="1.2"/>
<line x1="416.60" y1="457.70" x2="419.40" y2="457.70" stroke="#000" stroke-width="1.2"/>
<line x1="416.60" y1="441.40" x2="419.40" y2="441.40" stroke="#000" stroke-width="1.2"/>
<line x1="416.60" y1="425.10" x2="419.40" y2="425.10" stroke="#000" stroke-width="1.2"/>
<line x1="416.60" y1="408.80" x2="419.40" y2="408.80" stroke="#000" stroke-width="1.2"/>
<line x1="416.60" y1="392.50" x2="419.40" y2="392.50" stroke="#000" stroke-width="1.2"/>
<line x1="418.80" y1="457.70" x2="516.50" y2="457.70" stroke="#000" stroke-width="1.2"/>
<circle cx="434.40" cy="434.06" r="1.40" fill="#c8102e"/>
<circle cx="428.40" cy="440.18" r="1.40" fill="#c8102e"/>
<circle cx="440.40" cy="440.99" r="1.40" fill="#c8102e"/>
<circle cx="434.40" cy="446.53" r="1.40" fill="#c8102e"/>
<circle cx="431.40" cy="443.84" r="1.40" fill="#c8102e"/>
<circle cx="437.40" cy="443.03" r="1.40" fill="#c8102e"/>
<circle cx="434.40" cy="438.14" r="1.40" fill="#c8102e"/>
<line x1="427.10" y1="441.56" x2="441.70" y2="441.56" stroke="#8b1a1a" stroke-width="0.9"/>
<line x1="434.40" y1="446.21" x2="434.40" y2="436.92" stroke="#8b1a1a" stroke-width="0.9"/>
<line x1="431.40" y1="446.21" x2="437.40" y2="446.21" stroke="#8b1a1a" stroke-width="0.9"/>
<line x1="431.40" y1="436.92" x2="437.40" y2="436.92" stroke="#8b1a1a" stroke-width="0.9"/>
<rect x="449.10" y="439.19" width="2.80" height="2.80" fill="#2222cc"/>
<rect x="461.10" y="443.67" width="2.80" height="2.80" fill="#2222cc"/>
<rect x="455.10" y="449.86" width="2.80" height="2.80" fill="#2222cc"/>
<rect x="452.10" y="441.63" width="2.80" height="2.80" fill="#2222cc"/>
<rect x="458.10" y="445.71" width="2.80" height="2.80" fill="#2222cc"/>
<rect x="454.10" y="446.52" width="2.80" height="2.80" fill="#2222cc"/>
<rect x="457.10" y="442.44" width="2.80" height="2.80" fill="#2222cc"/>
<line x1="449.20" y1="444.99" x2="463.80" y2="444.99" stroke="#1a1a60" stroke-width="0.9"/>
<line x1="456.50" y1="448.37" x2="456.50" y2="441.60" stroke="#1a1a60" stroke-width="0.9"/>
<line x1="453.50" y1="448.37" x2="459.50" y2="448.37" stroke="#1a1a60" stroke-width="0.9"/>
<line x1="453.50" y1="441.60" x2="459.50" y2="441.60" stroke="#1a1a60" stroke-width="0.9"/>
<polygon points="473.20,400.96 474.41,403.16 471.99,403.16" fill="#908c24"/>
<polygon points="485.20,400.96 486.41,403.16 483.99,403.16" fill="#908c24"/>
<polygon points="476.20,402.59 477.41,404.79 474.99,404.79" fill="#908c24"/>
<polygon points="482.20,403.41 483.41,405.61 480.99,405.61" fill="#908c24"/>
<polygon points="479.20,399.33 480.41,401.53 477.99,401.53" fill="#908c24"/>
<polygon points="478.20,405.04 479.41,407.24 476.99,407.24" fill="#908c24"/>
<polygon points="481.20,406.67 482.41,408.87 479.99,408.87" fill="#908c24"/>
<polygon points="479.20,423.05 480.41,425.25 477.99,425.25" fill="#908c24"/>
<polygon points="479.20,429.89 480.41,432.09 477.99,432.09" fill="#908c24"/>
<line x1="471.90" y1="406.19" x2="486.50" y2="406.19" stroke="#4a4830" stroke-width="0.9"/>
<line x1="479.20" y1="415.85" x2="479.20" y2="396.53" stroke="#4a4830" stroke-width="0.9"/>
<line x1="476.20" y1="415.85" x2="482.20" y2="415.85" stroke="#4a4830" stroke-width="0.9"/>
<line x1="476.20" y1="396.53" x2="482.20" y2="396.53" stroke="#4a4830" stroke-width="0.9"/>
<polygon points="495.70,400.75 496.91,398.55 494.49,398.55" fill="#55218a"/>
<polygon points="500.70,401.97 501.91,399.77 499.49,399.77" fill="#55218a"/>
<polygon points="507.70,400.75 508.91,398.55 506.49,398.55" fill="#55218a"/>
<polygon points="504.70,405.23 505.91,403.03 503.49,403.03" fill="#55218a"/>
<polygon points="501.70,403.60 502.91,401.40 500.49,401.40" fill="#55218a"/>
<polygon points="496.70,418.03 497.91,415.83 495.49,415.83" fill="#55218a"/>
<polygon points="505.70,418.03 506.91,415.83 504.49,415.83" fill="#55218a"/>
<line x1="494.40" y1="407.09" x2="509.00" y2="407.09" stroke="#3a1a4a" stroke-width="0.9"/>
<line x1="501.70" y1="414.50" x2="501.70" y2="399.67" stroke="#3a1a4a" stroke-width="0.9"/>
<line x1="498.70" y1="414.50" x2="504.70" y2="414.50" stroke="#3a1a4a" stroke-width="0.9"/>
<line x1="498.70" y1="399.67" x2="504.70" y2="399.67" stroke="#3a1a4a" stroke-width="0.9"/>
<text x="39.80" y="102.49" font-size="7.2" text-anchor="end" font-weight="bold">0</text>
<text x="39.80" y="79.67" font-size="7.2" text-anchor="end" font-weight="bold">20</text>
<text x="39.80" y="56.84" font-size="7.2" text-anchor="end" font-weight="bold">40</text>
<text x="39.80" y="34.02" font-size="7.2" text-anchor="end" font-weight="bold">60</text>
<text x="39.80" y="11.19" font-size="7.2" text-anchor="end" font-weight="bold">80</text>
<text x="43.40" y="111.10" font-size="7.2" text-anchor="middle" font-weight="bold">2</text>
<text x="57.77" y="111.10" font-size="7.2" text-anchor="middle" font-weight="bold">6</text>
<text x="72.14" y="111.10" font-size="7.2" text-anchor="middle" font-weight="bold">10</text>
<text x="86.51" y="111.10" font-size="7.2" text-anchor="middle" font-weight="bold">14</text>
<text x="100.89" y="111.10" font-size="7.2" text-anchor="middle" font-weight="bold">18</text>
<text x="115.26" y="111.10" font-size="7.2" text-anchor="middle" font-weight="bold">22</text>
<text x="129.63" y="111.10" font-size="7.2" text-anchor="middle" font-weight="bold">26</text>
<text x="144.00" y="111.10" font-size="7.2" text-anchor="middle" font-weight="bold">30</text>
<text x="22.60" y="53.80" font-size="8.8" text-anchor="middle" font-weight="bold" transform="rotate(-90 22.60 53.80)">Body Weight (g)</text>
<text x="97.60" y="121.70" font-size="7.7" text-anchor="middle" font-weight="bold">Age (weeks)</text>
<text x="195.80" y="34.70" font-size="7.5" text-anchor="start" font-weight="bold">WT</text>
<text x="195.80" y="47.20" font-size="7.5" text-anchor="start" font-weight="bold"><tspan font-style="italic">mg53-/-</tspan></text>
<text x="195.80" y="59.90" font-size="7.5" text-anchor="start" font-weight="bold">db/db</text>
<text x="195.80" y="72.20" font-size="7.5" text-anchor="start" font-weight="bold">db/db-<tspan font-style="italic">mg53-/-</tspan></text>
<text x="0.00" y="10.60" font-size="15.0" text-anchor="start" font-weight="bold" class="lt">A</text>
<text x="25.90" y="221.58" font-size="6.6" text-anchor="end" font-weight="bold">0</text>
<text x="25.90" y="195.94" font-size="6.6" text-anchor="end" font-weight="bold">250</text>
<text x="25.90" y="170.31" font-size="6.6" text-anchor="end" font-weight="bold">500</text>
<text x="25.90" y="144.68" font-size="6.6" text-anchor="end" font-weight="bold">750</text>
<text x="28.90" y="228.00" font-size="6.6" text-anchor="middle" font-weight="bold">0</text>
<text x="51.52" y="228.00" font-size="6.6" text-anchor="middle" font-weight="bold">30</text>
<text x="74.15" y="228.00" font-size="6.6" text-anchor="middle" font-weight="bold">60</text>
<text x="96.78" y="228.00" font-size="6.6" text-anchor="middle" font-weight="bold">90</text>
<text x="119.40" y="228.00" font-size="6.6" text-anchor="middle" font-weight="bold">120</text>
<text x="11.20" y="180.75" font-size="7.6" text-anchor="middle" font-weight="bold" transform="rotate(-90 11.20 180.75)">Glucose (mg/dL)</text>
<text x="74.15" y="238.30" font-size="6.6" text-anchor="middle" font-weight="bold">Time (min)</text>
<text x="155.00" y="223.28" font-size="6.6" text-anchor="end" font-weight="bold">0</text>
<text x="155.00" y="196.89" font-size="6.6" text-anchor="end" font-weight="bold">250</text>
<text x="155.00" y="170.51" font-size="6.6" text-anchor="end" font-weight="bold">500</text>
<text x="155.00" y="144.13" font-size="6.6" text-anchor="end" font-weight="bold">750</text>
<text x="158.00" y="230.40" font-size="6.6" text-anchor="middle" font-weight="bold">0</text>
<text x="181.38" y="230.40" font-size="6.6" text-anchor="middle" font-weight="bold">30</text>
<text x="204.75" y="230.40" font-size="6.6" text-anchor="middle" font-weight="bold">60</text>
<text x="228.12" y="230.40" font-size="6.6" text-anchor="middle" font-weight="bold">90</text>
<text x="251.50" y="230.40" font-size="6.6" text-anchor="middle" font-weight="bold">120</text>
<text x="140.20" y="181.32" font-size="7.6" text-anchor="middle" font-weight="bold" transform="rotate(-90 140.20 181.32)">Glucose (mg/dL)</text>
<text x="204.75" y="240.00" font-size="6.6" text-anchor="middle" font-weight="bold">Time (min)</text>
<text x="24.50" y="346.63" font-size="6.6" text-anchor="end" font-weight="bold">0</text>
<text x="24.50" y="320.38" font-size="6.6" text-anchor="end" font-weight="bold">200</text>
<text x="24.50" y="294.13" font-size="6.6" text-anchor="end" font-weight="bold">400</text>
<text x="24.50" y="267.88" font-size="6.6" text-anchor="end" font-weight="bold">600</text>
<text x="27.50" y="353.75" font-size="6.6" text-anchor="middle" font-weight="bold">0</text>
<text x="50.81" y="353.75" font-size="6.6" text-anchor="middle" font-weight="bold">30</text>
<text x="74.12" y="353.75" font-size="6.6" text-anchor="middle" font-weight="bold">60</text>
<text x="97.44" y="353.75" font-size="6.6" text-anchor="middle" font-weight="bold">90</text>
<text x="120.75" y="353.75" font-size="6.6" text-anchor="middle" font-weight="bold">120</text>
<text x="8.90" y="304.88" font-size="7.6" text-anchor="middle" font-weight="bold" transform="rotate(-90 8.90 304.88)">Glucose (mg/dL)</text>
<text x="74.12" y="363.50" font-size="6.6" text-anchor="middle" font-weight="bold">Time (min)</text>
<text x="157.00" y="346.88" font-size="6.6" text-anchor="end" font-weight="bold">0</text>
<text x="157.00" y="320.54" font-size="6.6" text-anchor="end" font-weight="bold">200</text>
<text x="157.00" y="294.21" font-size="6.6" text-anchor="end" font-weight="bold">400</text>
<text x="157.00" y="267.88" font-size="6.6" text-anchor="end" font-weight="bold">600</text>
<text x="160.00" y="354.00" font-size="6.6" text-anchor="middle" font-weight="bold">0</text>
<text x="183.00" y="354.00" font-size="6.6" text-anchor="middle" font-weight="bold">30</text>
<text x="206.00" y="354.00" font-size="6.6" text-anchor="middle" font-weight="bold">60</text>
<text x="229.00" y="354.00" font-size="6.6" text-anchor="middle" font-weight="bold">90</text>
<text x="252.00" y="354.00" font-size="6.6" text-anchor="middle" font-weight="bold">120</text>
<text x="140.80" y="305.00" font-size="7.6" text-anchor="middle" font-weight="bold" transform="rotate(-90 140.80 305.00)">Glucose (mg/dL)</text>
<text x="206.00" y="363.50" font-size="6.6" text-anchor="middle" font-weight="bold">Time (min)</text>
<text x="24.00" y="460.70" font-size="6.1" text-anchor="end" font-weight="bold" class="ms">0</text>
<text x="24.00" y="444.25" font-size="6.1" text-anchor="end" font-weight="bold" class="ms">20000</text>
<text x="24.00" y="427.80" font-size="6.1" text-anchor="end" font-weight="bold" class="ms">40000</text>
<text x="24.00" y="411.35" font-size="6.1" text-anchor="end" font-weight="bold" class="ms">60000</text>
<text x="24.00" y="394.90" font-size="6.1" text-anchor="end" font-weight="bold" class="ms">80000</text>
<text x="76.40" y="384.50" font-size="6.5" text-anchor="middle" font-weight="bold" class="ns">GTT 18 weeks AUC</text>
<text x="45.40" y="466.50" font-size="6.4" text-anchor="end" font-weight="bold" transform="rotate(-45 45.40 466.50)" class="ms">WT</text>
<text x="67.40" y="466.50" font-size="6.4" text-anchor="end" font-weight="bold" transform="rotate(-45 67.40 466.50)" class="ms"><tspan font-style="italic">mg53-/-</tspan></text>
<text x="89.60" y="466.50" font-size="6.4" text-anchor="end" font-weight="bold" transform="rotate(-45 89.60 466.50)" class="ms">db/db</text>
<text x="112.00" y="466.50" font-size="6.4" text-anchor="end" font-weight="bold" transform="rotate(-45 112.00 466.50)" class="ms">db/db-<tspan font-style="italic">mg53-/-</tspan></text>
<text x="155.60" y="460.50" font-size="6.1" text-anchor="end" font-weight="bold" class="ms">0</text>
<text x="155.60" y="443.85" font-size="6.1" text-anchor="end" font-weight="bold" class="ms">20000</text>
<text x="155.60" y="427.20" font-size="6.1" text-anchor="end" font-weight="bold" class="ms">40000</text>
<text x="155.60" y="410.55" font-size="6.1" text-anchor="end" font-weight="bold" class="ms">60000</text>
<text x="155.60" y="393.90" font-size="6.1" text-anchor="end" font-weight="bold" class="ms">80000</text>
<text x="209.80" y="381.60" font-size="6.5" text-anchor="middle" font-weight="bold" class="ns">GTT 30 weeks AUC</text>
<text x="177.00" y="466.30" font-size="6.4" text-anchor="end" font-weight="bold" transform="rotate(-45 177.00 466.30)" class="ms">WT</text>
<text x="200.50" y="466.30" font-size="6.4" text-anchor="end" font-weight="bold" transform="rotate(-45 200.50 466.30)" class="ms"><tspan font-style="italic">mg53-/-</tspan></text>
<text x="223.50" y="466.30" font-size="6.4" text-anchor="end" font-weight="bold" transform="rotate(-45 223.50 466.30)" class="ms">db/db</text>
<text x="246.60" y="466.30" font-size="6.4" text-anchor="end" font-weight="bold" transform="rotate(-45 246.60 466.30)" class="ms">db/db-<tspan font-style="italic">mg53-/-</tspan></text>
<text x="0.00" y="376.90" font-size="15.0" text-anchor="start" font-weight="bold" class="lt">D</text>
<text x="0.00" y="124.90" font-size="15.0" text-anchor="start" font-weight="bold" class="lt">B</text>
<text x="0.00" y="250.30" font-size="15.0" text-anchor="start" font-weight="bold" class="lt">C</text>
<text x="301.95" y="101.79" font-size="7.2" text-anchor="end" font-weight="bold">0</text>
<text x="301.95" y="78.94" font-size="7.2" text-anchor="end" font-weight="bold">20</text>
<text x="301.95" y="56.09" font-size="7.2" text-anchor="end" font-weight="bold">40</text>
<text x="301.95" y="33.24" font-size="7.2" text-anchor="end" font-weight="bold">60</text>
<text x="301.95" y="10.39" font-size="7.2" text-anchor="end" font-weight="bold">80</text>
<text x="306.25" y="110.60" font-size="7.2" text-anchor="middle" font-weight="bold">2</text>
<text x="320.33" y="110.60" font-size="7.2" text-anchor="middle" font-weight="bold">6</text>
<text x="334.41" y="110.60" font-size="7.2" text-anchor="middle" font-weight="bold">10</text>
<text x="348.49" y="110.60" font-size="7.2" text-anchor="middle" font-weight="bold">14</text>
<text x="362.56" y="110.60" font-size="7.2" text-anchor="middle" font-weight="bold">18</text>
<text x="376.64" y="110.60" font-size="7.2" text-anchor="middle" font-weight="bold">22</text>
<text x="390.72" y="110.60" font-size="7.2" text-anchor="middle" font-weight="bold">26</text>
<text x="404.80" y="110.60" font-size="7.2" text-anchor="middle" font-weight="bold">30</text>
<text x="284.00" y="52.80" font-size="8.7" text-anchor="middle" font-weight="bold" transform="rotate(-90 284.00 52.80)">Body Weight (g)</text>
<text x="359.10" y="121.50" font-size="7.7" text-anchor="middle" font-weight="bold">Age (weeks)</text>
<text x="457.20" y="34.40" font-size="7.5" text-anchor="start" font-weight="bold">WT</text>
<text x="457.20" y="46.30" font-size="7.5" text-anchor="start" font-weight="bold">tPA-MG53</text>
<text x="457.20" y="58.50" font-size="7.5" text-anchor="start" font-weight="bold">db/db</text>
<text x="457.20" y="71.00" font-size="7.5" text-anchor="start" font-weight="bold">db/db-tPA-MG53</text>
<text x="257.70" y="10.60" font-size="15.0" text-anchor="start" font-weight="bold" class="lt">E</text>
<text x="286.40" y="223.13" font-size="6.6" text-anchor="end" font-weight="bold">0</text>
<text x="286.40" y="196.88" font-size="6.6" text-anchor="end" font-weight="bold">250</text>
<text x="286.40" y="170.63" font-size="6.6" text-anchor="end" font-weight="bold">500</text>
<text x="286.40" y="144.38" font-size="6.6" text-anchor="end" font-weight="bold">750</text>
<text x="289.40" y="230.25" font-size="6.6" text-anchor="middle" font-weight="bold">0</text>
<text x="312.67" y="230.25" font-size="6.6" text-anchor="middle" font-weight="bold">30</text>
<text x="335.95" y="230.25" font-size="6.6" text-anchor="middle" font-weight="bold">60</text>
<text x="359.23" y="230.25" font-size="6.6" text-anchor="middle" font-weight="bold">90</text>
<text x="382.50" y="230.25" font-size="6.6" text-anchor="middle" font-weight="bold">120</text>
<text x="271.30" y="181.38" font-size="7.6" text-anchor="middle" font-weight="bold" transform="rotate(-90 271.30 181.38)">Glucose (mg/dL)</text>
<text x="335.95" y="240.00" font-size="6.6" text-anchor="middle" font-weight="bold">Time (min)</text>
<text x="416.50" y="223.28" font-size="6.6" text-anchor="end" font-weight="bold">0</text>
<text x="416.50" y="196.88" font-size="6.6" text-anchor="end" font-weight="bold">250</text>
<text x="416.50" y="170.48" font-size="6.6" text-anchor="end" font-weight="bold">500</text>
<text x="416.50" y="144.08" font-size="6.6" text-anchor="end" font-weight="bold">750</text>
<text x="419.50" y="230.40" font-size="6.6" text-anchor="middle" font-weight="bold">0</text>
<text x="442.88" y="230.40" font-size="6.6" text-anchor="middle" font-weight="bold">30</text>
<text x="466.25" y="230.40" font-size="6.6" text-anchor="middle" font-weight="bold">60</text>
<text x="489.62" y="230.40" font-size="6.6" text-anchor="middle" font-weight="bold">90</text>
<text x="513.00" y="230.40" font-size="6.6" text-anchor="middle" font-weight="bold">120</text>
<text x="401.00" y="181.30" font-size="7.6" text-anchor="middle" font-weight="bold" transform="rotate(-90 401.00 181.30)">Glucose (mg/dL)</text>
<text x="466.25" y="240.00" font-size="6.6" text-anchor="middle" font-weight="bold">Time (min)</text>
<text x="257.70" y="125.00" font-size="15.0" text-anchor="start" font-weight="bold" class="lt">F</text>
<text x="290.25" y="346.63" font-size="6.6" text-anchor="end" font-weight="bold">0</text>
<text x="290.25" y="319.98" font-size="6.6" text-anchor="end" font-weight="bold">200</text>
<text x="290.25" y="293.33" font-size="6.6" text-anchor="end" font-weight="bold">400</text>
<text x="290.25" y="266.68" font-size="6.6" text-anchor="end" font-weight="bold">600</text>
<text x="293.25" y="353.75" font-size="6.6" text-anchor="middle" font-weight="bold">0</text>
<text x="316.81" y="353.75" font-size="6.6" text-anchor="middle" font-weight="bold">30</text>
<text x="340.38" y="353.75" font-size="6.6" text-anchor="middle" font-weight="bold">60</text>
<text x="363.94" y="353.75" font-size="6.6" text-anchor="middle" font-weight="bold">90</text>
<text x="387.50" y="353.75" font-size="6.6" text-anchor="middle" font-weight="bold">120</text>
<text x="274.00" y="304.27" font-size="7.6" text-anchor="middle" font-weight="bold" transform="rotate(-90 274.00 304.27)">Glucose (mg/dL)</text>
<text x="340.38" y="363.80" font-size="6.6" text-anchor="middle" font-weight="bold">Time (min)</text>
<text x="415.00" y="347.48" font-size="6.6" text-anchor="end" font-weight="bold">0</text>
<text x="415.00" y="320.21" font-size="6.6" text-anchor="end" font-weight="bold">200</text>
<text x="415.00" y="292.94" font-size="6.6" text-anchor="end" font-weight="bold">400</text>
<text x="415.00" y="265.68" font-size="6.6" text-anchor="end" font-weight="bold">600</text>
<text x="418.00" y="354.60" font-size="6.6" text-anchor="middle" font-weight="bold">0</text>
<text x="442.07" y="354.60" font-size="6.6" text-anchor="middle" font-weight="bold">30</text>
<text x="466.15" y="354.60" font-size="6.6" text-anchor="middle" font-weight="bold">60</text>
<text x="490.22" y="354.60" font-size="6.6" text-anchor="middle" font-weight="bold">90</text>
<text x="514.30" y="354.60" font-size="6.6" text-anchor="middle" font-weight="bold">120</text>
<text x="398.40" y="304.20" font-size="7.6" text-anchor="middle" font-weight="bold" transform="rotate(-90 398.40 304.20)">Glucose (mg/dL)</text>
<text x="466.15" y="364.00" font-size="6.6" text-anchor="middle" font-weight="bold">Time (min)</text>
<text x="257.70" y="250.30" font-size="15.0" text-anchor="start" font-weight="bold" class="lt">G</text>
<text x="290.70" y="460.50" font-size="6.1" text-anchor="end" font-weight="bold" class="ms">0</text>
<text x="290.70" y="444.25" font-size="6.1" text-anchor="end" font-weight="bold" class="ms">20000</text>
<text x="290.70" y="428.00" font-size="6.1" text-anchor="end" font-weight="bold" class="ms">40000</text>
<text x="290.70" y="411.75" font-size="6.1" text-anchor="end" font-weight="bold" class="ms">60000</text>
<text x="290.70" y="395.50" font-size="6.1" text-anchor="end" font-weight="bold" class="ms">80000</text>
<text x="342.90" y="384.00" font-size="6.5" text-anchor="middle" font-weight="bold" class="ns">GTT 18 weeks AUC</text>
<text x="310.30" y="466.30" font-size="6.4" text-anchor="end" font-weight="bold" transform="rotate(-45 310.30 466.30)" class="ms">WT</text>
<text x="333.40" y="466.30" font-size="6.4" text-anchor="end" font-weight="bold" transform="rotate(-45 333.40 466.30)" class="ms">tPA-MG53</text>
<text x="356.40" y="466.30" font-size="6.4" text-anchor="end" font-weight="bold" transform="rotate(-45 356.40 466.30)" class="ms">db/db</text>
<text x="378.50" y="466.30" font-size="6.4" text-anchor="end" font-weight="bold" transform="rotate(-45 378.50 466.30)" class="ms">db/db-tPA-MG53</text>
<text x="416.00" y="459.90" font-size="6.1" text-anchor="end" font-weight="bold" class="ms">0</text>
<text x="416.00" y="443.60" font-size="6.1" text-anchor="end" font-weight="bold" class="ms">20000</text>
<text x="416.00" y="427.30" font-size="6.1" text-anchor="end" font-weight="bold" class="ms">40000</text>
<text x="416.00" y="411.00" font-size="6.1" text-anchor="end" font-weight="bold" class="ms">60000</text>
<text x="416.00" y="394.70" font-size="6.1" text-anchor="end" font-weight="bold" class="ms">80000</text>
<text x="469.20" y="384.40" font-size="6.5" text-anchor="middle" font-weight="bold" class="ns">GTT 30 weeks AUC</text>
<text x="436.40" y="465.70" font-size="6.4" text-anchor="end" font-weight="bold" transform="rotate(-45 436.40 465.70)" class="ms">WT</text>
<text x="458.50" y="465.70" font-size="6.4" text-anchor="end" font-weight="bold" transform="rotate(-45 458.50 465.70)" class="ms">tPA-MG53</text>
<text x="481.20" y="465.70" font-size="6.4" text-anchor="end" font-weight="bold" transform="rotate(-45 481.20 465.70)" class="ms">db/db</text>
<text x="503.70" y="465.70" font-size="6.4" text-anchor="end" font-weight="bold" transform="rotate(-45 503.70 465.70)" class="ms">db/db-tPA-MG53</text>
<text x="262.50" y="376.90" font-size="15.0" text-anchor="start" font-weight="bold" class="lt">H</text>
</svg></body></html>
